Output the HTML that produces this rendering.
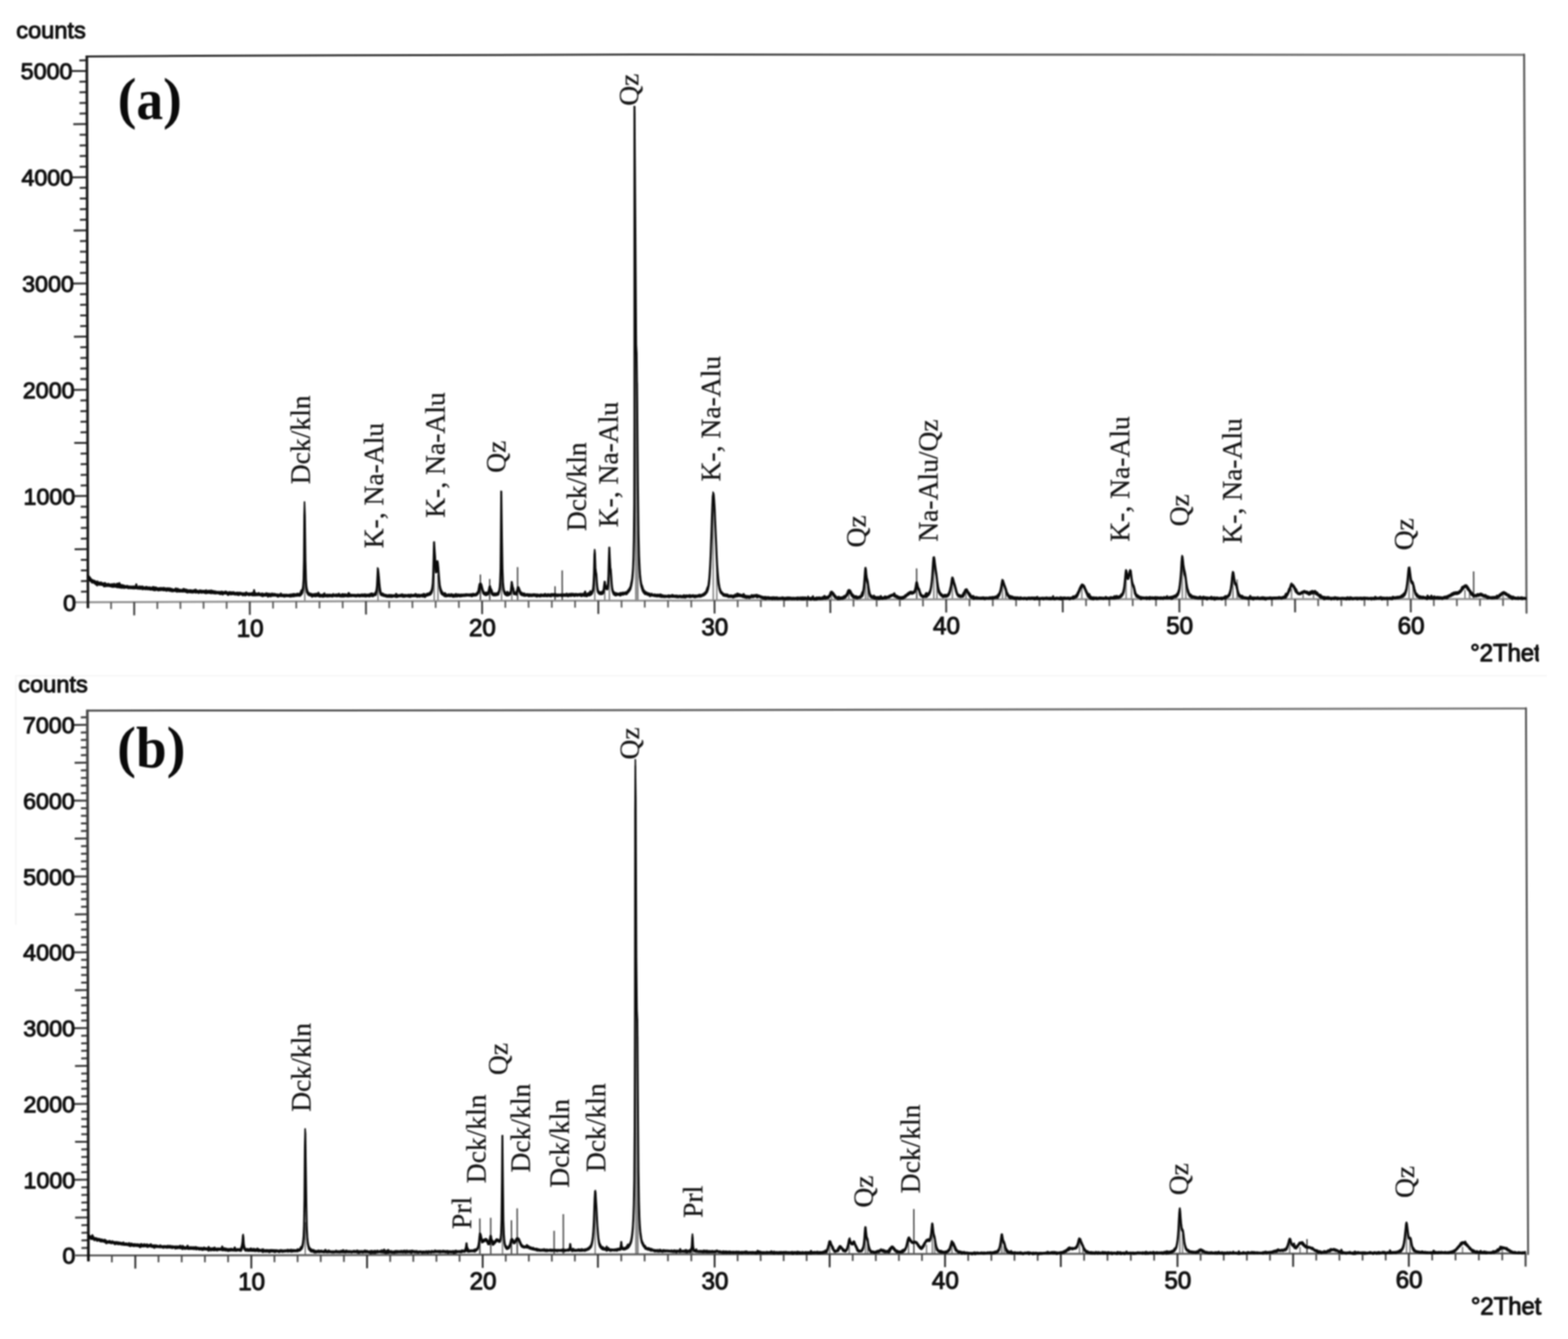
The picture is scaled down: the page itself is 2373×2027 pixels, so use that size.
<!DOCTYPE html>
<html lang="en">
<head>
<meta charset="utf-8">
<title>XRD patterns</title>
<style>
html,body{margin:0;padding:0;background:#fff;}
body{width:2373px;height:2027px;overflow:hidden;}
svg{display:block;filter:blur(0.8px);}
.sans text{font-family:"Liberation Sans",sans-serif;font-size:35.8px;fill:#111;stroke:#111;stroke-width:1.5px;stroke-linejoin:round;}
.sans text.yl{font-size:35.2px;}
.sans text.xl{font-size:36.6px;}
.sans text.th{font-size:36.4px;letter-spacing:-0.2px;}
.serif text{font-family:"Liberation Serif",serif;font-size:41.7px;fill:#151515;stroke:#151515;stroke-width:0.35px;}
.serifb text{font-family:"Liberation Serif",serif;font-size:88px;font-weight:bold;fill:#0a0a0a;}
.serifb .par{font-size:85.7px;}
</style>
</head>
<body>
<svg width="2373" height="2027" viewBox="0 0 2373 2027">
<defs>
<linearGradient id="gtop" gradientUnits="userSpaceOnUse" x1="130" y1="0" x2="2310" y2="0"><stop offset="0" stop-color="#222"/><stop offset="0.45" stop-color="#3a3a3a"/><stop offset="1" stop-color="#707070"/></linearGradient>
<linearGradient id="gleftb" gradientUnits="userSpaceOnUse" x1="0" y1="1075" x2="0" y2="1910"><stop offset="0" stop-color="#4a4a4a"/><stop offset="0.6" stop-color="#2a2a2a"/><stop offset="1" stop-color="#0c0c0c"/></linearGradient>
<linearGradient id="gtopb" gradientUnits="userSpaceOnUse" x1="130" y1="0" x2="2310" y2="0"><stop offset="0" stop-color="#484848"/><stop offset="0.4" stop-color="#5a5a5a"/><stop offset="1" stop-color="#767676"/></linearGradient>
<clipPath id="clipA"><rect x="2200" y="960" width="129" height="60"/></clipPath>
<clipPath id="clipB"><rect x="2200" y="1950" width="134.5" height="60"/></clipPath>
</defs>
<rect x="0" y="0" width="2373" height="2027" fill="#ffffff"/>
<g id="plotA">
<g stroke="#6e6e6e" stroke-width="1.9"><line x1="461.3" y1="910.5" x2="461.2" y2="870.5"/><line x1="572.1" y1="910.2" x2="572" y2="870.2"/><line x1="657.2" y1="909.9" x2="657" y2="839.9"/><line x1="662.8" y1="909.8" x2="662.7" y2="869.8"/><line x1="727.1" y1="909.7" x2="727" y2="869.7" stroke="#3c3c3c" stroke-width="2"/><line x1="741.2" y1="909.6" x2="741.1" y2="876.6" stroke="#3c3c3c" stroke-width="2"/><line x1="759.1" y1="909.6" x2="758.7" y2="769.6"/><line x1="774.6" y1="909.6" x2="774.5" y2="881.6"/><line x1="783.4" y1="909.6" x2="783.3" y2="858.6" stroke="#3c3c3c" stroke-width="2"/><line x1="840" y1="909.5" x2="840" y2="887.5" stroke="#3c3c3c" stroke-width="2"/><line x1="850.9" y1="909.4" x2="850.8" y2="863.4" stroke="#3c3c3c" stroke-width="2"/><line x1="900.2" y1="909.4" x2="900" y2="849.4"/><line x1="915.3" y1="909.3" x2="915.2" y2="881.3"/><line x1="922.3" y1="909.3" x2="922.1" y2="839.3"/><line x1="962.4" y1="909.3" x2="960.2" y2="169.3" stroke-width="2.4" stroke="#7a7a7a"/><line x1="965.2" y1="909.3" x2="964.2" y2="579.3" stroke-width="2.4" stroke="#7a7a7a"/><line x1="1079.5" y1="908.8" x2="1079.1" y2="768.8"/><line x1="1084.8" y1="908.8" x2="1084.6" y2="838.8"/><line x1="1258.4" y1="908" x2="1258.3" y2="898"/><line x1="1284.6" y1="907.9" x2="1284.6" y2="895.9"/><line x1="1309.9" y1="907.8" x2="1309.8" y2="867.8"/><line x1="1313.4" y1="907.7" x2="1313.3" y2="887.7"/><line x1="1387.4" y1="907.4" x2="1387.2" y2="860.4" stroke="#3c3c3c" stroke-width="2"/><line x1="1413.3" y1="907.3" x2="1413.2" y2="852.3"/><line x1="1417.9" y1="907.3" x2="1417.8" y2="879.3"/><line x1="1441.4" y1="907.2" x2="1441.3" y2="879.2"/><line x1="1461.9" y1="907.2" x2="1461.9" y2="895.2"/><line x1="1517.3" y1="907.2" x2="1517.2" y2="883.2"/><line x1="1521.9" y1="907.2" x2="1521.9" y2="895.2"/><line x1="1637.3" y1="907.1" x2="1637.2" y2="889.1"/><line x1="1704.3" y1="907.1" x2="1704.2" y2="871.1"/><line x1="1712.5" y1="907.1" x2="1712.4" y2="873.1"/><line x1="1789.4" y1="907.1" x2="1789.2" y2="849.1"/><line x1="1794.6" y1="907.1" x2="1794.5" y2="879.1"/><line x1="1866" y1="907.1" x2="1865.9" y2="873.1"/><line x1="1872.3" y1="907.1" x2="1872.3" y2="877.1"/><line x1="1954.6" y1="907.1" x2="1954.6" y2="891.1"/><line x1="1972.2" y1="907" x2="1972.1" y2="899"/><line x1="1987.9" y1="907" x2="1987.9" y2="899"/><line x1="2132.5" y1="907" x2="2132.4" y2="865"/><line x1="2138.5" y1="907" x2="2138.4" y2="887"/><line x1="2217.1" y1="906.9" x2="2217" y2="892.9"/><line x1="2224" y1="906.9" x2="2224" y2="892.9"/><line x1="2230.3" y1="906.9" x2="2230.2" y2="864.9" stroke="#3c3c3c" stroke-width="2"/><line x1="2274.7" y1="906.8" x2="2274.7" y2="899.8"/></g>
<polyline points="113.1,911.7 700,909.7 1000,909.2 1430,907.2 2134,907 2309.6,906.8" fill="none" stroke="#909090" stroke-width="3"/>
<line x1="168.1" y1="911.6" x2="168.1" y2="922.1" stroke="#555" stroke-width="2.5"/>
<line x1="203.1" y1="911.5" x2="203.1" y2="931.5" stroke="#3a3a3a" stroke-width="2.8"/>
<line x1="238.1" y1="911.3" x2="238.1" y2="921.8" stroke="#555" stroke-width="2.5"/>
<line x1="273" y1="911.2" x2="273.1" y2="921.7" stroke="#555" stroke-width="2.5"/>
<line x1="308" y1="911.1" x2="308.1" y2="921.6" stroke="#555" stroke-width="2.5"/>
<line x1="343" y1="911" x2="343" y2="921.5" stroke="#555" stroke-width="2.5"/>
<line x1="378" y1="910.8" x2="378.1" y2="930.8" stroke="#3a3a3a" stroke-width="2.8"/>
<line x1="413.2" y1="910.7" x2="413.2" y2="921.2" stroke="#555" stroke-width="2.5"/>
<line x1="448.3" y1="910.6" x2="448.4" y2="921.1" stroke="#555" stroke-width="2.5"/>
<line x1="483.5" y1="910.5" x2="483.5" y2="921" stroke="#555" stroke-width="2.5"/>
<line x1="518.6" y1="910.3" x2="518.7" y2="920.8" stroke="#555" stroke-width="2.5"/>
<line x1="553.8" y1="910.2" x2="553.9" y2="930.2" stroke="#3a3a3a" stroke-width="2.8"/>
<line x1="589" y1="910.1" x2="589" y2="920.6" stroke="#555" stroke-width="2.5"/>
<line x1="624.1" y1="910" x2="624.2" y2="920.5" stroke="#555" stroke-width="2.5"/>
<line x1="659.3" y1="909.8" x2="659.3" y2="920.3" stroke="#555" stroke-width="2.5"/>
<line x1="694.4" y1="909.7" x2="694.5" y2="920.2" stroke="#555" stroke-width="2.5"/>
<line x1="729.6" y1="909.7" x2="729.7" y2="929.7" stroke="#3a3a3a" stroke-width="2.8"/>
<line x1="764.8" y1="909.6" x2="764.8" y2="920.1" stroke="#555" stroke-width="2.5"/>
<line x1="799.9" y1="909.5" x2="800" y2="920" stroke="#555" stroke-width="2.5"/>
<line x1="835.1" y1="909.5" x2="835.1" y2="920" stroke="#555" stroke-width="2.5"/>
<line x1="870.3" y1="909.4" x2="870.3" y2="919.9" stroke="#555" stroke-width="2.5"/>
<line x1="905.5" y1="909.4" x2="905.5" y2="929.4" stroke="#3a3a3a" stroke-width="2.8"/>
<line x1="940.6" y1="909.3" x2="940.7" y2="919.8" stroke="#555" stroke-width="2.5"/>
<line x1="975.8" y1="909.2" x2="975.8" y2="919.7" stroke="#555" stroke-width="2.5"/>
<line x1="1011" y1="909.1" x2="1011" y2="919.6" stroke="#555" stroke-width="2.5"/>
<line x1="1046.1" y1="909" x2="1046.2" y2="919.5" stroke="#555" stroke-width="2.5"/>
<line x1="1081.3" y1="908.8" x2="1081.4" y2="928.8" stroke="#3a3a3a" stroke-width="2.8"/>
<line x1="1116.4" y1="908.7" x2="1116.4" y2="919.2" stroke="#555" stroke-width="2.5"/>
<line x1="1151.4" y1="908.5" x2="1151.5" y2="919" stroke="#555" stroke-width="2.5"/>
<line x1="1186.5" y1="908.3" x2="1186.5" y2="918.8" stroke="#555" stroke-width="2.5"/>
<line x1="1221.5" y1="908.2" x2="1221.6" y2="918.7" stroke="#555" stroke-width="2.5"/>
<line x1="1256.6" y1="908" x2="1256.7" y2="928" stroke="#3a3a3a" stroke-width="2.8"/>
<line x1="1291.7" y1="907.8" x2="1291.7" y2="918.3" stroke="#555" stroke-width="2.5"/>
<line x1="1326.7" y1="907.7" x2="1326.8" y2="918.2" stroke="#555" stroke-width="2.5"/>
<line x1="1361.8" y1="907.5" x2="1361.8" y2="918" stroke="#555" stroke-width="2.5"/>
<line x1="1396.8" y1="907.4" x2="1396.9" y2="917.9" stroke="#555" stroke-width="2.5"/>
<line x1="1431.9" y1="907.2" x2="1432" y2="927.2" stroke="#3a3a3a" stroke-width="2.8"/>
<line x1="1467.2" y1="907.2" x2="1467.2" y2="917.7" stroke="#555" stroke-width="2.5"/>
<line x1="1502.5" y1="907.2" x2="1502.5" y2="917.7" stroke="#555" stroke-width="2.5"/>
<line x1="1537.8" y1="907.2" x2="1537.8" y2="917.7" stroke="#555" stroke-width="2.5"/>
<line x1="1573.1" y1="907.2" x2="1573.1" y2="917.7" stroke="#555" stroke-width="2.5"/>
<line x1="1608.3" y1="907.1" x2="1608.4" y2="927.1" stroke="#3a3a3a" stroke-width="2.8"/>
<line x1="1643.6" y1="907.1" x2="1643.7" y2="917.6" stroke="#555" stroke-width="2.5"/>
<line x1="1678.9" y1="907.1" x2="1679" y2="917.6" stroke="#555" stroke-width="2.5"/>
<line x1="1714.2" y1="907.1" x2="1714.3" y2="917.6" stroke="#555" stroke-width="2.5"/>
<line x1="1749.5" y1="907.1" x2="1749.5" y2="917.6" stroke="#555" stroke-width="2.5"/>
<line x1="1784.8" y1="907.1" x2="1784.9" y2="927.1" stroke="#3a3a3a" stroke-width="2.8"/>
<line x1="1819.8" y1="907.1" x2="1819.9" y2="917.6" stroke="#555" stroke-width="2.5"/>
<line x1="1854.8" y1="907.1" x2="1854.9" y2="917.6" stroke="#555" stroke-width="2.5"/>
<line x1="1889.9" y1="907.1" x2="1889.9" y2="917.6" stroke="#555" stroke-width="2.5"/>
<line x1="1924.9" y1="907.1" x2="1924.9" y2="917.6" stroke="#555" stroke-width="2.5"/>
<line x1="1959.9" y1="907" x2="1960" y2="927" stroke="#3a3a3a" stroke-width="2.8"/>
<line x1="1994.9" y1="907" x2="1995" y2="917.5" stroke="#555" stroke-width="2.5"/>
<line x1="2029.9" y1="907" x2="2030" y2="917.5" stroke="#555" stroke-width="2.5"/>
<line x1="2065" y1="907" x2="2065" y2="917.5" stroke="#555" stroke-width="2.5"/>
<line x1="2100" y1="907" x2="2100" y2="917.5" stroke="#555" stroke-width="2.5"/>
<line x1="2135" y1="907" x2="2135.1" y2="927" stroke="#3a3a3a" stroke-width="2.8"/>
<line x1="2169.9" y1="907" x2="2170" y2="917.5" stroke="#555" stroke-width="2.5"/>
<line x1="2204.8" y1="906.9" x2="2204.9" y2="917.4" stroke="#555" stroke-width="2.5"/>
<line x1="2239.8" y1="906.9" x2="2239.8" y2="917.4" stroke="#555" stroke-width="2.5"/>
<line x1="2274.7" y1="906.8" x2="2274.7" y2="917.3" stroke="#555" stroke-width="2.5"/>
<line x1="122.6" y1="895.8" x2="133.1" y2="895.6" stroke="#333" stroke-width="3"/>
<line x1="122.5" y1="879.7" x2="133" y2="879.5" stroke="#333" stroke-width="3"/>
<line x1="122.5" y1="863.6" x2="133" y2="863.4" stroke="#333" stroke-width="3"/>
<line x1="122.4" y1="847.6" x2="132.9" y2="847.4" stroke="#333" stroke-width="3"/>
<line x1="112.9" y1="831.5" x2="132.9" y2="831.3" stroke="#333" stroke-width="3"/>
<line x1="122.3" y1="815.4" x2="132.8" y2="815.2" stroke="#333" stroke-width="3"/>
<line x1="122.3" y1="799.3" x2="132.8" y2="799.1" stroke="#333" stroke-width="3"/>
<line x1="122.2" y1="783.2" x2="132.7" y2="783" stroke="#333" stroke-width="3"/>
<line x1="122.2" y1="767.1" x2="132.7" y2="766.9" stroke="#333" stroke-width="3"/>
<line x1="110.6" y1="751" x2="132.6" y2="750.8" stroke="#333" stroke-width="3"/>
<line x1="122.1" y1="735" x2="132.6" y2="734.8" stroke="#333" stroke-width="3"/>
<line x1="122" y1="718.9" x2="132.5" y2="718.7" stroke="#333" stroke-width="3"/>
<line x1="122" y1="702.8" x2="132.5" y2="702.6" stroke="#333" stroke-width="3"/>
<line x1="121.9" y1="686.7" x2="132.4" y2="686.5" stroke="#333" stroke-width="3"/>
<line x1="112.4" y1="670.6" x2="132.4" y2="670.4" stroke="#333" stroke-width="3"/>
<line x1="121.8" y1="654.5" x2="132.3" y2="654.3" stroke="#333" stroke-width="3"/>
<line x1="121.8" y1="638.4" x2="132.3" y2="638.2" stroke="#333" stroke-width="3"/>
<line x1="121.7" y1="622.4" x2="132.2" y2="622.2" stroke="#333" stroke-width="3"/>
<line x1="121.7" y1="606.3" x2="132.2" y2="606.1" stroke="#333" stroke-width="3"/>
<line x1="110.1" y1="590.2" x2="132.1" y2="590" stroke="#333" stroke-width="3"/>
<line x1="121.6" y1="574.1" x2="132.1" y2="573.9" stroke="#333" stroke-width="3"/>
<line x1="121.5" y1="558" x2="132" y2="557.8" stroke="#333" stroke-width="3"/>
<line x1="121.5" y1="541.9" x2="132" y2="541.7" stroke="#333" stroke-width="3"/>
<line x1="121.4" y1="525.8" x2="131.9" y2="525.6" stroke="#333" stroke-width="3"/>
<line x1="111.9" y1="509.7" x2="131.9" y2="509.5" stroke="#333" stroke-width="3"/>
<line x1="121.3" y1="493.7" x2="131.8" y2="493.5" stroke="#333" stroke-width="3"/>
<line x1="121.3" y1="477.6" x2="131.8" y2="477.4" stroke="#333" stroke-width="3"/>
<line x1="121.2" y1="461.5" x2="131.7" y2="461.3" stroke="#333" stroke-width="3"/>
<line x1="121.2" y1="445.4" x2="131.7" y2="445.2" stroke="#333" stroke-width="3"/>
<line x1="109.7" y1="429.3" x2="131.7" y2="429.1" stroke="#333" stroke-width="3"/>
<line x1="121.1" y1="413.2" x2="131.6" y2="413" stroke="#333" stroke-width="3"/>
<line x1="121.1" y1="397.1" x2="131.6" y2="396.9" stroke="#333" stroke-width="3"/>
<line x1="121" y1="381.1" x2="131.5" y2="380.9" stroke="#333" stroke-width="3"/>
<line x1="121" y1="365" x2="131.5" y2="364.8" stroke="#333" stroke-width="3"/>
<line x1="111.4" y1="348.9" x2="131.4" y2="348.7" stroke="#333" stroke-width="3"/>
<line x1="120.9" y1="332.8" x2="131.4" y2="332.6" stroke="#333" stroke-width="3"/>
<line x1="120.8" y1="316.7" x2="131.3" y2="316.5" stroke="#333" stroke-width="3"/>
<line x1="120.8" y1="300.6" x2="131.3" y2="300.4" stroke="#333" stroke-width="3"/>
<line x1="120.7" y1="284.5" x2="131.2" y2="284.3" stroke="#333" stroke-width="3"/>
<line x1="109.2" y1="268.5" x2="131.2" y2="268.3" stroke="#333" stroke-width="3"/>
<line x1="120.6" y1="252.4" x2="131.1" y2="252.2" stroke="#333" stroke-width="3"/>
<line x1="120.6" y1="236.3" x2="131.1" y2="236.1" stroke="#333" stroke-width="3"/>
<line x1="120.5" y1="220.2" x2="131" y2="220" stroke="#333" stroke-width="3"/>
<line x1="120.5" y1="204.1" x2="131" y2="203.9" stroke="#333" stroke-width="3"/>
<line x1="110.9" y1="188" x2="130.9" y2="187.8" stroke="#333" stroke-width="3"/>
<line x1="120.4" y1="171.9" x2="130.9" y2="171.7" stroke="#333" stroke-width="3"/>
<line x1="120.3" y1="155.9" x2="130.8" y2="155.7" stroke="#333" stroke-width="3"/>
<line x1="120.3" y1="139.8" x2="130.8" y2="139.6" stroke="#333" stroke-width="3"/>
<line x1="120.2" y1="123.7" x2="130.7" y2="123.5" stroke="#333" stroke-width="3"/>
<line x1="108.7" y1="107.6" x2="130.7" y2="107.4" stroke="#333" stroke-width="3"/>
<line x1="120.1" y1="91.5" x2="130.6" y2="91.3" stroke="#333" stroke-width="3"/>
<polyline points="131.4,85.6 300,84.4 960,82.6 2306.6,83" fill="none" stroke="url(#gtop)" stroke-width="3" stroke-linejoin="round"/>
<polyline points="2306.6,82.5 2310.2,927.8" fill="none" stroke="#555" stroke-width="3" stroke-linecap="round"/>
<polyline points="131.4,84.1 133.1,920.7" fill="none" stroke="#1a1a1a" stroke-width="4"/>
<polygon points="133,870.7 133.7,870.9 134.4,871.5 135.1,872.4 135.8,872.9 136.5,874.2 137.2,874.6 137.9,876.1 138.6,876.6 139.3,877 140,877.5 140.7,878.1 141.4,878 142.1,878.5 142.8,878.5 143.5,878.8 144.2,879.2 144.9,879.4 145.6,880.3 146.3,880.3 147,880.1 147.7,879.3 148.4,881.1 149.1,881.3 149.8,881 150.5,881.8 151.2,881.4 151.9,881.5 152.6,881 153.3,881 154,881.8 154.7,882.8 155.4,882.3 156.1,882.4 156.8,882.9 157.5,882.4 158.2,882.1 158.9,881.8 159.6,882.3 160.3,883 161,883.8 161.7,883.6 162.4,884.2 163.1,884 163.8,882.9 164.5,883.5 165.2,884.3 165.9,883.9 166.6,884.3 167.3,884.1 168,884.9 168.7,884.1 169.4,883.6 170.1,883.5 170.8,884.3 171.5,884.9 172.2,883.5 172.9,882.9 173.6,883.8 174.3,884.1 175,885.4 175.7,884.6 176.4,883.1 177.1,883.6 177.8,882.8 178.5,883.3 179.2,883 179.9,883.1 180.6,881.8 181.3,882.5 182,884 182.7,884.8 183.4,884.9 184.1,886.3 184.8,885.8 185.5,884.8 186.2,885.7 186.9,886.2 187.6,885.8 188.3,886.1 189,886.3 189.7,886.6 190.4,886.8 191.1,886.9 191.8,886.3 192.5,886.1 193.2,886.8 193.9,886.8 194.6,887.2 195.3,887.3 196,887.1 196.7,887.4 197.4,887.2 198.1,887.2 198.8,887.3 199.5,887.4 200.2,887.2 200.9,887.4 201.6,887.5 202.3,886.9 203,887.2 203.7,887.8 204.4,887.7 205.1,886.4 205.8,883.9 206.5,883.8 207.2,885.2 207.9,887.9 208.6,887.9 209.3,888.1 210,887.9 210.7,887.1 211.4,886.9 212.1,888.1 212.8,887.6 213.5,887.6 214.2,887.3 214.9,887.4 215.6,887.3 216.3,887.3 217,888.4 217.7,888.5 218.4,888.5 219.1,888.6 219.8,888.5 220.5,887.9 221.2,887.9 221.9,887.9 222.6,888 223.3,888.4 224,888.7 224.7,888.4 225.4,889.3 226.1,888.8 226.8,888.3 227.5,888.7 228.2,889.4 228.9,889.5 229.6,889 230.3,888.8 231,888.2 231.7,887.8 232.4,888.3 233.1,888.3 233.8,888.6 234.5,888.6 235.2,889.5 235.9,888.5 236.6,888.9 237.3,889.3 238,890.4 238.7,889.8 239.4,890.1 240.1,889.7 240.8,889.9 241.5,889.9 242.2,889.6 242.9,889.7 243.6,889.3 244.3,890.3 245,890 245.7,889.7 246.4,889.3 247.1,889.5 247.8,890.3 248.5,889.2 249.2,889.9 249.9,890.7 250.6,890.1 251.3,890 252,890.3 252.7,890.7 253.4,889.8 254.1,889.7 254.8,890 255.5,890.7 256.2,890.7 256.9,889.7 257.6,890.6 258.3,891 259,890.9 259.7,890.5 260.4,891.2 261.1,891.8 261.8,891.6 262.5,892.1 263.2,892 263.9,891.6 264.6,891.4 265.3,890.7 266,889.9 266.7,891.2 267.4,891 268.1,891.7 268.8,890.3 269.5,891.2 270.2,891.4 270.9,892.3 271.6,891.9 272.3,892.1 273,892.4 273.7,892.3 274.4,892.3 275.1,892.7 275.8,892.2 276.5,891.7 277.2,891.3 277.9,890.7 278.6,891 279.3,891.2 280,892 280.7,892.2 281.4,891.5 282.1,892.1 282.8,893.3 283.5,892.4 284.2,892.7 284.9,893.3 285.6,893.2 286.3,892.9 287,893.3 287.7,892.9 288.4,892.8 289.1,892.7 289.8,893.6 290.5,893.7 291.2,893.2 291.9,893.9 292.6,893.3 293.3,892.7 294,892.7 294.7,892.8 295.4,892.2 296.1,891.8 296.8,892.9 297.5,893.1 298.2,893.3 298.9,893.5 299.6,894.1 300.3,894 301,894.1 301.7,893.3 302.4,893.1 303.1,893.6 303.8,893.1 304.5,893.8 305.2,894 305.9,893.5 306.6,893.8 307.3,894.1 308,893.7 308.7,894 309.4,893.6 310.1,893.6 310.8,894.3 311.5,893.4 312.2,892.7 312.9,893.9 313.6,894.4 314.3,894.1 315,894.5 315.7,893.6 316.4,893.4 317.1,894 317.8,894.4 318.5,894.2 319.2,893 319.9,893.4 320.6,894.2 321.3,893.9 322,894.4 322.7,893.8 323.4,894.7 324.1,895.1 324.8,894.5 325.5,894.4 326.2,895.1 326.9,895 327.6,895.4 328.3,895.2 329,895.3 329.7,895.3 330.4,895.4 331.1,895.6 331.8,895.2 332.5,895.6 333.2,895.3 333.9,895.8 334.6,895.8 335.3,894.8 336,895.1 336.7,895.2 337.4,895.5 338.1,896.2 338.8,895.9 339.5,895.9 340.2,895.1 340.9,895.4 341.6,894.7 342.3,895.7 343,895.3 343.7,896.4 344.4,896.3 345.1,896.2 345.8,896.6 346.5,895.9 347.2,895.6 347.9,895.5 348.6,896.6 349.3,896 350,895.9 350.7,896.6 351.4,895.8 352.1,896.4 352.8,896.8 353.5,895.6 354.2,895.9 354.9,897 355.6,897 356.3,896.8 357,896.7 357.7,897.2 358.4,896.3 359.1,896.9 359.8,896.5 360.5,897.5 361.2,896.4 361.9,897.2 362.6,896.9 363.3,896.3 364,896.9 364.7,897.1 365.4,896.9 366.1,897.3 366.8,897.6 367.5,897.4 368.2,897.6 368.9,897.4 369.6,897.4 370.3,897.5 371,897.6 371.7,896.7 372.4,896.2 373.1,896 373.8,897.1 374.5,897.8 375.2,897.7 375.9,897.5 376.6,897.6 377.3,897.5 378,897.8 378.7,897.8 379.4,897.5 380.1,897.8 380.8,897.5 381.5,896.9 382.2,897.5 382.9,898.2 383.6,894.8 384.3,892.5 385,892.8 385.7,895.8 386.4,897.6 387.1,897.9 387.8,897.6 388.5,898.2 389.2,898.6 389.9,897.6 390.6,898.1 391.3,897 392,897.1 392.7,898 393.4,898.3 394.1,898.3 394.8,898.5 395.5,898.1 396.2,898.5 396.9,897.5 397.7,898.7 398.4,898.9 399.1,898.4 399.8,898.9 400.5,898.4 401.2,898.9 401.9,898.5 402.6,897.3 403.3,897.6 404,897.6 404.7,898.7 405.4,898.1 406.1,898.3 406.8,898.7 407.5,898.2 408.2,898.3 408.9,898.5 409.6,898.9 410.3,898.9 411,898.2 411.7,897.6 412.4,898.5 413.1,898.9 413.8,898.5 414.5,898.2 415.2,898.4 415.9,898.2 416.6,899.1 417.3,899 418,899.3 418.8,899.1 419.5,899.3 420.2,899.5 420.9,899.2 421.6,899.5 422.3,899.5 423,899.5 423.7,899.6 424.4,898.2 425.1,897.7 425.8,898.3 426.5,899.8 427.2,899.7 427.9,899.8 428.6,899.4 429.3,900.1 430,899.6 430.7,899.5 431.4,899.8 432.1,899.7 432.8,899.6 433.5,899.8 434.2,899.5 434.9,899.9 435.6,900.1 436.3,900 437,899.7 437.7,900 438.4,899.4 439.1,899.9 439.8,899.4 440.6,899.3 441.3,899 442,899.6 442.7,899.3 443.4,898.5 444.1,898.9 444.8,898.5 445.5,899.1 446.2,898.6 446.9,899.4 447.6,899.6 448.3,898.8 449,899.2 449.7,897.9 450.4,898.6 451.1,898.5 451.8,898.1 452.5,898.6 453.2,898.4 453.9,897.5 454.6,896.2 455.3,893.7 456,893 456.7,892.7 457.4,891.3 458.1,886.8 458.8,876.6 459.4,848.2 459.9,780.5 460.5,759.6 460.9,759.7 461.2,759.8 462,781.1 462.9,848.2 463.7,876.8 464.4,887.5 465.1,891.8 465.9,894.2 466.6,896.1 467.3,896.9 468,897.2 468.7,897.6 469.4,898.5 470.1,898.5 470.8,898 471.5,899 472.2,898.7 472.9,899.4 473.6,898.9 474.3,899.4 475,898.9 475.7,898.5 476.4,898.5 477.1,898.9 477.8,898.9 478.5,898 479.2,898 479.9,899.2 480.6,899.1 481.3,897.2 482,896.3 482.7,897.7 483.4,899.2 484.1,899.2 484.9,899.9 485.6,899.6 486.3,900 487,900.1 487.7,899.6 488.4,899.2 489.1,899.9 489.8,898.5 490.5,897.8 491.2,897.3 491.9,898.9 492.6,900.1 493.3,900 494,900 494.7,899.5 495.4,899.2 496.1,900.1 496.8,899.9 497.5,900.2 498.2,899.6 498.9,899.3 499.6,900.2 500.3,900 501,899.6 501.7,900.2 502.4,900 503.1,899.4 503.8,899.5 504.5,898.3 505.2,899.5 506,900 506.7,900 507.4,900.1 508.1,898.9 508.8,899.7 509.5,899.7 510.2,899.4 510.9,898.9 511.6,899.9 512.3,899 513,897.9 513.7,898.9 514.4,899.4 515.1,900 515.8,899.9 516.5,899.7 517.2,899.2 517.9,898.8 518.6,898.9 519.3,898.8 520,899.1 520.7,900 521.4,899.4 522.1,898.9 522.8,898.9 523.5,899.5 524.2,900.2 524.9,899.8 525.6,899.2 526.3,898.8 527,897.5 527.7,896.8 528.4,897.3 529.2,898.6 529.9,899.5 530.6,899.5 531.3,899.5 532,899.7 532.7,899.7 533.4,899.9 534.1,899.6 534.8,900.1 535.5,900.1 536.2,899.6 536.9,900.2 537.6,900.1 538.3,899.7 539,900.4 539.7,900.3 540.4,899.6 541.1,900.3 541.8,899.3 542.5,899.6 543.2,900 543.9,899.7 544.6,900 545.3,899.6 546,899.8 546.7,899.9 547.4,899 548.1,899.7 548.8,899.3 549.5,899.5 550.3,899.8 551,899 551.7,899.2 552.4,899.1 553.1,899.1 553.8,899.5 554.5,900.2 555.2,899.4 555.9,899.7 556.6,899.5 557.3,899.2 558,899.2 558.7,899.3 559.4,899.6 560.1,898.4 560.8,898.1 561.5,898 562.2,897.9 562.9,898.2 563.6,897.6 564.3,899 565,899.1 565.7,898.7 566.4,898.2 567.1,897.5 567.8,896.4 568.5,895.5 569.2,892.5 569.9,886.1 570.6,871.8 571.2,859.3 571.9,859.8 572.6,860.7 573.4,866.5 574.1,873.7 574.8,882.2 575.5,888.9 576.3,894 577,896.9 577.7,897.7 578.4,897.9 579.1,897.9 579.8,897.9 580.5,899.1 581.2,899.9 581.9,899.3 582.6,899.6 583.3,900 584,899.8 584.7,900.1 585.4,900.2 586.1,900.3 586.8,900.5 587.5,900.6 588.2,900.3 588.9,900 589.6,899.9 590.3,900.4 591,900.4 591.7,900.5 592.4,899.9 593.2,900.4 593.9,900.6 594.6,900.6 595.3,900.4 596,900.3 596.7,900.6 597.4,900.5 598.1,900.4 598.8,898.6 599.5,898.2 600.2,898.7 600.9,900.1 601.6,900.2 602.3,900 603,900.3 603.7,900.3 604.4,900.2 605.1,900.2 605.8,899.9 606.5,899.3 607.2,900 607.9,899.8 608.6,898.9 609.3,899.7 610,899.6 610.7,900 611.4,900 612.1,900.3 612.8,900 613.5,899.9 614.2,900.2 614.9,900 615.7,900.4 616.4,900.3 617.1,900.3 617.8,899.5 618.5,899.6 619.2,900.3 619.9,899.8 620.6,900.4 621.3,899.8 622,899.2 622.7,899.6 623.4,900.1 624.1,900.1 624.8,899.9 625.5,900 626.2,899.7 626.9,899.8 627.6,899.2 628.3,899.2 629,898.3 629.7,899.6 630.4,899.3 631.1,900.2 631.8,899.5 632.5,900.1 633.2,900.1 633.9,899.4 634.6,900.2 635.3,900.2 636,899.9 636.7,900.4 637.5,899.9 638.2,899.3 638.9,899.8 639.6,900.1 640.3,898.9 641,898.3 641.7,898.5 642.4,898.8 643.1,899.6 643.8,899.3 644.5,899.3 645.2,899.1 645.9,898.2 646.6,898 647.3,897.8 648,898.4 648.7,898.2 649.4,897 650.1,896.8 650.8,896.2 651.5,895.1 652.2,893.9 652.9,892 653.6,888.6 654.3,882.5 654.9,869.9 655.6,844.6 656.2,820.3 656.9,820.6 657.6,820.1 658.3,831.2 659.1,842.4 659.8,854.9 660.5,854 661.2,849.1 661.9,848.7 662.6,848.9 663.3,852.1 664.1,860.2 664.8,869.7 665.5,878.3 666.2,885.4 667,889.2 667.7,891.6 668.4,893.8 669.1,894.5 669.8,895.8 670.5,897.2 671.2,898.1 671.9,897.8 672.6,897 673.3,897.2 674,897.6 674.7,898.2 675.4,899.1 676.1,899.9 676.8,900.1 677.5,899.8 678.2,899.7 678.9,898.7 679.6,899.1 680.3,899.7 681,900 681.8,899.3 682.5,898.6 683.2,898.8 683.9,899.4 684.6,899.6 685.3,899.2 686,900.1 686.7,900.1 687.4,899.6 688.1,900.2 688.8,899.1 689.5,898.6 690.2,898.4 690.9,899.4 691.6,899.7 692.3,899.3 693,899.3 693.7,899.1 694.4,899.7 695.1,899.8 695.8,899.4 696.5,900 697.2,899.5 697.9,899.5 698.6,899.1 699.3,899.6 700,899.8 700.7,900 701.4,899.1 702.1,899.4 702.8,899.5 703.6,899.3 704.3,899.6 705,898.9 705.7,898.8 706.4,899 707.1,899.2 707.8,899 708.5,899.5 709.2,899.3 709.9,899.1 710.6,899.3 711.3,899.3 712,898.8 712.7,898.9 713.4,898.9 714.1,899.4 714.8,898.7 715.5,898.3 716.2,898.4 716.9,898.3 717.6,899.1 718.3,898.7 719,899 719.7,898.2 720.4,898.3 721.1,898 721.8,896.4 722.5,896 723.2,894.5 723.9,891 724.6,886.5 725.3,883.8 726,882.9 726.7,883.1 727.1,883.6 727.4,883.3 728.1,882.8 728.8,884.1 729.5,885.9 730.2,889.1 731,891.8 731.7,893.8 732.4,895.4 733.1,896.4 733.8,896.9 734.5,896.6 735.2,896.4 735.9,896.3 736.6,896.8 737.3,896.4 738,896.8 738.7,894.9 739.4,891.6 740.1,888.1 740.8,886.9 741.1,886.9 741.5,886.7 742.2,887 742.9,889.7 743.6,891.5 744.3,892.5 745,894.4 745.7,896.6 746.4,897.9 747.2,898 747.9,898.5 748.6,897.1 749.3,898.2 750,898.3 750.7,897.9 751.4,897.6 752.1,897.3 752.8,897.1 753.5,896.3 754.2,895.2 754.9,893 755.6,889 756.2,880.8 756.9,861.1 757.4,808.6 757.9,743.3 758.6,744 759.3,743.7 760.2,809.4 761.1,861.3 761.9,881.2 762.6,888.8 763.3,893 764,894.4 764.7,895.8 765.4,896.5 766.1,897.8 766.8,896.5 767.5,895.2 768.2,895.1 768.9,896.1 769.7,897.4 770.4,897.1 771.1,897 771.8,896.1 772.5,893.4 773.1,887.6 773.8,880.3 774.5,880.4 775.2,880.8 776,885.8 776.7,888.8 777.4,890.2 778.1,893.7 778.8,896.3 779.5,897.2 780.2,896.4 780.9,896.1 781.6,894.6 782.3,891.6 783,888.5 783.7,888.2 784,888.2 784.4,888.3 785.1,888.4 785.8,889.9 786.5,891.5 787.2,893.3 787.9,894.9 788.6,897 789.4,896.7 790.1,896.5 790.8,897.7 791.5,898.7 792.2,898.1 792.9,897.8 793.6,897.6 794.3,898.1 795,899.3 795.7,899.2 796.4,899.1 797.1,899 797.8,898.5 798.5,899.1 799.2,899.1 799.9,899 800.6,899.1 801.3,899.1 802,899.4 802.7,899.1 803.4,899.7 804.1,899.2 804.8,899.3 805.5,899.3 806.2,899 806.9,899.4 807.6,898.9 808.3,898.8 809.1,899.7 809.8,899.1 810.5,899.5 811.2,899 811.9,899.6 812.6,899.4 813.3,899.5 814,899.1 814.7,899.7 815.4,899.9 816.1,900 816.8,899.8 817.5,899.4 818.2,899.1 818.9,899 819.6,899.9 820.3,899.6 821,899.5 821.7,899.4 822.4,899.7 823.1,899.7 823.8,898.7 824.5,898.5 825.2,898.4 825.9,898.9 826.6,899.7 827.3,899.9 828,899.6 828.7,898.9 829.5,898.8 830.2,899.5 830.9,899.3 831.6,899.4 832.3,899.4 833,899.3 833.7,898.7 834.4,898.8 835.1,898.7 835.8,898.4 836.5,898.9 837.2,899.5 837.9,898.6 838.6,898.7 839.3,899 840,899.1 840.7,898.2 841.4,899.2 842.1,899.3 842.8,899.3 843.5,899.2 844.2,899.5 844.9,899.1 845.6,899.4 846.3,899.8 847,899.4 847.7,899.4 848.4,899.6 849.1,898.8 849.9,899.5 850.6,899.6 851.3,899.3 852,899.1 852.7,899.2 853.4,899.1 854.1,898.8 854.8,899.2 855.5,899.3 856.2,899 856.9,898.6 857.6,897.6 858.3,899 859,899.6 859.7,899.1 860.4,899 861.1,898.4 861.8,898.7 862.5,898.4 863.2,899.5 863.9,899 864.6,897.8 865.3,898.6 866,899.2 866.7,898.2 867.4,898.4 868.1,898.3 868.8,899.2 869.5,898.7 870.2,898.8 871,898.4 871.7,898.2 872.4,898.8 873.1,898.7 873.8,898.8 874.5,898.7 875.2,898.8 875.9,898.5 876.6,899.1 877.3,898.9 878,898.1 878.7,898.8 879.4,898.3 880.1,898.9 880.8,899 881.5,898.1 882.2,899.1 882.9,898.6 883.6,897.8 884.3,897 885,895.1 885.7,894.7 886.4,896 887.1,898.5 887.8,898.9 888.5,898.6 889.2,897.9 889.9,897.5 890.6,897.1 891.3,897.5 892,896.4 892.7,895.1 893.4,894 894.2,895.6 894.9,896.2 895.6,894.6 896.3,893.4 897,890.2 897.6,882.8 898.3,866.9 898.9,839.9 899.6,832 899.9,831.6 900.3,832 901,837.4 901.8,859.9 902.5,865.4 903.2,869.1 904,881.3 904.7,888.8 905.4,892.9 906.1,894.8 906.8,895.4 907.5,895.4 908.2,895.7 908.9,896.3 909.6,896.2 910.3,895.5 911,895 911.7,895.4 912.4,893.8 913.1,890.4 913.8,884.7 914.5,879.9 915.2,880.3 915.9,880.1 916.6,884.6 917.3,887.4 918,887.4 918.8,887.9 919.4,883.4 920.1,872.1 920.7,848.9 921.4,828.5 922.1,828.2 922.8,828.4 923.5,844 924.3,859.3 925,862.5 925.7,871.8 926.5,883.6 927.2,889.7 927.9,893 928.6,894.9 929.3,895.8 930,896.2 930.7,897.3 931.4,897.3 932.1,897.1 932.8,897.4 933.6,897.6 934.3,898.4 935,898.2 935.7,897.8 936.4,898.3 937.1,898.5 937.8,897.4 938.5,897.3 939.2,896.9 939.9,896.9 940.6,897.5 941.3,897.6 942,896.8 942.7,896.2 943.4,896.8 944.1,897.2 944.8,897.1 945.5,896.1 946.2,895.9 946.9,896.2 947.6,896 948.3,895.4 949,894.8 949.7,894.2 950.4,892.7 951.1,892.2 951.8,891.2 952.5,889.7 953.2,888.7 953.9,886.4 954.6,882.8 955.3,879.7 956,876.1 956.7,868.6 957.4,859.3 958,843.3 958.6,816.1 959.2,762.1 959.5,642.1 959.5,393.2 959.5,160.9 960.2,161.3 960.9,161.1 962.2,349.5 963.4,521.8 964.1,535.4 965,610.5 966.1,737.5 967,808.6 967.8,841 968.6,858.4 969.3,869.4 970.1,877.1 970.8,881.5 971.5,884.8 972.2,886.2 972.9,888.4 973.6,890.6 974.3,892.7 975,893.3 975.7,893.9 976.5,895.4 977.2,895.6 977.9,895.7 978.6,896.1 979.3,896.8 980,897.7 980.7,897.3 981.4,897.2 982.1,898.2 982.8,897.8 983.5,898 984.2,898.6 984.9,898.7 985.6,899.2 986.3,897.9 987,898.9 987.7,899.1 988.4,899.5 989.1,899.7 989.8,899.7 990.5,898.9 991.2,899.6 991.9,899.8 992.6,899.5 993.3,900 994.1,899.8 994.8,899.7 995.5,899.3 996.2,899.8 996.9,900.1 997.6,900.4 998.3,899.3 999,899.8 999.7,899 1000.4,899.9 1001.1,899.9 1001.8,900.5 1002.5,900.2 1003.2,900.7 1003.9,900.9 1004.6,900.9 1005.3,901.4 1006,901.4 1006.7,901.1 1007.4,901 1008.1,901.2 1008.8,901.5 1009.5,901.4 1010.2,901.2 1010.9,900.7 1011.6,900.5 1012.3,900.9 1013,901 1013.7,900.8 1014.5,901 1015.2,900.9 1015.9,901.1 1016.6,900.6 1017.3,899.8 1018,900.1 1018.7,901.1 1019.4,900.7 1020.1,900.7 1020.8,901.1 1021.5,901.2 1022.2,901.4 1022.9,900.7 1023.6,900.9 1024.3,901 1025,901.5 1025.7,901.2 1026.4,901.4 1027.1,901.4 1027.8,901.6 1028.5,901.1 1029.2,901.5 1029.9,901 1030.6,901.6 1031.3,901.6 1032,901.8 1032.7,901.4 1033.4,901.7 1034.1,900.9 1034.8,900.3 1035.6,900.6 1036.3,900.9 1037,901.6 1037.7,900.9 1038.4,900.6 1039.1,901.3 1039.8,900.5 1040.5,901.2 1041.2,900.9 1041.9,900.7 1042.6,900.4 1043.3,900.9 1044,900.1 1044.7,901 1045.4,901.1 1046.1,900.6 1046.8,900.7 1047.5,900.8 1048.2,900.9 1048.9,900.1 1049.6,900.6 1050.3,901.1 1051,901 1051.7,900.9 1052.4,900.6 1053.1,901.1 1053.8,900.9 1054.5,901.1 1055.3,901 1056,900.2 1056.7,900.6 1057.4,900.2 1058.1,899.9 1058.8,899.4 1059.5,899.8 1060.2,900 1060.9,900 1061.6,899.9 1062.3,899.4 1063,899.1 1063.7,898.7 1064.4,898.3 1065.1,898.2 1065.8,897.3 1066.5,896.3 1067.2,896.2 1067.9,895.6 1068.6,893.4 1069.3,891.4 1070,889.4 1070.7,888.2 1071.4,886.3 1072.1,880.8 1072.8,874.8 1073.4,866.4 1074.1,854.8 1074.8,840.3 1075.4,822.7 1076.1,803.1 1076.7,783.3 1077.4,765 1078,751.3 1078.7,747.4 1079,744.5 1079.4,745.2 1080.1,746.3 1080.8,748.7 1081.5,757.6 1082.3,770.9 1083,788.5 1083.8,806.9 1084.6,824.4 1085.3,841.2 1086,854.5 1086.8,866.1 1087.5,873.9 1088.2,880.6 1088.9,885.5 1089.7,889.7 1090.4,891.6 1091.1,893.6 1091.8,895 1092.5,895.6 1093.2,896.5 1093.9,897.5 1094.6,897.7 1095.3,898.4 1096,898.7 1096.7,899.3 1097.4,899.7 1098.1,898.8 1098.8,899.3 1099.5,899.8 1100.2,899.2 1100.9,899.1 1101.6,900.3 1102.3,900.1 1103,900.8 1103.7,901.1 1104.4,901 1105.1,900.8 1105.8,900.4 1106.5,900.7 1107.2,900.8 1107.9,901.3 1108.6,901 1109.3,901.2 1110,900.8 1110.7,901 1111.4,900.3 1112.1,899.8 1112.8,899.2 1113.5,899.8 1114.2,899.8 1114.9,898.7 1115.6,897.8 1116.3,897.7 1117,898.4 1117.7,899.2 1118.1,899.1 1118.4,898.8 1119.1,899.1 1119.8,899.1 1120.5,899.8 1121.2,899.8 1121.9,899.9 1122.6,899.8 1123.3,900.4 1124,900.1 1124.7,898.9 1125.4,898.4 1126.1,899.1 1126.9,900.5 1127.6,900.8 1128.3,901 1129,902 1129.7,902.2 1130.4,901.2 1131.1,902 1131.8,902 1132.5,901.8 1133.2,901.6 1133.9,901.7 1134.6,902.2 1135.3,902.3 1136,901.9 1136.7,900.7 1137.4,900.1 1138.1,900.4 1138.8,901 1139.5,901.1 1140.2,900.3 1140.9,900.3 1141.6,900.4 1142.3,900.5 1143,900.3 1143.7,900.5 1144.4,899.7 1145.1,900.2 1145.8,899.9 1146.5,900.3 1147.2,900.5 1147.9,900.7 1148.6,901 1149.3,901.1 1150,901.3 1150.7,901.9 1151.4,901.9 1152.1,902.3 1152.8,902.4 1153.5,902.6 1154.2,902.9 1154.9,902.9 1155.6,903.2 1156.3,903.1 1157,903.6 1157.7,902.9 1158.4,903.1 1159.1,902.9 1159.8,903.6 1160.5,903.7 1161.2,903.4 1161.9,903 1162.6,903.2 1163.3,903.8 1164,903.5 1164.7,903.8 1165.4,903.9 1166.1,903.7 1166.8,903.8 1167.5,904.2 1168.2,903.7 1168.9,903.4 1169.6,903.9 1170.3,903.4 1171,903.7 1171.7,903.5 1172.4,903.6 1173.1,904.2 1173.8,903.7 1174.5,904 1175.2,903.5 1175.9,903.6 1176.6,903.8 1177.4,904.4 1178.1,904.3 1178.8,904.4 1179.5,904.6 1180.2,904.1 1180.9,904.6 1181.6,904.1 1182.3,904.5 1183,904.5 1183.7,903.3 1184.4,904 1185.1,903.7 1185.8,904.5 1186.5,904.1 1187.2,904.5 1187.9,904.5 1188.6,904.1 1189.3,904.3 1190,904.4 1190.7,904 1191.4,903.6 1192.1,904.1 1192.8,904.2 1193.5,903.5 1194.2,904.3 1194.9,904.2 1195.6,903.7 1196.3,904.3 1197,904.4 1197.7,904.4 1198.4,904.2 1199.1,904.5 1199.8,904.3 1200.5,904.2 1201.2,904.5 1201.9,904.2 1202.6,904.7 1203.3,904.6 1204,904.5 1204.7,904.3 1205.4,904.6 1206.1,903.8 1206.8,904.5 1207.5,904.4 1208.2,903.5 1208.9,904.1 1209.6,904.7 1210.3,904.6 1211,904 1211.7,903.4 1212.4,904 1213.1,904.6 1213.8,904 1214.5,903.6 1215.2,903.2 1215.9,904 1216.6,904.1 1217.3,904.5 1218,903.8 1218.7,903.4 1219.4,903.9 1220.1,904.8 1220.8,904.8 1221.5,904.1 1222.2,903.5 1222.9,902.1 1223.6,903.9 1224.3,903.8 1225,904.5 1225.7,904.5 1226.4,904.4 1227.1,904.6 1227.8,904 1228.5,904 1229.2,903.5 1229.9,902 1230.6,901.9 1231.3,903.5 1232,904.8 1232.8,905.1 1233.5,904.8 1234.2,905 1234.9,904.1 1235.6,903.6 1236.3,904.5 1237,904.8 1237.7,903.7 1238.4,904.3 1239.1,904.3 1239.8,903.5 1240.5,903.5 1241.2,904.6 1241.9,904.3 1242.6,904.4 1243.3,904.3 1244,903.8 1244.7,903 1245.4,904 1246.1,903.8 1246.8,901.9 1247.5,901.5 1248.2,901.3 1248.9,902.6 1249.6,903.4 1250.3,903 1251,903.3 1251.7,902.5 1252.4,902.9 1253.1,902.5 1253.8,901.6 1254.5,901 1255.2,899.8 1255.9,897.7 1256.6,896.1 1257.3,895.3 1258,895.6 1258.3,895 1258.7,894.9 1259.4,895.4 1260.1,895.8 1260.8,896.5 1261.5,897.9 1262.2,897.8 1262.9,899.6 1263.6,900.6 1264.3,900.6 1265,902.3 1265.7,902.8 1266.4,903.1 1267.1,903.5 1267.8,903.7 1268.5,903.2 1269.2,902.5 1269.9,903 1270.6,903.3 1271.3,903.9 1272,903.9 1272.7,903.9 1273.4,903.3 1274.1,904 1274.8,903.3 1275.5,903.4 1276.2,902.5 1276.9,901.9 1277.6,901.5 1278.3,901.4 1279,901.5 1279.7,900.8 1280.4,899.5 1281.1,898.6 1281.8,896.7 1282.5,894.7 1283.2,893.5 1283.9,892.5 1284.6,893 1285.3,892.4 1286,892.9 1286.7,893 1287.4,894.1 1288.1,895.2 1288.8,896.9 1289.5,898 1290.2,899.1 1290.9,899.7 1291.6,899.9 1292.3,901 1293,901.8 1293.7,902.5 1294.4,901.7 1295.1,901.8 1295.8,901.7 1296.6,902.3 1297.3,903 1298,903.3 1298.7,902.7 1299.4,903.1 1300.1,902.5 1300.8,902.1 1301.5,902.2 1302.2,901.5 1302.9,900.3 1303.6,898.6 1304.2,897 1304.9,895.7 1305.6,894.6 1306.3,890.8 1307,884.5 1307.7,875.4 1308.4,865 1309,859.3 1309.7,859.2 1310.4,858.8 1311.2,862.4 1311.9,870.7 1312.6,874.9 1313.3,877.3 1314,880.6 1314.7,885.8 1315.5,890.9 1316.2,894.8 1316.9,897.7 1317.6,899.6 1318.3,900.8 1319,900.9 1319.7,901.7 1320.4,902.3 1321.1,902.3 1321.8,901.8 1322.5,900.7 1323.2,901.4 1323.9,902.4 1324.6,903.1 1325.3,902.9 1326,903.2 1326.7,903.1 1327.4,903.7 1328.1,904.1 1328.8,902.8 1329.5,903.1 1330.2,903.8 1330.9,903.4 1331.6,903 1332.3,902 1333,901.5 1333.7,902 1334.4,903.4 1335.1,904.2 1335.8,903.7 1336.5,904 1337.2,903.8 1337.9,903.2 1338.6,902.3 1339.3,902.5 1340,902.1 1340.7,903 1341.4,902.7 1342.1,903 1342.8,902.6 1343.5,902.3 1344.2,902.4 1344.9,902 1345.6,901.1 1346.3,900.9 1347,900.9 1347.7,900.2 1348.4,899.9 1349.1,899.7 1349.8,899.6 1350.5,899.5 1351.2,899.1 1351.9,898.9 1352.6,897.9 1353.3,897.4 1354,897.6 1354.7,899.2 1355.4,900.4 1356.2,900.9 1356.9,901.2 1357.6,901 1358.3,901.7 1359,902.1 1359.7,902.7 1360.4,902.8 1361.1,903.5 1361.8,903 1362.5,903.1 1363.2,903.5 1363.9,903.8 1364.6,903 1365.3,903.5 1366,903 1366.7,902.8 1367.4,902.3 1368.1,902.4 1368.8,901.4 1369.5,901 1370.2,899.9 1370.9,900.1 1371.6,899.7 1372.3,899 1373,898 1373.7,897.5 1374.4,897.1 1375.1,896.7 1375.8,896.1 1376.5,895.5 1377.2,896.3 1377.5,895.6 1377.9,895 1378.6,895 1379.3,895.7 1380,895.3 1380.7,895.3 1381.4,895.9 1382.1,895.7 1382.8,894.6 1383.5,894 1384.2,892.1 1384.9,889 1385.6,884.6 1386.2,881.3 1386.9,880.7 1387.3,880.7 1387.6,880.6 1388.3,881.1 1389.1,884.3 1389.8,887.8 1390.5,889.7 1391.2,890.6 1391.9,892 1392.6,894.7 1393.3,896.8 1394,898.3 1394.7,899.8 1395.4,900.3 1396.1,901 1396.8,900.8 1397.5,901.4 1398.2,901.4 1398.9,901.4 1399.6,900.6 1400.3,898.6 1401,897.9 1401.7,897.1 1402.4,897 1403.1,899.9 1403.8,899 1404.5,897.4 1405.2,897.2 1405.9,895.9 1406.6,894.7 1407.3,892.4 1408,889.7 1408.7,885.2 1409.4,879.5 1410.1,871.8 1410.7,862.4 1411.4,851.3 1412.1,843.6 1412.8,843.3 1413.1,843.3 1413.5,842.8 1414.2,843.1 1414.9,846.7 1415.6,852.9 1416.3,858.2 1417,863.1 1417.8,868.1 1418.5,874.2 1419.2,880.1 1419.9,884.8 1420.6,889.3 1421.3,892 1422,894.1 1422.8,896.4 1423.5,896.9 1424.2,898.2 1424.9,898.9 1425.6,898.9 1426.3,899.8 1427,900.7 1427.7,900.9 1428.4,900.8 1429.1,899.7 1429.8,899.7 1430.5,899.8 1431.2,899.7 1431.9,900.7 1432.6,900.6 1433.3,899.7 1434,899.2 1434.7,898.4 1435.4,897.8 1436.1,895.6 1436.8,893.6 1437.5,890.1 1438.2,887.5 1438.9,883.3 1439.6,878 1440.3,874.5 1441,873.3 1441.3,873.8 1441.7,874.3 1442.4,874.1 1443.1,876.3 1443.8,878.8 1444.5,881.6 1445.2,883.6 1446,886.1 1446.7,888.8 1447.4,891.3 1448.1,894 1448.8,896.2 1449.5,898.2 1450.2,899.2 1450.9,899.6 1451.6,900 1452.3,900.3 1453.1,900.2 1453.8,901 1454.5,901.1 1455.2,900.9 1455.9,900.6 1456.6,899.3 1457.3,898 1458,896.7 1458.7,896.1 1459.4,894.4 1460.1,892.9 1460.8,891.8 1461.5,891.7 1461.8,891.6 1462.2,891.8 1462.9,891.2 1463.6,891.7 1464.3,892.7 1465,894.5 1465.7,895.6 1466.5,896.2 1467.2,897.2 1467.9,898 1468.6,898.9 1469.3,900.1 1470,901.4 1470.7,902.2 1471.4,902.2 1472.1,901.6 1472.8,901.4 1473.5,901.7 1474.2,902.6 1474.9,903 1475.6,903.8 1476.4,903.7 1477.1,903 1477.8,903.1 1478.5,903.2 1479.2,903.6 1479.9,904.2 1480.6,903.7 1481.3,903.8 1482,904.2 1482.7,904.3 1483.4,904.3 1484.1,903.7 1484.8,904 1485.5,904.1 1486.2,904.3 1486.9,903.5 1487.6,903.5 1488.4,903.5 1489.1,903.7 1489.8,904 1490.5,904 1491.2,904.2 1491.9,904 1492.6,903.9 1493.3,904.2 1494,904.1 1494.7,904.1 1495.4,904.3 1496.1,904 1496.8,903.9 1497.5,903.2 1498.2,903.5 1498.9,903.8 1499.6,903.3 1500.4,903.5 1501.1,903.9 1501.8,902.9 1502.5,903 1503.2,903.4 1503.9,903.2 1504.6,903.1 1505.3,902.5 1506,902.6 1506.7,902.8 1507.4,902 1508.1,901.8 1508.8,901.9 1509.5,900.2 1510.2,899.8 1510.9,898.6 1511.6,898.5 1512.3,896.4 1513,894.4 1513.7,891.6 1514.4,888.1 1515.1,883.8 1515.8,880 1516.5,877.1 1517.2,877.3 1517.9,877.8 1518.6,878.4 1519.3,880.9 1520.1,883.1 1520.8,885.5 1521.5,886.9 1522.2,889.2 1522.9,890.9 1523.6,893.3 1524.3,896.2 1525,897.4 1525.7,898.2 1526.5,900.3 1527.2,901 1527.9,900.9 1528.6,901.8 1529.3,902.2 1530,901.6 1530.7,902.6 1531.4,902.8 1532.1,902.1 1532.8,903.3 1533.5,903 1534.2,903.9 1534.9,903.3 1535.6,903.7 1536.3,903.6 1537.1,903.3 1537.8,904.1 1538.5,903.8 1539.2,904.1 1539.9,903.4 1540.6,903.6 1541.3,903.8 1542,904.4 1542.7,904.3 1543.4,904 1544.1,903.5 1544.8,903.5 1545.5,903.9 1546.2,904.3 1546.9,904.7 1547.6,904.6 1548.3,904.6 1549.1,904.2 1549.8,904 1550.5,904.3 1551.2,904.3 1551.9,904.1 1552.6,904.5 1553.3,904.5 1554,904.3 1554.7,904.5 1555.4,904.6 1556.1,903.9 1556.8,903.8 1557.5,904 1558.2,903.9 1558.9,904.3 1559.6,904.7 1560.3,903.9 1561.1,904.1 1561.8,903.5 1562.5,904.2 1563.2,904.2 1563.9,903.7 1564.6,904.1 1565.3,903.9 1566,904.1 1566.7,903.9 1567.4,903.8 1568.1,904.6 1568.8,903.7 1569.5,902.9 1570.2,902.8 1570.9,904 1571.6,904.6 1572.3,904.5 1573.1,904.5 1573.8,904.4 1574.5,904.5 1575.2,904.5 1575.9,904.5 1576.6,904.3 1577.3,903.9 1578,904.1 1578.7,904.5 1579.4,904.5 1580.1,904.4 1580.8,904.1 1581.5,904.2 1582.2,904.4 1582.9,904.4 1583.6,903.5 1584.3,903.8 1585,904.3 1585.8,904.6 1586.5,904.1 1587.2,904.8 1587.9,904.4 1588.6,904.6 1589.3,903.9 1590,904.1 1590.7,904.8 1591.4,904.5 1592.1,904.3 1592.8,903 1593.5,901.8 1594.2,901.7 1594.9,904.1 1595.6,904.9 1596.3,904.7 1597,904.2 1597.8,904.6 1598.5,904.1 1599.2,903.8 1599.9,904.8 1600.6,904.5 1601.3,904 1602,904.7 1602.7,904.2 1603.4,904.4 1604.1,904.3 1604.8,903.3 1605.5,903.5 1606.2,903.8 1606.9,904.1 1607.6,904.4 1608.3,904.3 1609,903.7 1609.8,904.4 1610.5,904 1611.2,903.9 1611.9,903.6 1612.6,904.3 1613.3,904.4 1614,904.2 1614.7,904.3 1615.4,903.9 1616.1,903.8 1616.8,904.4 1617.5,904 1618.2,904 1618.9,904.4 1619.6,904.2 1620.3,904.1 1621,903.9 1621.8,904.1 1622.5,903.7 1623.2,902.6 1623.9,902.3 1624.6,901.8 1625.3,902.4 1626,902.2 1626.7,902.4 1627.4,901.6 1628.1,900.2 1628.8,900.4 1629.5,899.2 1630.2,897.3 1630.9,896 1631.6,894.8 1632.3,893 1633,891.2 1633.7,889.6 1634.4,888.4 1635.1,886.8 1635.8,886 1636.5,884.7 1637.2,884 1637.9,884.1 1638.6,884.5 1639.3,884.9 1640,885 1640.8,886.2 1641.5,886.9 1642.2,888.5 1642.9,890.2 1643.6,891.8 1644.3,893.1 1645,895.3 1645.7,895.9 1646.4,898 1647.1,898.5 1647.8,898.6 1648.6,898.5 1649.3,899.6 1650,901.5 1650.7,902.2 1651.4,902.8 1652.1,903.4 1652.8,903.4 1653.5,903.7 1654.2,903.7 1654.9,903.5 1655.6,903.4 1656.3,903.7 1657,904.5 1657.7,904.4 1658.5,903.6 1659.2,903.8 1659.9,903.9 1660.6,904.2 1661.3,904.4 1662,904.3 1662.7,904.2 1663.4,903.6 1664.1,904 1664.8,903.7 1665.5,903.9 1666.2,903.9 1666.9,903.9 1667.6,904 1668.3,904.2 1669,904.1 1669.7,903.9 1670.5,904.2 1671.2,904.3 1671.9,904.2 1672.6,903.5 1673.3,902.7 1674,903 1674.7,903.6 1675.4,904.1 1676.1,904.1 1676.8,904.1 1677.5,904.3 1678.2,904.3 1678.9,904.1 1679.6,904.3 1680.3,903.7 1681,902.9 1681.7,904.2 1682.4,903.9 1683.2,903.5 1683.9,904 1684.6,903.1 1685.3,903.6 1686,902.3 1686.7,901.5 1687.4,902.7 1688.1,902.5 1688.8,902.3 1689.5,901.2 1690.2,901.3 1690.9,902 1691.6,902.9 1692.3,902.2 1693,902.1 1693.7,902.1 1694.4,901.9 1695.1,901.3 1695.8,900 1696.6,899.3 1697.3,898.4 1698,898.4 1698.7,896.8 1699.4,894.3 1700.1,891.4 1700.8,887.6 1701.4,881.9 1702.1,874.7 1702.8,866.7 1703.5,862.5 1704.2,862.3 1704.9,863.1 1705.6,864.7 1706.3,869.3 1707.1,872.9 1707.8,869.7 1708.5,866.4 1709.2,864.1 1709.9,862.3 1710.6,862.2 1710.9,862.6 1711.3,862.9 1712,864.2 1712.7,870.1 1713.4,875.7 1714.1,880.3 1714.9,883.2 1715.6,884.8 1716.3,886.5 1717,888.6 1717.7,891.8 1718.4,894.6 1719.1,897.1 1719.8,899 1720.5,899.6 1721.3,900 1722,901.2 1722.7,901 1723.4,901.7 1724.1,902.1 1724.8,902.5 1725.5,903 1726.2,903.3 1726.9,902.9 1727.6,903.3 1728.3,903.5 1729,903.3 1729.7,903.9 1730.4,903.7 1731.1,903.4 1731.9,904.1 1732.6,904.1 1733.3,904 1734,903.4 1734.7,903.2 1735.4,904 1736.1,903.5 1736.8,904 1737.5,903.6 1738.2,903.7 1738.9,903.7 1739.6,903.2 1740.3,902.9 1741,903.1 1741.7,903.8 1742.4,904.1 1743.1,903.9 1743.9,903.2 1744.6,903.8 1745.3,903.9 1746,903.9 1746.7,904.2 1747.4,903.4 1748.1,903.8 1748.8,903 1749.5,903.4 1750.2,903.9 1750.9,903.7 1751.6,903.2 1752.3,904 1753,903.8 1753.7,903.6 1754.4,904 1755.1,903.9 1755.9,903.8 1756.6,903.4 1757.3,903.6 1758,903.6 1758.7,904.2 1759.4,904.1 1760.1,904.2 1760.8,903.4 1761.5,903.1 1762.2,903.3 1762.9,903.3 1763.6,904 1764.3,903.8 1765,902.7 1765.7,902.5 1766.4,901.5 1767.1,903.5 1767.9,903.7 1768.6,903.2 1769.3,903.6 1770,903.5 1770.7,902.8 1771.4,902.9 1772.1,903.1 1772.8,902.8 1773.5,902.4 1774.2,902.2 1774.9,902.4 1775.6,902.1 1776.3,901.6 1777,901.1 1777.7,900.9 1778.4,901 1779.1,900.5 1779.8,900.2 1780.5,898.7 1781.2,898.2 1781.9,897.1 1782.6,895.4 1783.3,893.6 1784,890.2 1784.7,885.4 1785.4,879.3 1786.1,871.8 1786.8,862.2 1787.4,851 1788.1,843.4 1788.8,840.5 1789.2,841.1 1789.5,841.7 1790.2,842.2 1790.9,847.7 1791.6,854.7 1792.4,859.6 1793.1,863 1793.8,866 1794.5,869.5 1795.2,874.2 1795.9,879.8 1796.6,885 1797.4,889.2 1798.1,892.1 1798.8,893.8 1799.5,896.3 1800.2,897.5 1800.9,899.2 1801.6,899.7 1802.3,899.4 1803,900.2 1803.7,901.4 1804.4,901.6 1805.1,901.9 1805.8,901.7 1806.5,902.2 1807.2,902.2 1807.9,902.3 1808.6,902.5 1809.3,902.7 1810,903.2 1810.7,902.9 1811.4,903.5 1812.1,903.4 1812.8,903.6 1813.5,903.6 1814.2,903.1 1814.9,903.6 1815.6,902.6 1816.3,902.2 1817,902.8 1817.7,903.6 1818.4,903.8 1819.1,903.6 1819.8,903.6 1820.5,902.8 1821.2,902.4 1821.9,903 1822.6,903.5 1823.3,904 1824,903.1 1824.7,903.6 1825.4,903.5 1826.1,904 1826.8,903.9 1827.5,903.5 1828.2,903.8 1828.9,904 1829.6,904.2 1830.3,904 1831,903.6 1831.7,904.1 1832.4,903.4 1833.1,902.6 1833.8,902.7 1834.5,903.5 1835.2,904.2 1835.9,904 1836.6,904.1 1837.3,903.2 1838,903.5 1838.7,904.4 1839.4,904.1 1840.1,904.6 1840.8,903.6 1841.5,904.3 1842.2,903.7 1842.9,904.5 1843.6,904.4 1844.3,904 1845,904.6 1845.7,904.5 1846.4,904.4 1847.1,904.4 1847.8,903.9 1848.5,903.9 1849.2,904.3 1849.9,904.3 1850.6,903.9 1851.3,903.9 1852,903.2 1852.7,903 1853.4,902.5 1854.1,901.9 1854.8,901.5 1855.5,901.8 1856.2,902.3 1856.9,901.8 1857.6,901.1 1858.3,900.7 1859,899.7 1859.7,898.6 1860.4,896.6 1861.1,894.3 1861.8,891.7 1862.5,886.9 1863.2,881.7 1863.8,874.9 1864.5,868.8 1865.2,865.3 1865.9,865.1 1866.6,865.5 1867.3,866.7 1868,871.1 1868.8,877 1869.5,880 1870.2,882 1870.9,882.8 1871.6,884.2 1872.3,885.8 1873,889.4 1873.7,893.1 1874.4,895.5 1875.1,897.7 1875.8,899.2 1876.5,899.9 1877.2,900.7 1877.9,901.1 1878.6,901.3 1879.3,901.7 1880,901.1 1880.7,901.7 1881.4,902.3 1882.1,903.2 1882.8,903.2 1883.5,903.4 1884.2,903.2 1884.9,903.7 1885.6,903.8 1886.3,903.6 1887,904 1887.7,904.1 1888.5,904 1889.1,903.8 1889.9,904 1890.6,903.8 1891.2,902.3 1891.9,901.1 1892.6,901.6 1893.3,902.6 1894.1,903.9 1894.8,904.4 1895.5,903.8 1896.2,903.4 1896.9,904.5 1897.6,904.1 1898.3,903.8 1899,904 1899.7,903.6 1900.4,904.2 1901.1,904.2 1901.8,904.1 1902.5,903.4 1903.2,903.2 1903.9,903 1904.6,904.5 1905.3,904.5 1906,904.1 1906.7,904.1 1907.4,904.2 1908.1,904.3 1908.8,903.5 1909.5,904 1910.2,903.9 1910.9,903.2 1911.6,903.7 1912.3,903.6 1913,904.1 1913.7,903.6 1914.4,904.6 1915.1,904 1915.8,904.5 1916.5,904.4 1917.2,904.4 1917.9,904.1 1918.6,904.1 1919.3,904.3 1920,904.1 1920.7,904.1 1921.4,903.5 1922.1,903.9 1922.8,903.5 1923.5,903.8 1924.2,904.3 1924.9,904.2 1925.6,903.8 1926.3,904.1 1927,904 1927.7,903.7 1928.4,903.7 1929.1,904 1929.8,903.9 1930.5,903.9 1931.2,903.7 1931.9,904 1932.6,903.8 1933.3,903.9 1934,903.5 1934.7,903.7 1935.4,903.3 1936.1,903.1 1936.8,903.9 1937.5,903.4 1938.2,903.9 1938.9,903.9 1939.6,903.4 1940.3,903.5 1941,903.5 1941.7,902.6 1942.4,902.9 1943.1,902.7 1943.8,901.6 1944.5,900.8 1945.2,899.1 1945.9,897.9 1946.6,898.5 1947.3,898.5 1948,897.5 1948.7,895.6 1949.4,894 1950,891.6 1950.7,890.6 1951.4,889.3 1952.1,887.6 1952.8,885.3 1953.5,883.4 1954.2,883.1 1954.6,882.3 1954.9,883.3 1955.6,884.4 1956.3,884.3 1957,884.4 1957.7,885.6 1958.4,886.1 1959.1,887.5 1959.8,888.3 1960.5,890.2 1961.3,890.7 1962,891.8 1962.7,892.8 1963.4,895.1 1964.1,896.1 1964.8,896.3 1965.5,897 1966.2,897.3 1966.9,897.3 1967.6,897 1968.3,896.5 1969,895.9 1969.7,895.5 1970.4,895.2 1971.1,895 1971.8,894.8 1972.1,894.3 1972.5,894.4 1973.2,894.4 1973.9,893.7 1974.6,893.7 1975.3,894.9 1976,895.1 1976.7,894.7 1977.4,894.8 1978.1,894.7 1978.8,896 1979.5,895.5 1980.2,896 1980.9,896.4 1981.6,896.2 1982.3,895.4 1983,895.1 1983.7,894.5 1984.4,894.8 1985.1,894.5 1985.8,893.9 1986.5,893.8 1987.2,894.3 1987.9,894.7 1988.6,895 1989.3,894.2 1990,893.7 1990.7,893.9 1991.4,894.9 1992.1,896 1992.8,895.7 1993.5,896.3 1994.2,896.9 1994.9,897.8 1995.6,898.9 1996.3,899.3 1997,899.8 1997.7,899.7 1998.4,899.6 1999.1,900.2 1999.8,901.6 2000.5,901.9 2001.2,902.1 2001.9,902.7 2002.6,903 2003.3,902.8 2004,903 2004.7,902.8 2005.4,903.3 2006.1,903.2 2006.8,904.1 2007.5,903.7 2008.2,903.1 2008.9,903.4 2009.6,903.2 2010.3,903.1 2011,903.3 2011.7,903.5 2012.4,904.2 2013.1,904.2 2013.8,904 2014.5,904.5 2015.2,904.6 2015.9,904.2 2016.6,904.1 2017.3,904.1 2018,904.3 2018.7,904.2 2019.4,903.7 2020.1,903.2 2020.8,903.4 2021.5,903.6 2022.2,904.1 2022.9,903.9 2023.6,903.8 2024.3,904.5 2025,904.5 2025.7,904 2026.4,904.4 2027.1,904.7 2027.8,904.7 2028.5,904.4 2029.2,904.5 2029.9,904.5 2030.6,904.2 2031.3,904.2 2032,904 2032.7,904.7 2033.4,904.3 2034.1,904.7 2034.8,904.5 2035.5,904.2 2036.2,904.8 2036.9,904.8 2037.6,904.1 2038.3,904.3 2039,903.6 2039.7,903.4 2040.4,904 2041.1,904.3 2041.8,904.3 2042.5,904.1 2043.2,903.4 2043.9,903.5 2044.6,904 2045.3,904 2046,904.1 2046.7,904.3 2047.4,904.8 2048.1,904.5 2048.8,904.8 2049.5,904.2 2050.2,904.2 2050.9,904.8 2051.6,903.9 2052.3,904.4 2053,904.2 2053.7,904.3 2054.4,903.9 2055.1,904.2 2055.8,904.3 2056.5,904.2 2057.2,904.4 2057.9,904.1 2058.6,904.2 2059.3,903.9 2060,904.1 2060.8,904.6 2061.4,904.1 2062.2,904.5 2062.9,904.2 2063.6,904.3 2064.2,903.6 2065,904.4 2065.7,904.2 2066.4,904.2 2067.1,903.8 2067.8,904.5 2068.5,904.6 2069.2,904 2069.9,904.4 2070.6,904.2 2071.3,904.5 2072,904.7 2072.7,904.6 2073.4,904.3 2074.1,904.4 2074.8,904.2 2075.5,904.6 2076.2,904.3 2076.9,904.4 2077.6,904.4 2078.3,904.5 2079,904.4 2079.7,904.4 2080.4,903.6 2081.1,902.6 2081.8,903.5 2082.5,903.2 2083.2,904.3 2083.9,904.3 2084.6,904.4 2085.3,904.2 2086,904.3 2086.7,904.1 2087.4,904.2 2088.1,903.5 2088.8,903.2 2089.5,903.2 2090.2,903 2090.9,903.9 2091.6,904.3 2092.3,903.8 2093,904.5 2093.7,903.8 2094.4,904.2 2095.1,904.4 2095.8,904.3 2096.5,904.1 2097.2,904.2 2097.9,904.3 2098.6,904.3 2099.3,903.7 2100,904 2100.7,904.2 2101.4,904.4 2102.1,904.6 2102.8,903.8 2103.5,904.5 2104.2,903.9 2104.9,904.5 2105.6,904.3 2106.3,904 2107,903.2 2107.7,902.5 2108.4,902.9 2109.1,903.4 2109.8,903.2 2110.5,903.8 2111.2,903.3 2111.9,903.8 2112.6,903.2 2113.3,903.1 2114,903.2 2114.7,902.5 2115.4,903.1 2116.1,903.1 2116.8,902.4 2117.5,902.7 2118.2,902.6 2118.9,902.3 2119.6,902 2120.3,901.2 2121,900.6 2121.7,900.1 2122.4,900.5 2123.1,899.4 2123.8,898 2124.5,897.9 2125.2,897.2 2125.9,896.2 2126.6,894.1 2127.3,892.4 2127.9,889.2 2128.6,884.6 2129.3,878.5 2130,871.3 2130.7,863.6 2131.4,858.7 2132.1,858.5 2132.4,858.9 2132.8,858.9 2133.5,858.2 2134.2,862.3 2134.9,867.8 2135.6,873.6 2136.3,877.6 2137,879.5 2137.7,879.8 2138.4,880.9 2139.1,882.3 2139.8,885 2140.5,887.4 2141.2,891.2 2141.9,893.3 2142.6,896.1 2143.4,897.4 2144.1,898.1 2144.8,899 2145.5,899.3 2146.2,900.7 2146.9,901.1 2147.6,901.4 2148.3,901.9 2149,901.8 2149.7,902.1 2150.4,902.2 2151.1,902.8 2151.7,902.9 2152.4,903.3 2153.1,902.2 2153.8,902.5 2154.5,902.8 2155.2,903.5 2155.9,903.2 2156.6,903.1 2157.3,903.5 2158,903.7 2158.7,903.8 2159.4,902.3 2160.1,900.9 2160.8,900.9 2161.5,902 2162.2,902.8 2162.9,902.8 2163.6,903.9 2164.3,903.6 2165,902.3 2165.7,901.1 2166.4,900.9 2167.1,901.5 2167.8,903.6 2168.5,903.9 2169.2,903.1 2169.9,902.5 2170.6,901.9 2171.3,902.5 2172,903 2172.7,904.1 2173.4,903.9 2174.1,902.9 2174.8,902.8 2175.5,902.7 2176.2,903.8 2176.9,903.4 2177.6,902.9 2178.3,903.4 2179,903.5 2179.7,903.4 2180.4,903.2 2181.1,903.2 2181.8,904 2182.5,903.6 2183.2,903.7 2183.9,903.7 2184.6,903.2 2185.3,902.6 2186,903 2186.7,902.5 2187.4,902.8 2188.1,902.3 2188.8,902.1 2189.5,902.1 2190.2,901.8 2190.9,901.4 2191.6,901.3 2192.2,900.5 2192.9,900.7 2193.6,900.1 2194.3,899.7 2195,899.7 2195.7,899.1 2196.4,897.9 2197.1,897.7 2197.8,897.5 2198.5,897.3 2199.2,896.8 2199.9,896.5 2200.6,896 2201.3,896.6 2202,896.5 2202.7,895.9 2203.4,895.8 2204.1,896.2 2204.8,895.7 2205.5,895.9 2206.2,895.8 2206.9,895.6 2207.6,895.2 2208.3,894 2209,894.1 2209.7,893.3 2210.4,892.4 2211.1,891.2 2211.8,889.1 2212.5,888.2 2213.2,887.6 2213.9,887.5 2214.6,886.9 2215.3,886.7 2216,886.3 2216.6,885.6 2217,885.4 2217.3,885.1 2218,885.6 2218.7,885.7 2219.4,885.2 2220.1,886.3 2220.8,886.7 2221.5,888.2 2222.2,888.7 2222.9,889.9 2223.7,891.5 2224.4,892.7 2225.1,893.1 2225.8,894.3 2226.5,895.4 2227.2,896.2 2227.9,896.7 2228.6,897.8 2229.3,898.6 2230,899 2230.7,899.7 2231.4,900 2232.1,900.2 2232.8,899.9 2233.5,900 2234.2,900.2 2234.8,899.4 2235.5,898.9 2236.2,898.5 2236.9,898.9 2237.6,898.8 2238.3,898.8 2239,899 2239.7,898.2 2240.4,897.8 2241.1,897.9 2241.8,898.2 2242.5,898.2 2243.2,898.7 2243.9,899 2244.6,899.6 2245.3,900 2246,900.1 2246.7,900.2 2247.4,900.1 2248.1,900 2248.8,900.3 2249.5,901.6 2250.2,901.5 2250.9,901.8 2251.6,902 2252.3,902.1 2253,902.5 2253.7,903 2254.4,903.1 2255.1,903.1 2255.8,903.6 2256.5,903.5 2257.2,903.3 2257.9,903.1 2258.6,903.4 2259.3,903.1 2260,903.8 2260.7,903 2261.4,902.6 2262.1,903 2262.8,903 2263.5,903.3 2264.2,902.3 2264.9,901.2 2265.6,900.8 2266.3,902 2267,901.7 2267.7,900.8 2268.4,900.5 2269.1,899.5 2269.8,898.7 2270.5,898.8 2271.2,898.2 2271.9,897.7 2272.6,896.6 2273.3,896.6 2274,896.4 2274.6,895.9 2275.3,895.8 2276,895.4 2276.7,895.8 2277.4,896.3 2278.1,896.6 2278.8,896.7 2279.5,897.2 2280.2,897.9 2280.9,898.6 2281.6,898.7 2282.3,899.6 2283,899.4 2283.7,899.5 2284.4,900.2 2285.1,901.3 2285.8,901.6 2286.5,901.4 2287.2,901.8 2287.9,903.1 2288.6,903 2289.3,902.4 2290,902.2 2290.7,902.4 2291.4,903.9 2292.1,903.9 2292.8,903.8 2293.5,903.9 2294.2,903.7 2294.9,904.1 2295.6,904.6 2296.3,904.5 2297,903.6 2297.7,903.3 2298.4,904.1 2299.1,904.3 2299.8,904.3 2300.5,904.4 2301.2,903.4 2301.9,904.3 2302.6,904.5 2303.3,903.3 2304,904.2 2304.7,904.5 2305.4,904.1 2306.1,904.3 2306.8,904.3 2307.5,904.5 2308.2,904.4 2308.9,904.6 2309.6,904.5 2309.6,907.4 2308.9,907.4 2308.2,907 2307.5,907.1 2306.8,907 2306.1,907.4 2305.4,907 2304.7,907.8 2304,907.2 2303.3,907.7 2302.6,907.4 2301.9,907.5 2301.2,907.5 2300.5,907.3 2299.8,907.3 2299.1,907.2 2298.4,907.2 2297.7,907.8 2297,907.5 2296.3,907.4 2295.6,907.3 2294.9,907.3 2294.2,907.5 2293.5,907.5 2292.8,906.8 2292.1,906.9 2291.4,907.1 2290.7,906.8 2290,906.9 2289.3,906.9 2288.7,907.9 2287.9,906.9 2287.3,907 2286.5,905.8 2285.9,905.5 2285.2,905.5 2284.5,905.1 2283.8,904.8 2283.1,904 2282.4,903.7 2281.7,902.9 2281,902.1 2280.3,901.5 2279.6,901.4 2278.9,901.4 2278.2,900.9 2277.5,900.1 2276.8,899.3 2276.1,899.5 2275.4,899.5 2274.7,899.2 2274,900.1 2273.3,900.5 2272.6,900.9 2271.9,901.8 2271.2,902.3 2270.5,902.7 2269.8,903.7 2269.1,903.8 2268.4,904.4 2267.7,904.9 2267,905.8 2266.3,906.1 2265.6,906.3 2264.9,906.4 2264.2,905.9 2263.5,906 2262.8,906 2262.1,906.4 2261.4,906.2 2260.7,906.5 2260,906.3 2259.3,906.4 2258.6,906.8 2257.9,906.6 2257.2,906.6 2256.5,906.4 2255.8,906.3 2255.1,906 2254.4,906 2253.7,906.1 2253,906.3 2252.3,905.5 2251.6,906 2250.9,906.6 2250.2,905.3 2249.5,905.1 2248.8,904.7 2248.1,904.7 2247.4,903.8 2246.7,903.9 2246,903.7 2245.3,903.9 2244.6,903.1 2243.9,903.1 2243.2,902.4 2242.5,902.2 2241.8,902.5 2241.1,902 2240.4,901.5 2239.7,901.6 2239,902 2238.4,903 2237.7,902.4 2237,902.8 2236.3,902.5 2235.6,903.2 2234.9,903.1 2234.2,903.6 2233.5,903.7 2232.8,902.8 2232.1,903.4 2231.4,903.3 2230.7,902.7 2230,903.4 2229.3,903.1 2228.6,902.7 2227.9,901.4 2227.2,901.4 2226.5,901.1 2225.8,899.7 2225.1,898.3 2224.4,897.5 2223.7,896.2 2223,895.2 2222.3,894.5 2221.6,893.8 2220.9,893 2220.2,892 2219.5,890.1 2218.8,889.7 2218.1,889.6 2217.4,889.2 2217,889.4 2216.7,889.5 2216,890 2215.3,891.4 2214.6,891.9 2213.9,892.9 2213.2,894 2212.5,894.2 2211.8,895.7 2211.1,896.3 2210.4,897.2 2209.7,897.3 2209,898.3 2208.3,898.9 2207.6,899.2 2206.9,899 2206.2,899.6 2205.5,900.2 2204.8,899.8 2204.1,899.4 2203.4,900.1 2202.7,900.3 2202,900.3 2201.3,899.8 2200.6,900.5 2199.9,900.8 2199.2,901.4 2198.5,901.4 2197.8,901.6 2197.1,902.4 2196.4,902.6 2195.7,902.7 2195.1,903.7 2194.4,903.2 2193.7,903.5 2193,903.8 2192.3,904.7 2191.6,904.7 2190.9,905.8 2190.2,906.7 2189.5,905.3 2188.8,905.9 2188.1,906.4 2187.4,906.4 2186.7,906 2186,906.1 2185.3,906.6 2184.6,906.5 2183.9,906.9 2183.2,907.3 2182.5,907.8 2181.8,907.4 2181.1,906.8 2180.4,906.6 2179.7,906.7 2179,907.2 2178.3,907.1 2177.6,907 2176.9,906.6 2176.2,907 2175.5,906.7 2174.8,906.6 2174.1,906.6 2173.4,906.9 2172.7,906.8 2172,906.8 2171.3,907 2170.6,906.7 2169.9,906.7 2169.2,906.8 2168.5,906.8 2167.8,907 2167.1,907.2 2166.4,906.9 2165.7,907 2165,906.7 2164.3,907.1 2163.6,906.5 2162.9,906.5 2162.2,906.6 2161.5,906.6 2160.8,907.1 2160.1,907.5 2159.4,907.9 2158.7,907 2158,906.5 2157.3,906.9 2156.6,906.5 2155.9,906.1 2155.3,906.1 2154.6,906 2153.9,906.3 2153.2,906.1 2152.5,906.4 2151.8,906.5 2151.1,906.2 2150.4,905.7 2149.7,905.5 2149,906.2 2148.3,906.4 2147.6,905.5 2146.9,904.9 2146.2,905 2145.5,904.2 2144.8,903.7 2144.1,903.7 2143.4,902.7 2142.7,901.4 2142,900.6 2141.3,898.8 2140.6,896.5 2139.9,894.1 2139.1,890.9 2138.4,887.9 2137.7,884.9 2137,884.1 2136.3,883.7 2135.6,882.1 2134.9,881 2134.2,877.6 2133.5,872 2132.8,865.5 2132.4,862.5 2132.1,867.7 2131.4,875.1 2130.7,882 2130,887.2 2129.4,892.1 2128.7,895.2 2128,897.5 2127.3,899.5 2126.6,900.9 2125.9,902 2125.2,902.4 2124.5,903.2 2123.8,904 2123.1,904.1 2122.4,904.4 2121.7,904.5 2121,905 2120.3,904.9 2119.6,905.2 2118.9,905.7 2118.2,905.8 2117.5,905.7 2116.8,906 2116.1,906.1 2115.4,906 2114.7,906.2 2114,906.1 2113.3,906.5 2112.6,906.3 2111.9,906.5 2111.2,906.8 2110.5,906.7 2109.8,906.4 2109.1,906.6 2108.4,906.8 2107.7,907.5 2107,908 2106.3,908 2105.6,907.4 2104.9,907.4 2104.2,907.7 2103.5,907.6 2102.8,907.5 2102.1,907 2101.4,907 2100.7,907.5 2100,907.4 2099.3,907.3 2098.6,907.5 2097.9,907.6 2097.2,907.6 2096.5,907.3 2095.8,907.8 2095.1,907.8 2094.4,907.9 2093.7,907.1 2093,907 2092.3,907.5 2091.6,908.5 2090.9,908.2 2090.2,907.3 2089.5,906.9 2088.8,907.1 2088.1,906.9 2087.4,907.5 2086.7,907 2086,907 2085.3,907.3 2084.6,907 2083.9,906.9 2083.2,907.6 2082.5,907.2 2081.8,907 2081.1,907.8 2080.4,907.1 2079.7,907.6 2079,908.2 2078.3,907.2 2077.6,907.3 2076.9,907 2076.2,908 2075.5,908.6 2074.8,907.7 2074.1,907.3 2073.4,907.4 2072.7,907.2 2072,907.6 2071.3,907.4 2070.6,908 2069.9,907.2 2069.2,907.1 2068.5,907.4 2067.8,907 2067.1,907.4 2066.4,907.3 2065.7,907.3 2065,907.7 2064.3,907.7 2063.6,907.1 2062.9,907.3 2062.2,907.6 2061.5,908.3 2060.8,907.8 2060.1,907.8 2059.4,907.3 2058.7,907.2 2058,907.7 2057.3,907.7 2056.6,907.1 2055.9,907.4 2055.2,907.6 2054.5,908.3 2053.8,908.2 2053.1,907.3 2052.4,907.5 2051.7,907.4 2051,907.4 2050.3,907.5 2049.6,907.5 2048.9,907.3 2048.2,907.9 2047.5,908 2046.8,907.9 2046.1,907.7 2045.4,907.8 2044.6,907.5 2043.9,907.4 2043.2,907.3 2042.6,908.2 2041.9,908.3 2041.1,907.7 2040.4,907.5 2039.7,907.8 2039,907.5 2038.3,907.9 2037.6,908.5 2036.9,908.3 2036.2,907.6 2035.5,907.2 2034.8,907.7 2034.1,907.9 2033.4,907.6 2032.7,907.6 2032,907.2 2031.3,907.2 2030.6,907.1 2029.9,907.3 2029.2,907.3 2028.5,907.2 2027.8,907.7 2027.1,907.1 2026.4,907.7 2025.7,907.7 2025,907.5 2024.3,907.7 2023.6,908.4 2022.9,907.7 2022.2,907 2021.5,907 2020.8,907.3 2020.1,907 2019.4,907.9 2018.7,907.9 2018,906.9 2017.3,907.2 2016.6,907.5 2015.9,907.7 2015.2,908 2014.5,908.4 2013.8,907.8 2013.1,906.9 2012.4,906.9 2011.7,907.4 2011,907.2 2010.3,907.4 2009.6,907.1 2008.9,907.1 2008.2,907.1 2007.5,906.9 2006.8,907.5 2006.1,907.2 2005.4,907.5 2004.7,907.1 2004,908.2 2003.3,907.5 2002.6,907.4 2001.9,906.1 2001.2,906 2000.5,905.9 1999.8,905.6 1999.1,905.6 1998.4,905.2 1997.7,905.1 1997,904.4 1996.3,903.6 1995.6,903 1994.9,902.1 1994.2,901.5 1993.5,901.6 1992.8,900.4 1992.1,900.5 1991.4,899.7 1990.7,900 1990,899.3 1989.3,898.5 1988.6,897.8 1987.9,897.9 1987.2,899.1 1986.5,899.2 1985.8,899 1985.1,898.6 1984.4,898.9 1983.7,900 1983,900.2 1982.3,900.7 1981.6,900.6 1980.9,901 1980.2,900.5 1979.5,899.6 1978.8,899.6 1978.1,899.3 1977.4,898.9 1976.7,898.5 1976,898.4 1975.3,897.9 1974.6,897.7 1973.9,897.4 1973.2,897.7 1972.5,897.6 1972.1,898.4 1971.8,898.4 1971.1,898.6 1970.4,898.9 1969.7,899.2 1969,899.5 1968.3,900.2 1967.6,900.5 1966.9,900.2 1966.2,900 1965.5,900.1 1964.8,900.3 1964.1,899.5 1963.4,899.2 1962.7,898.7 1962,897.8 1961.3,897.2 1960.6,896.5 1959.9,895.3 1959.2,893.4 1958.5,892 1957.7,890.4 1957,889.3 1956.3,888.2 1955.6,887.5 1954.9,887.7 1954.6,887.9 1954.2,889 1953.5,890.1 1952.9,892.9 1952.2,894.8 1951.5,895.8 1950.8,897.1 1950.1,898.8 1949.4,900.2 1948.7,901.7 1948,902.5 1947.3,903.6 1946.6,905.1 1945.9,905.5 1945.2,905.6 1944.5,905.6 1943.8,905.7 1943.1,905.8 1942.4,906.2 1941.7,906.1 1941,906.3 1940.3,906.7 1939.6,906.9 1938.9,907.2 1938.2,906.5 1937.5,906.5 1936.8,906.4 1936.1,906.5 1935.4,906.7 1934.7,906.6 1934,906.6 1933.3,906.7 1932.6,906.4 1931.9,906.6 1931.2,906.9 1930.5,906.9 1929.8,906.5 1929.1,907 1928.4,906.5 1927.7,906.7 1927,907.1 1926.3,906.9 1925.6,906.9 1924.9,907.7 1924.2,907.6 1923.5,907.2 1922.8,907 1922.1,907 1921.4,907.1 1920.7,907.2 1920,906.9 1919.3,907.2 1918.6,907.2 1917.9,907.4 1917.2,907.4 1916.5,907.6 1915.8,908.6 1915.1,908.1 1914.4,907.2 1913.7,908.2 1913,907.7 1912.3,907.1 1911.6,907.7 1910.9,907.3 1910.2,907.4 1909.5,907.5 1908.8,907.4 1908.1,907.7 1907.4,907.3 1906.7,907.6 1906,907.3 1905.3,907.7 1904.6,907.1 1903.9,907.1 1903.2,907.1 1902.5,907.2 1901.8,907.4 1901.1,907.2 1900.4,907.2 1899.7,907.4 1899,907.3 1898.3,907.3 1897.6,907.7 1896.9,908.5 1896.2,908 1895.5,907.8 1894.8,907.3 1894.1,907.6 1893.4,907.1 1892.7,907 1892,907.1 1891.3,906.9 1890.6,907.1 1889.9,907 1889.2,907.2 1888.5,907.3 1887.8,907.6 1887.1,906.9 1886.4,906.5 1885.7,906.9 1885,906.7 1884.3,906.8 1883.6,906.6 1882.9,906.2 1882.2,906.5 1881.5,906.3 1880.8,905.9 1880.1,906.5 1879.3,905.5 1878.6,905.7 1877.9,905.2 1877.2,904.5 1876.5,904.4 1875.8,903.4 1875.1,903.9 1874.4,903.1 1873.7,900.4 1873,898.9 1872.3,896.2 1871.6,892.7 1870.9,889.8 1870.2,886.9 1869.5,885.8 1868.8,885.1 1868.1,883.4 1867.4,879.9 1866.7,875.1 1865.9,871.7 1865.3,877.5 1864.6,884.6 1863.9,889.9 1863.2,894.2 1862.5,897.5 1861.8,900.3 1861.1,902.1 1860.4,902.8 1859.7,903.3 1859,904.1 1858.3,904.5 1857.6,904.9 1856.9,905.3 1856.2,906 1855.5,906.2 1854.8,907 1854.1,907 1853.4,906.8 1852.7,906.7 1852,907 1851.3,907 1850.6,906.7 1849.9,908.1 1849.2,908 1848.5,908.1 1847.8,907.7 1847.1,907.5 1846.4,907.1 1845.7,907.3 1845,907.5 1844.3,907.7 1843.6,907 1842.9,907.5 1842.2,907.2 1841.5,907 1840.8,907.9 1840.1,908 1839.4,907.7 1838.7,908.1 1838,908.7 1837.3,908.3 1836.6,907.4 1835.9,907.5 1835.2,907.2 1834.5,907.6 1833.8,907.8 1833.1,907.6 1832.4,907.1 1831.7,906.9 1831,907 1830.3,907 1829.6,907 1828.9,906.8 1828.2,906.9 1827.5,907.6 1826.8,908.5 1826.1,908 1825.4,906.9 1824.7,906.9 1824,907.2 1823.3,907.1 1822.6,907 1821.9,906.5 1821.2,907 1820.5,907.1 1819.8,906.4 1819.1,906.5 1818.4,906.8 1817.7,906.5 1817,907 1816.3,907.1 1815.6,906.3 1814.9,906.3 1814.2,906.9 1813.5,907.3 1812.8,906.8 1812.1,906.2 1811.4,906.6 1810.7,906.7 1810,906.6 1809.3,906.2 1808.6,906 1807.9,906.2 1807.2,905.6 1806.5,905.6 1805.8,905.5 1805.1,905.4 1804.4,905.4 1803.7,905.3 1803,905.4 1802.3,904.8 1801.6,903.8 1800.9,903.7 1800.2,903.6 1799.5,902.4 1798.8,901.1 1798.1,899.6 1797.4,897.6 1796.7,895.7 1796,891.9 1795.2,888.1 1794.5,882.9 1793.8,877.4 1793.1,873.3 1792.4,871.5 1791.7,869.2 1791,865.2 1790.3,859 1789.5,850.5 1789.2,846.7 1788.8,854.4 1788.2,865 1787.5,875 1786.8,883.5 1786.1,889.7 1785.5,893.9 1784.8,896.9 1784.1,899 1783.4,900.6 1782.7,901.8 1782,902.6 1781.3,903.3 1780.6,904.1 1779.9,904.5 1779.1,904.8 1778.4,904.5 1777.7,904.5 1777,905 1776.3,905.2 1775.6,906.1 1774.9,906.5 1774.2,907.2 1773.5,907 1772.8,907.5 1772.1,907 1771.4,906.7 1770.7,906.6 1770,906.1 1769.3,906.5 1768.6,906.8 1767.9,906.7 1767.2,906.4 1766.4,906.7 1765.7,906.4 1765,906.8 1764.3,906.7 1763.6,906.4 1762.9,906.6 1762.2,906.7 1761.5,906.6 1760.8,907.2 1760.1,907.7 1759.4,907.2 1758.7,906.9 1758,906.9 1757.3,907.1 1756.6,907.3 1755.9,907.4 1755.2,906.6 1754.4,906.7 1753.7,906.5 1753,907 1752.3,906.7 1751.6,906.9 1750.9,907.2 1750.2,907 1749.5,906.6 1748.8,907.6 1748.1,907.4 1747.4,907.4 1746.7,906.9 1746,907 1745.3,906.7 1744.6,907 1743.9,907.2 1743.2,906.6 1742.5,906.7 1741.7,906.6 1741,907.3 1740.3,907.5 1739.6,907.9 1738.9,907 1738.2,907 1737.5,907 1736.8,906.7 1736.1,907.6 1735.4,907.8 1734.7,907.3 1734,906.6 1733.3,906.6 1732.6,906.8 1731.9,906.7 1731.2,906.6 1730.5,906.6 1729.7,906.8 1729,906.7 1728.3,906.7 1727.6,907.2 1726.9,907.9 1726.2,907.8 1725.5,907 1724.8,906.2 1724.1,905.6 1723.4,905.7 1722.7,905.4 1722,904.8 1721.3,904.8 1720.6,904.5 1719.9,903.4 1719.1,903.4 1718.4,901.6 1717.7,900.4 1717,899.4 1716.3,895.5 1715.6,891.8 1714.9,889.5 1714.2,887.6 1713.5,886.1 1712.7,883.6 1712,879.2 1711.3,873.5 1710.9,867.9 1710.6,867 1709.9,869.8 1709.2,872.6 1708.5,875.8 1707.8,877 1707.1,877.1 1706.4,877.2 1705.7,876.1 1704.9,872.3 1704.2,870.4 1703.5,877.7 1702.9,884.7 1702.2,890.9 1701.5,895.8 1700.8,898.3 1700.1,899.9 1699.4,901 1698.7,902.3 1698,902.9 1697.3,903.5 1696.6,904.5 1695.9,904.9 1695.2,904.9 1694.5,905.4 1693.7,905.2 1693,906.1 1692.3,906.2 1691.6,905.8 1690.9,905.8 1690.2,906.1 1689.5,906 1688.8,906.7 1688.1,906.4 1687.4,906.4 1686.7,906.8 1686,906.8 1685.3,907 1684.6,906.8 1683.9,906.5 1683.2,906.7 1682.5,906.7 1681.8,906.7 1681,906.7 1680.3,906.9 1679.6,906.9 1678.9,907.1 1678.2,907.1 1677.5,907.5 1676.8,906.8 1676.1,907.1 1675.4,907.3 1674.7,906.8 1674,907.3 1673.3,906.8 1672.6,907.1 1671.9,906.9 1671.2,907.2 1670.5,906.9 1669.8,907.7 1669,907 1668.3,907.2 1667.6,907 1666.9,907.1 1666.2,907 1665.5,907.4 1664.8,907 1664.1,906.9 1663.4,907.1 1662.7,907.7 1662,907.3 1661.3,907.6 1660.6,907.6 1659.9,907.7 1659.2,907.9 1658.5,907.2 1657.8,907.3 1657.1,907.1 1656.3,907.2 1655.6,908 1654.9,908.1 1654.2,908.2 1653.5,906.8 1652.8,907.4 1652.1,907.9 1651.4,907.2 1650.7,907.1 1650,906.7 1649.3,906.6 1648.6,905.9 1647.9,904.8 1647.2,904.4 1646.5,904 1645.7,903.1 1645,901.2 1644.3,899.6 1643.6,897.9 1642.9,896.5 1642.2,894.8 1641.5,892.8 1640.8,891.3 1640.1,890.3 1639.4,888.9 1638.6,887.9 1637.9,888.1 1637.2,889.5 1636.5,890.7 1635.8,891.5 1635.1,892.5 1634.4,895 1633.7,896.5 1633,898.3 1632.3,899.5 1631.6,901.4 1630.9,902.8 1630.2,903.9 1629.5,904.6 1628.8,904.4 1628.1,905 1627.4,905.5 1626.7,905.9 1626,906.1 1625.3,906.3 1624.6,907.3 1623.9,907 1623.2,906.7 1622.5,906.6 1621.8,906.8 1621.1,907.1 1620.3,907.5 1619.6,906.7 1618.9,908.2 1618.2,907.9 1617.5,907.4 1616.8,906.9 1616.1,907 1615.4,907.3 1614.7,907.3 1614,907.1 1613.3,907.1 1612.6,907.2 1611.9,907 1611.2,907.5 1610.5,907.1 1609.8,907 1609.1,907.3 1608.4,907.3 1607.6,907.3 1606.9,907.9 1606.2,908.3 1605.5,908.2 1604.8,907.9 1604.1,907.8 1603.4,908.1 1602.7,907.6 1602,907.4 1601.3,907.3 1600.6,907.6 1599.9,907.3 1599.2,907.3 1598.5,907.4 1597.8,907.7 1597.1,907.7 1596.4,908.3 1595.6,908.1 1594.9,907.5 1594.2,907.7 1593.5,907.6 1592.8,907.4 1592.1,907.4 1591.4,907.9 1590.7,908.1 1590,907.8 1589.3,907.2 1588.6,907.9 1587.9,907.7 1587.2,907.5 1586.5,907.7 1585.8,907.5 1585.1,907.4 1584.4,907.3 1583.6,907.4 1582.9,907.4 1582.2,907.1 1581.5,907.5 1580.8,907.1 1580.1,907.6 1579.4,907.9 1578.7,908.2 1578,907.2 1577.3,907.2 1576.6,907.1 1575.9,907.2 1575.2,907.6 1574.5,907.7 1573.8,907.2 1573.1,907.9 1572.4,907.9 1571.6,907.4 1570.9,907.7 1570.2,907.9 1569.5,907.7 1568.8,907.6 1568.1,907.5 1567.4,907.3 1566.7,908.2 1566,907.9 1565.3,908.2 1564.6,908 1563.9,907.3 1563.2,907.2 1562.5,907.2 1561.8,907.4 1561.1,907.3 1560.4,907.3 1559.7,907.5 1558.9,907.8 1558.2,907.5 1557.5,907.3 1556.8,907.1 1556.1,907.3 1555.4,907.4 1554.7,908.1 1554,907.9 1553.3,908.2 1552.6,907.4 1551.9,907 1551.2,907.1 1550.5,907.2 1549.8,907.2 1549.1,908 1548.4,907.2 1547.7,907.1 1546.9,907.1 1546.2,907.3 1545.5,907.2 1544.8,907.8 1544.1,907.1 1543.4,907.3 1542.7,908 1542,907.6 1541.3,907.6 1540.6,907 1539.9,907.3 1539.2,907.2 1538.5,906.8 1537.8,907.3 1537.1,907.4 1536.4,907 1535.7,907.7 1534.9,907.3 1534.2,906.7 1533.5,907 1532.8,906.5 1532.1,906.2 1531.4,906 1530.7,906.5 1530,906.1 1529.3,906.2 1528.6,906.4 1527.9,906.2 1527.2,904.7 1526.5,904.9 1525.8,903.9 1525.1,903.1 1524.3,902.1 1523.6,900.9 1522.9,898.8 1522.2,896.5 1521.5,894.3 1520.8,891.7 1520.1,889.9 1519.4,888 1518.6,886 1517.9,884.1 1517.2,883.5 1516.5,887.2 1515.8,891.5 1515.1,894.8 1514.4,897.1 1513.7,899.4 1513,901.1 1512.3,903 1511.6,903.4 1510.9,904.5 1510.2,906.1 1509.5,905.8 1508.8,905.9 1508.1,905.5 1507.4,905.6 1506.7,905.8 1506,906.1 1505.3,906.2 1504.6,906.5 1503.9,906.2 1503.2,906.2 1502.5,907.3 1501.8,907.1 1501.1,906.4 1500.4,907 1499.7,907.1 1498.9,906.8 1498.2,906.8 1497.5,907 1496.8,907.3 1496.1,906.8 1495.4,907.1 1494.7,906.9 1494,906.9 1493.3,906.8 1492.6,907 1491.9,907.4 1491.2,907.2 1490.5,907.9 1489.8,907.6 1489.1,907.7 1488.4,907.2 1487.7,906.8 1487,907 1486.2,907.2 1485.5,907.2 1484.8,907.1 1484.1,907.3 1483.4,907 1482.7,907.1 1482,906.9 1481.3,906.9 1480.6,906.8 1479.9,906.9 1479.2,906.9 1478.5,906.9 1477.8,906.6 1477.1,907 1476.4,906.6 1475.7,906.6 1475,906.7 1474.2,907.2 1473.5,907.4 1472.8,907.3 1472.1,906.3 1471.4,905.6 1470.7,905.8 1470,905.7 1469.3,905.5 1468.6,904.7 1467.9,904.2 1467.2,903.1 1466.5,902 1465.8,900.9 1465.1,899.8 1464.3,898.3 1463.6,897.3 1462.9,896.4 1462.2,895.1 1461.9,894.8 1461.5,896 1460.8,897.6 1460.1,899.8 1459.4,901 1458.7,902.8 1458,903.7 1457.3,904.1 1456.6,903.7 1455.9,904.1 1455.2,904.2 1454.5,904.2 1453.8,904.8 1453.1,904.3 1452.4,904 1451.7,903.7 1450.9,903.7 1450.2,903.8 1449.5,902.4 1448.8,901.8 1448.1,900.9 1447.4,899.3 1446.7,897 1446,894.9 1445.3,891.7 1444.6,889.3 1443.8,886.5 1443.1,884.9 1442.4,882.1 1441.7,879.2 1441.3,877.9 1441,881.4 1440.3,886.3 1439.6,890.6 1438.9,894.2 1438.2,897 1437.5,899.1 1436.8,900.7 1436.1,901.5 1435.4,902.4 1434.7,903.2 1434,903.3 1433.3,903.3 1432.6,904.2 1431.9,903.8 1431.2,904 1430.5,903.8 1429.8,904.3 1429.1,904.2 1428.4,903.7 1427.7,904.3 1427,904.7 1426.3,904.3 1425.6,903.1 1424.9,902.9 1424.2,902.5 1423.5,902 1422.8,900.9 1422.1,900.3 1421.4,899.5 1420.7,898 1419.9,896.5 1419.2,892.5 1418.5,887.8 1417.8,884.3 1417.1,877 1416.4,871.3 1415.7,867.7 1414.9,862.5 1414.2,856.8 1413.5,849.5 1413.1,848.1 1412.8,855.9 1412.1,866.1 1411.5,874.8 1410.8,882.2 1410.1,888.3 1409.4,892.1 1408.7,895.3 1408,897.6 1407.3,899.1 1406.6,900.3 1405.9,901.3 1405.2,901.8 1404.5,902.3 1403.8,903 1403.1,904.2 1402.4,904.2 1401.7,904 1401,904.3 1400.3,904.7 1399.6,904.2 1398.9,904.3 1398.2,904.3 1397.5,904.7 1396.8,905.3 1396.1,904.4 1395.4,904 1394.7,903.6 1394,903.3 1393.3,902.4 1392.6,901.7 1391.9,900.4 1391.2,897.7 1390.5,895 1389.8,893.6 1389.1,892.7 1388.4,891.3 1387.7,887.9 1387.3,885 1387,887.9 1386.3,891.8 1385.6,894.9 1384.9,897 1384.2,897.6 1383.5,898.5 1382.8,898.8 1382.1,898.6 1381.4,899.1 1380.7,899.7 1380,899.6 1379.3,899.4 1378.6,899.1 1377.9,899 1377.5,898.9 1377.2,899.4 1376.5,899.9 1375.8,900.6 1375.1,900.7 1374.4,901.5 1373.7,901.7 1373,902.4 1372.3,902.9 1371.6,903.5 1370.9,904.6 1370.2,904.4 1369.5,905 1368.8,905.7 1368.1,905.9 1367.4,906.3 1366.7,906.7 1366,906.7 1365.3,907 1364.6,907.3 1363.9,906.7 1363.2,906.6 1362.5,906.9 1361.8,906.7 1361.1,906.5 1360.4,906.3 1359.7,906.8 1359,906 1358.3,905.8 1357.6,905.7 1356.9,904.9 1356.2,905.1 1355.5,903.8 1354.8,904 1354.1,903.6 1353.4,903.9 1352.7,902.9 1351.9,902.2 1351.2,902.2 1350.5,902.4 1349.8,902.9 1349.1,903.2 1348.4,903.5 1347.7,903.8 1347,904.5 1346.3,904.9 1345.6,905.2 1344.9,905.2 1344.2,905.4 1343.5,905.5 1342.8,905.7 1342.1,906 1341.4,906.5 1340.7,906.7 1340,906.8 1339.3,906.5 1338.6,906.5 1337.9,906.8 1337.2,907 1336.5,907.1 1335.8,906.9 1335.1,907.2 1334.4,907.4 1333.7,907 1333,907 1332.3,906.8 1331.6,907.1 1330.9,907.7 1330.2,908 1329.5,907.4 1328.8,907.6 1328.1,906.7 1327.4,906.9 1326.7,906.9 1326,907 1325.3,906.8 1324.6,907.1 1323.9,907.1 1323.2,906.6 1322.5,906.6 1321.8,906.2 1321.1,906.1 1320.4,905.6 1319.7,905.6 1319,905.1 1318.3,905 1317.6,904.5 1316.9,904.1 1316.2,902.8 1315.5,900.5 1314.8,898.4 1314.1,894.7 1313.3,889.5 1312.6,884 1311.9,881.2 1311.2,879.8 1310.5,874.8 1309.8,869.2 1309.1,879.4 1308.4,888.2 1307.7,894.4 1307.1,898.6 1306.4,901.1 1305.7,902.6 1305,903.3 1304.3,903.8 1303.6,904.5 1302.9,905.1 1302.2,905.4 1301.5,905.7 1300.8,905.8 1300.1,905.7 1299.4,906.1 1298.7,906.1 1298,906.3 1297.3,906.7 1296.6,906.5 1295.9,906.1 1295.2,906 1294.5,905.9 1293.8,905.8 1293.1,905.7 1292.4,905.7 1291.7,905.7 1291,905.2 1290.2,904.1 1289.5,903.7 1288.8,902.5 1288.1,901.9 1287.4,899.9 1286.7,898.7 1286,898.8 1285.3,897.5 1284.6,897.8 1283.9,898.6 1283.2,900.5 1282.5,901.6 1281.8,902.6 1281.1,903.6 1280.4,904.6 1279.7,905.2 1279,905.5 1278.3,905.9 1277.6,906.1 1276.9,906.4 1276.2,906.7 1275.5,907.2 1274.8,907.4 1274.1,907 1273.4,907 1272.7,907.1 1272,907.7 1271.3,907.6 1270.6,907.8 1269.9,906.7 1269.2,906.9 1268.5,908.2 1267.8,907.8 1267.1,907.6 1266.4,906.5 1265.7,905.9 1265,905.7 1264.3,905.9 1263.6,905 1262.9,904.6 1262.2,904 1261.5,902.5 1260.8,901.7 1260.1,900.6 1259.4,899.7 1258.7,899.4 1258.3,898.9 1258,900 1257.3,901.1 1256.6,902.8 1255.9,903.6 1255.2,905 1254.5,905 1253.8,906.1 1253.1,906.1 1252.4,906.2 1251.7,906.3 1251,906.5 1250.3,906.9 1249.6,906.7 1248.9,906.9 1248.2,906.7 1247.5,906.7 1246.8,907 1246.1,906.9 1245.4,907.5 1244.7,907.1 1244,907.4 1243.3,907.2 1242.6,907.6 1241.9,907.9 1241.2,907.4 1240.5,907.3 1239.8,907.7 1239.1,907.6 1238.4,907.4 1237.7,907.7 1237,907.5 1236.3,908.5 1235.6,908.5 1234.9,908.5 1234.2,908.1 1233.5,908.6 1232.8,908.4 1232.1,908.8 1231.4,908.3 1230.7,907.5 1230,907.6 1229.3,907.7 1228.6,908 1227.9,907.9 1227.2,908.7 1226.4,908.4 1225.7,908.1 1225,907.4 1224.3,907.5 1223.6,908 1222.9,907.7 1222.2,907.8 1221.5,907.8 1220.8,907.7 1220.1,907.7 1219.4,907.3 1218.7,907.2 1218,908.1 1217.3,907.7 1216.6,908 1215.9,908.2 1215.2,908.3 1214.5,907.9 1213.8,907.1 1213.1,908.2 1212.4,907.9 1211.7,907.6 1211,907.5 1210.3,907.6 1209.6,907.7 1208.9,907.6 1208.2,907.2 1207.5,907.9 1206.8,908.2 1206.1,908.1 1205.4,907.1 1204.7,907.6 1204,907.1 1203.3,907.2 1202.6,908.1 1201.9,907.6 1201.2,907.7 1200.5,907.2 1199.8,907.6 1199.1,908.1 1198.4,907.7 1197.7,907.7 1197,907.6 1196.3,907.5 1195.6,907.3 1194.9,907.6 1194.2,907 1193.5,907.6 1192.8,907.7 1192.1,908 1191.4,906.9 1190.7,907.3 1190,907.8 1189.3,908.1 1188.6,908.4 1187.9,907.6 1187.2,907.4 1186.5,907.4 1185.8,907.9 1185.1,907.6 1184.4,907.5 1183.7,907.2 1183,907.3 1182.3,907.1 1181.6,907.3 1180.9,907.5 1180.2,907.4 1179.5,907.6 1178.8,907.3 1178.1,907.4 1177.4,907.3 1176.7,907.8 1176,907.8 1175.3,907.1 1174.6,907.1 1173.9,907.5 1173.2,907.2 1172.5,907.6 1171.8,907.6 1171,907.1 1170.3,907 1169.6,907.4 1168.9,908 1168.2,907.6 1167.5,906.8 1166.8,907.2 1166.1,907.3 1165.4,907.1 1164.7,907 1164,907.2 1163.3,907.3 1162.6,906.7 1161.9,906.6 1161.2,906.7 1160.5,907 1159.8,907.4 1159.1,907.6 1158.4,907.6 1157.7,907.4 1157,906.5 1156.3,907.2 1155.6,907 1154.9,906.7 1154.2,906.7 1153.5,906 1152.8,906.1 1152.1,905.6 1151.4,905.4 1150.7,905.3 1150,904.9 1149.3,904.4 1148.6,904 1147.9,904.1 1147.2,904.7 1146.5,904.8 1145.8,905.2 1145.1,904.3 1144.4,904.3 1143.7,903.7 1143,903.5 1142.3,903.5 1141.6,904.3 1140.9,903.8 1140.2,904.8 1139.5,904.4 1138.8,904.8 1138.1,904.4 1137.4,905 1136.7,904.9 1136,905.1 1135.3,904.9 1134.6,906 1133.9,906.1 1133.2,905.3 1132.5,905.2 1131.8,905.4 1131.1,905.7 1130.4,905.6 1129.7,905.7 1129,905.6 1128.3,905 1127.6,905.5 1126.9,904.9 1126.2,904.6 1125.5,904.7 1124.8,904.7 1124.1,904.3 1123.4,904.3 1122.7,903.6 1122,903.2 1121.3,903.5 1120.6,903.4 1119.8,903.1 1119.1,902.6 1118.4,903.3 1118.1,902.6 1117.7,902.2 1117,903.2 1116.3,903.1 1115.6,903.7 1114.9,903.8 1114.2,903.2 1113.5,903.4 1112.8,904.1 1112.1,904.6 1111.4,904.1 1110.7,904.4 1110,905.3 1109.3,905.5 1108.6,905 1107.9,904.1 1107.2,904.3 1106.5,904.1 1105.8,904.6 1105.1,903.9 1104.4,903.9 1103.7,904.5 1103,904.3 1102.3,904.6 1101.6,903.6 1100.9,903.6 1100.2,903.5 1099.5,903.1 1098.8,903 1098.1,902.9 1097.4,903.1 1096.7,902.6 1096,902.3 1095.3,902.5 1094.6,902.4 1093.9,901.6 1093.2,900.6 1092.5,900 1091.8,899.4 1091.1,898.7 1090.4,898.1 1089.7,896.8 1089,894.8 1088.3,892.5 1087.6,888.9 1086.8,884.4 1086.1,878.1 1085.4,869.3 1084.7,857.9 1083.9,844.4 1083.2,827.5 1082.4,809.4 1081.6,791.5 1080.9,774.7 1080.2,760.6 1079.4,751.4 1079.1,755.1 1078.8,768.3 1078.1,786.6 1077.5,807 1076.8,827.1 1076.2,844.3 1075.5,858.9 1074.9,870.7 1074.2,879 1073.5,885.8 1072.8,889 1072.1,892.7 1071.4,894.3 1070.7,896.5 1070,897.4 1069.3,898.2 1068.6,899.2 1067.9,900.1 1067.2,900.4 1066.5,901.1 1065.8,901.1 1065.1,902.3 1064.4,901.8 1063.7,902 1063,903.1 1062.3,902.9 1061.6,903.4 1060.9,903.4 1060.2,904.1 1059.5,903.9 1058.8,903.5 1058.1,903.6 1057.4,904 1056.7,903.5 1056,903.8 1055.3,904.1 1054.6,904.4 1053.9,903.8 1053.1,904.2 1052.4,904.9 1051.7,905 1051,904.6 1050.3,904.6 1049.6,904.2 1048.9,904.1 1048.2,903.8 1047.5,904 1046.8,903.9 1046.1,904.5 1045.4,904.5 1044.7,904.8 1044,904.7 1043.3,904.5 1042.6,904.4 1041.9,903.9 1041.2,903.9 1040.5,903.9 1039.8,904.4 1039.1,904.1 1038.4,904.8 1037.7,904.5 1037,905.6 1036.3,905 1035.6,904.9 1034.9,904.5 1034.2,905.1 1033.5,905.2 1032.8,904.5 1032,904.6 1031.3,904.9 1030.6,904.9 1029.9,905 1029.2,904.2 1028.5,904.1 1027.8,904.4 1027.1,905 1026.4,905.2 1025.7,904.3 1025,904.8 1024.3,904.9 1023.6,904.8 1022.9,904.5 1022.2,904.3 1021.5,904.4 1020.8,904.2 1020.1,904 1019.4,904.2 1018.7,904.1 1018,904.1 1017.3,904.2 1016.6,904.2 1015.9,904 1015.2,904 1014.5,904.2 1013.8,904.5 1013.1,904.6 1012.4,904.9 1011.6,904.1 1010.9,904 1010.2,904.4 1009.5,904.1 1008.8,904.2 1008.1,904.2 1007.4,904.4 1006.7,904.5 1006,904.8 1005.3,904.6 1004.6,904.2 1003.9,904.6 1003.2,904.2 1002.5,903.9 1001.8,904.4 1001.1,904.4 1000.4,904.1 999.7,904.1 999,903.8 998.3,903.4 997.6,903.7 996.9,903.2 996.2,903.1 995.5,903.6 994.8,903.3 994.1,903.5 993.4,903.7 992.7,903.2 991.9,902.8 991.2,902.9 990.5,903.2 989.8,903 989.1,902.4 988.4,902.4 987.7,902.4 987,902.2 986.3,902.2 985.6,902.7 984.9,901.9 984.2,902.5 983.5,903.3 982.8,902.7 982.1,901.3 981.4,901.2 980.7,901.1 980,901.5 979.3,900.7 978.6,900.5 977.9,899.9 977.2,899.6 976.5,900.2 975.8,899.9 975.1,899 974.3,898 973.6,897.7 972.9,896 972.2,895.2 971.5,893 970.8,890.8 970.1,888.5 969.4,885 968.7,879.9 967.9,873.4 967.2,862.2 966.5,844.9 965.6,811.4 964.7,741.8 963.7,614.7 962.7,538.4 962,525.3 960.9,396.8 960.9,646.7 960.6,766.3 960,819.9 959.4,846.6 958.8,862.1 958.1,872.7 957.4,878.9 956.7,883.4 956,887.1 955.3,889.6 954.6,892.2 953.9,893.3 953.2,894.6 952.5,895.4 951.8,896.5 951.1,896.9 950.4,898 949.7,898.5 949,899.9 948.3,899.6 947.6,900.4 946.9,899.8 946.2,899.8 945.5,899.9 944.8,900.3 944.1,900.3 943.4,900.9 942.7,901 942,900.8 941.3,900.8 940.6,900.9 939.9,901.9 939.2,901.7 938.5,902.4 937.8,901.4 937.1,901.6 936.4,901.1 935.7,901.3 935,901.2 934.3,901.1 933.6,901.6 932.9,901.6 932.2,901.7 931.5,902.3 930.7,901.7 930,900.3 929.3,900.9 928.6,900.7 927.9,899 927.2,897.7 926.5,895.8 925.8,892.9 925.1,886.4 924.3,874.8 923.6,865.5 922.9,862.6 922.2,851.8 921.5,875.2 920.9,886.5 920.2,891.4 919.5,892.9 918.8,892.6 918.1,892.8 917.4,892.2 916.7,891.5 915.9,891.2 915.2,888.8 914.6,894.7 913.9,897.6 913.2,898.9 912.5,899 911.8,899.9 911.1,900.3 910.3,899.6 909.6,900.1 908.9,899.7 908.2,900.3 907.5,899.6 906.8,899.7 906.1,899.1 905.4,898.3 904.7,897.3 904,895.9 903.3,892.2 902.6,884.8 901.8,872 901.1,868.3 900.4,862.7 900,842.7 899.7,871 899.1,886.4 898.4,893.3 897.7,896.2 897,897.8 896.3,899.3 895.6,899.9 894.9,900.6 894.2,901.2 893.5,901.2 892.8,902.1 892.1,901.7 891.4,902.2 890.7,901.4 890,901.9 889.2,902.1 888.6,903.3 887.8,903.4 887.1,903.2 886.4,902.4 885.7,902.4 885,902.5 884.3,903.2 883.6,902 882.9,902.1 882.2,901.9 881.5,902.4 880.8,903.1 880.1,902.7 879.4,903.1 878.7,902.5 878,902.5 877.3,901.7 876.6,902.1 875.9,901.8 875.2,902.1 874.5,902 873.8,902.9 873.1,902.1 872.4,902 871.7,902 871,902.5 870.3,902.5 869.6,903.1 868.9,902.7 868.1,902.6 867.4,902.3 866.7,902 866,902 865.3,902.4 864.6,903 863.9,902 863.2,902.4 862.5,903 861.8,902.1 861.1,902.1 860.4,902.9 859.7,903.6 859,902.9 858.3,902.5 857.6,902.6 856.9,902.7 856.2,902.6 855.5,902.6 854.8,902.7 854.1,902.6 853.4,902.3 852.7,902.8 852,902.9 851.3,902.6 850.6,903 849.9,903.1 849.2,902.6 848.5,902.7 847.8,902.5 847,902.4 846.3,902.6 845.6,902.6 844.9,903 844.2,902.5 843.5,902.7 842.8,903.4 842.1,902.6 841.4,902.5 840.7,902.5 840,902.7 839.3,903.2 838.6,902.2 837.9,902.5 837.2,902.2 836.5,902.6 835.8,902.5 835.1,902.4 834.4,903.1 833.7,903.7 833,903.3 832.3,902.4 831.6,903.1 830.9,902.9 830.2,902.6 829.5,902.5 828.8,903.2 828.1,903.5 827.4,903.1 826.6,902.9 825.9,902.6 825.2,903.2 824.5,902.7 823.8,902.9 823.1,903.2 822.4,903.2 821.7,902.7 821,902.9 820.3,902.6 819.6,903 818.9,903.2 818.2,903.4 817.5,903.8 816.8,903.4 816.1,903.5 815.4,903.2 814.7,902.6 814,903 813.3,903.6 812.6,903.6 811.9,903.7 811.2,903.6 810.5,902.7 809.8,902.5 809.1,902.3 808.4,903 807.7,902.3 807,902.2 806.2,902.6 805.5,903.2 804.8,902.9 804.1,902.7 803.4,902.4 802.7,903.2 802,902.8 801.3,902.4 800.6,903 799.9,903.5 799.2,902.6 798.5,902.2 797.8,902.2 797.1,902.3 796.4,902.2 795.7,902.7 795,902.5 794.3,902.4 793.6,902.7 792.9,902.5 792.2,902.4 791.5,901.9 790.8,901.8 790.1,901.7 789.4,901.6 788.7,901.3 788,900.6 787.2,899.8 786.5,898.5 785.8,896.6 785.1,895 784.4,893.2 784.1,891.7 783.7,894.7 783,897.2 782.3,899.1 781.6,901.3 780.9,900.6 780.2,900.2 779.5,900.3 778.8,900.2 778.1,900.1 777.4,900.1 776.7,897.7 776,893.3 775.3,892 774.6,890.7 773.9,896.5 773.2,899.2 772.5,900 771.8,900.7 771.1,901.2 770.4,901.1 769.7,901.7 769,902.2 768.3,901.7 767.6,901.2 766.9,902.3 766.2,901.4 765.4,901.4 764.7,900.6 764,900.4 763.3,899.3 762.6,897.8 761.9,895.6 761.2,892.8 760.5,884.7 759.7,865.4 758.9,813.3 758.3,865.8 757.7,884.5 757,892.1 756.3,895.9 755.6,898.1 754.9,900.2 754.2,901 753.5,901 752.8,901.4 752.1,901.5 751.4,901.6 750.7,901.6 750,901.9 749.3,902 748.6,902 747.9,901.8 747.2,902 746.5,901.5 745.8,901.6 745,900.9 744.3,900.3 743.6,899.5 742.9,897.4 742.2,894.5 741.5,892.4 741.1,890.7 740.8,894.7 740.1,897.8 739.4,899.6 738.7,900.5 738,900.8 737.3,901.2 736.6,901.1 735.9,901.1 735.2,901.9 734.5,901.4 733.8,900.6 733.1,901 732.4,900.2 731.7,899.6 731,898.9 730.3,897.5 729.6,894.8 728.8,892 728.1,889.9 727.4,887.6 727.1,887.6 726.7,889.9 726,892.9 725.3,896.1 724.6,898.2 723.9,899.4 723.2,900 722.5,900.6 721.8,901.6 721.1,901.4 720.4,902.1 719.7,901.7 719,902.1 718.3,902.1 717.6,902.5 716.9,902.2 716.2,902.3 715.5,902.2 714.8,903.3 714.1,903.1 713.4,903.4 712.7,902.4 712,902.6 711.3,902.5 710.6,902.5 709.9,902.8 709.2,902.1 708.5,902.2 707.8,902.3 707.1,902.1 706.4,902.6 705.7,902.3 705,902.4 704.3,902.8 703.6,902.9 702.9,902.4 702.2,902.7 701.5,903 700.7,902.7 700,902.8 699.3,903.2 698.6,903.3 697.9,903.5 697.2,903.1 696.5,903.3 695.8,903.8 695.1,902.9 694.4,902.8 693.7,903.3 693,903.1 692.3,903 691.6,904 690.9,903.1 690.2,903.4 689.5,903.4 688.8,903.7 688.1,904 687.4,904 686.7,903.7 686,904 685.3,904.3 684.6,903.7 683.9,903.1 683.2,902.7 682.5,902.9 681.8,903.4 681.1,903.5 680.4,903 679.7,902.7 678.9,902.9 678.2,903.3 677.5,902.8 676.8,903.1 676.1,903.2 675.4,903.6 674.7,903.6 674,902.6 673.3,903.1 672.6,903.4 671.9,902 671.2,902 670.5,901.1 669.8,901 669.1,900.5 668.4,900 667.7,899.3 667,898 666.3,895.7 665.6,893.4 664.8,889.2 664.1,882.5 663.4,872.8 662.7,863.6 661.9,858 661.3,865.7 660.6,867.1 659.9,867.1 659.2,867.1 658.4,858.8 657.7,846.9 657,848.4 656.4,872.6 655.7,886 655,893 654.3,896.1 653.6,897.9 652.9,899 652.2,900.1 651.5,900.4 650.8,901.1 650.1,901 649.4,901.2 648.7,901.5 648,901.8 647.3,902.2 646.6,902 645.9,902.4 645.2,902.5 644.5,903.5 643.8,903.9 643.1,904.6 642.4,904.4 641.7,903.7 641,902.8 640.3,903.2 639.6,904.1 638.9,903.8 638.2,903 637.5,903 636.8,903.1 636.1,903.2 635.4,904.3 634.6,903.9 633.9,903.5 633.2,903.2 632.5,903.6 631.8,904.3 631.1,903.8 630.4,903.8 629.7,903.4 629,902.9 628.3,903.3 627.6,903 626.9,903.4 626.2,903 625.5,903 624.8,903.3 624.1,903.4 623.4,903.4 622.7,903.4 622,903.6 621.3,904.3 620.6,904.4 619.9,903.5 619.2,904 618.5,903.9 617.8,903.5 617.1,903.6 616.4,903.6 615.7,903.3 615,903.1 614.3,903.4 613.6,904 612.9,903.9 612.1,903.5 611.4,904 610.7,904.4 610,903.9 609.3,903.5 608.6,903.9 607.9,903.3 607.2,903.2 606.5,903.3 605.8,903.5 605.1,903.6 604.4,903.2 603.7,903 603,903.7 602.3,904.2 601.6,904.3 600.9,903.7 600.2,904.5 599.5,904.4 598.8,904.4 598.1,903.4 597.4,903.8 596.7,903.8 596,903.4 595.3,903.6 594.6,903.8 593.9,904.3 593.2,904.2 592.5,904.5 591.8,903.3 591.1,903.8 590.3,904.5 589.6,903.7 588.9,903.9 588.2,903.9 587.5,904.4 586.8,904 586.1,904 585.4,903.8 584.7,904.1 584,903.6 583.3,903.2 582.6,902.9 581.9,903.2 581.2,902.8 580.5,902.7 579.8,902.7 579.1,902.3 578.4,901.9 577.7,901.9 577,901.4 576.3,901.5 575.6,900.4 574.9,898.8 574.1,895.4 573.4,888.4 572.7,878.5 572,875.9 571.3,888.9 570.6,895.2 569.9,898.7 569.2,901.3 568.5,901.6 567.8,901.3 567.1,902 566.4,902 565.7,902.2 565,903.2 564.3,903.4 563.6,903 562.9,902.9 562.2,902.9 561.5,902.8 560.8,903 560.1,902.8 559.4,903.8 558.7,903.8 558,903.4 557.3,902.8 556.6,902.9 555.9,903.3 555.2,903.6 554.5,902.9 553.8,903.4 553.1,903.9 552.4,903 551.7,903.4 551,903 550.3,903.2 549.6,903 548.9,903.5 548.2,902.8 547.4,903 546.7,903.3 546,903.4 545.3,903 544.6,903.7 543.9,903.6 543.2,903.4 542.5,903 541.8,903.1 541.1,902.9 540.4,903.5 539.7,903.2 539,903.7 538.3,903.8 537.6,903.4 536.9,903.2 536.2,903 535.5,903.2 534.8,903 534.1,902.9 533.4,903 532.7,903 532,903.2 531.3,903.4 530.6,903.3 529.9,903.2 529.2,903.3 528.5,903.3 527.8,903.8 527.1,903.3 526.4,903.5 525.7,903.4 524.9,903.7 524.2,903 523.5,902.8 522.8,903.1 522.1,903 521.4,903.7 520.7,903.6 520,902.9 519.3,903.7 518.6,903.9 517.9,903.5 517.2,903.7 516.5,903.8 515.8,903.8 515.1,903.8 514.4,903.5 513.7,903.3 513,902.8 512.3,903 511.6,903.2 510.9,903 510.2,903.3 509.5,903.6 508.8,903.1 508.1,902.8 507.4,903.1 506.7,903.1 506,902.9 505.3,903 504.6,903 503.9,903.1 503.2,903.9 502.4,903.6 501.7,903.2 501,903.5 500.3,903.2 499.6,903.2 498.9,903.5 498.2,903.7 497.5,903.2 496.8,903.3 496.1,903.9 495.4,903.1 494.7,903.7 494,903 493.3,903.5 492.6,903.3 491.9,903.1 491.2,903.6 490.5,903.6 489.8,903.6 489.1,904 488.4,904.4 487.7,903.4 487,902.9 486.3,903.7 485.6,903.5 484.9,903.9 484.2,903.6 483.5,903.6 482.8,903.5 482.1,903.2 481.3,902.6 480.6,902.6 479.9,902.8 479.2,903 478.5,902.4 477.8,903.6 477.1,903.2 476.4,902.4 475.7,903.3 475,903 474.3,902.8 473.6,902.9 472.9,903.6 472.2,904.3 471.5,903 470.8,902.2 470.1,902.4 469.4,902.4 468.7,901.9 468,901.4 467.3,901.7 466.6,901.2 465.9,900.3 465.2,899.5 464.5,897.9 463.7,896.5 463,890.9 462.3,880.3 461.5,851.8 460.9,784 460.8,851.7 460.2,880.3 459.5,890.9 458.8,895.1 458.1,898.1 457.4,899.1 456.7,900.2 456,900.8 455.3,901.4 454.6,902.5 453.9,902.7 453.2,902.4 452.5,902.2 451.8,902.4 451.1,902.3 450.4,902.5 449.7,902.5 449,902.3 448.3,902.9 447.6,902.3 446.9,902.5 446.2,902.7 445.5,903.4 444.8,902.7 444.1,902.7 443.4,903.6 442.7,902.8 442,903.2 441.3,903.3 440.6,903.8 439.9,903.9 439.2,903.8 438.5,903.6 437.8,903.5 437,903.2 436.3,903.3 435.6,903.3 434.9,903.1 434.2,903.2 433.5,903.2 432.8,902.9 432.1,903.4 431.4,903.2 430.7,903.9 430,903.9 429.3,903.5 428.6,903 427.9,903.1 427.2,903.3 426.5,903 425.8,902.7 425.1,903.2 424.4,903 423.7,902.9 423,902.6 422.3,902.9 421.6,903.9 420.9,903.6 420.2,903.9 419.5,903 418.8,903.1 418.1,902.2 417.4,902.1 416.7,902.5 415.9,902.2 415.2,902.4 414.5,902.2 413.8,902 413.1,902.5 412.4,902.8 411.7,902 411,902.5 410.3,902.8 409.6,903.7 408.9,903.2 408.2,902.9 407.5,901.9 406.8,902.7 406.1,903.8 405.4,904.1 404.7,902.8 404,902.1 403.3,901.7 402.6,902.4 401.9,902.3 401.2,902.3 400.5,902.4 399.8,902.3 399.1,902.2 398.4,902.9 397.7,903.5 397,902.5 396.3,902.6 395.6,902.6 394.9,901.9 394.1,901.9 393.4,901.9 392.7,901.5 392,901.4 391.3,901.6 390.6,901.8 389.9,901.3 389.2,901.3 388.5,902 387.8,901.3 387.1,901.7 386.4,901.5 385.7,902.1 385,901.7 384.3,901.6 383.6,901.7 382.9,902.2 382.2,901.1 381.5,901.6 380.8,901.8 380.1,901.4 379.4,900.9 378.7,901.2 378,901 377.3,901.9 376.6,901.1 375.9,901.6 375.2,900.8 374.5,900.7 373.8,900.7 373.1,901.2 372.4,901.1 371.7,901.8 371,902.2 370.3,901.7 369.6,900.8 368.9,901 368.2,901.8 367.5,902.1 366.8,900.6 366.1,900.7 365.4,900.9 364.7,900.3 364,900.3 363.3,900.4 362.6,900.5 361.9,901.3 361.2,901.7 360.5,901.2 359.8,901 359.1,900.6 358.4,900.9 357.7,900.3 357,900.3 356.3,900.6 355.6,900.9 354.9,900.6 354.2,899.9 353.5,899.8 352.8,900.2 352.1,900 351.4,900.3 350.7,900.2 350,899.8 349.3,900.6 348.6,900.1 347.9,899.9 347.2,900.1 346.5,900.2 345.8,901.4 345.1,901.4 344.4,901 343.7,899.8 343,899.4 342.3,899.3 341.6,899.3 340.9,899.4 340.2,899.1 339.5,899.1 338.8,899.2 338.1,899.6 337.4,900.8 336.7,900.3 336,899 335.3,899.7 334.6,899.9 333.9,899.9 333.2,900.1 332.5,899.9 331.8,899.2 331.1,898.9 330.4,899 329.7,898.7 329,898.9 328.3,898.5 327.6,898.8 326.9,898.7 326.2,899.3 325.5,898.6 324.8,898.9 324.1,898.2 323.4,898.9 322.7,898.5 322,898.1 321.3,898.6 320.6,898.2 319.9,898.3 319.2,899 318.5,898.4 317.8,898.3 317.1,897.9 316.4,898.2 315.7,897.6 315,897.9 314.3,898.3 313.6,898.4 312.9,897.7 312.2,898.2 311.5,899 310.8,897.9 310.1,898.1 309.4,898.3 308.7,897.8 308,897.3 307.3,897.5 306.6,897.4 305.9,897.9 305.2,898.2 304.5,897.4 303.8,897.4 303.1,897.5 302.4,897.7 301.7,897.6 301,898 300.3,898.6 299.6,897.7 298.9,897.2 298.2,897.2 297.5,897.3 296.8,897.9 296.1,897.8 295.4,897.5 294.7,896.7 294,896.8 293.3,897.3 292.6,897.7 291.9,897.1 291.2,897.4 290.5,898 289.8,897.3 289.1,896.9 288.4,897.5 287.7,897.4 287,897 286.3,897.1 285.6,896.8 284.9,896.6 284.2,897.7 283.5,897.5 282.8,897.4 282.1,897.1 281.4,896.4 280.7,896.6 280,896.4 279.3,896.1 278.6,895.9 277.9,896 277.2,896.4 276.5,896.2 275.8,896 275.1,896.3 274.4,895.8 273.7,895.9 273,896.2 272.3,896.2 271.6,896.3 270.9,896.1 270.2,896.1 269.5,895.7 268.8,895.4 268.1,896.6 267.4,895.8 266.7,896 266,895.1 265.3,895.6 264.6,895.3 263.9,894.9 263.2,895.4 262.5,895.6 261.8,895.9 261.1,895.1 260.4,895.2 259.7,895.9 259,894.9 258.3,894.6 257.6,895.4 256.9,894.5 256.2,894.4 255.5,894.9 254.8,894.6 254.1,894.1 253.4,894.2 252.7,894.6 252,895.2 251.3,894.8 250.6,893.9 249.9,894.1 249.2,894.3 248.5,894.4 247.8,894.3 247.1,894.1 246.4,894.2 245.7,893.7 245,893.6 244.3,893.7 243.6,894.1 242.9,893.7 242.2,894.1 241.5,893.9 240.8,894.3 240.1,894.5 239.4,894.5 238.7,894.3 238,893.5 237.3,893.4 236.6,893.8 235.9,893.7 235.2,893.9 234.5,894.4 233.8,893.7 233.1,893.5 232.4,894.2 231.7,893.4 231,893.4 230.3,893 229.6,892.6 228.9,893.4 228.2,892.5 227.5,893.3 226.8,893.3 226.1,892.9 225.4,892.3 224.7,892.4 224,893 223.3,892.5 222.6,892.1 221.9,892.6 221.2,892 220.5,892.2 219.8,892.9 219.1,892.4 218.4,891.8 217.7,891.9 217,892.5 216.3,892.2 215.6,892.9 214.9,891.7 214.2,891.7 213.5,891.5 212.8,892.2 212.1,891.4 211.4,891.7 210.7,891.9 210,891.3 209.3,891.8 208.6,891.8 207.9,891.8 207.2,891.3 206.5,891.3 205.8,891.2 205.1,891 204.4,891.2 203.7,891.6 203,891.2 202.3,891.1 201.6,891.6 200.9,891.2 200.2,891.3 199.5,891 198.8,891.1 198.1,890.6 197.4,891.3 196.7,890.6 196,890.6 195.3,891.1 194.6,891 193.9,891.2 193.2,890.3 192.5,890.2 191.8,890.4 191.1,890.1 190.4,890.1 189.7,890.1 189,890.2 188.3,890.9 187.6,890.3 186.9,890.2 186.2,890.6 185.5,889.6 184.8,889.6 184.1,890.7 183.4,890.5 182.7,889.8 182,889.7 181.3,890.1 180.6,890.3 179.9,889.1 179.2,889.4 178.5,889.3 177.8,889.9 177.1,889.6 176.4,889.1 175.7,888.9 175,889 174.3,889 173.6,888.6 172.9,888.6 172.2,888.9 171.5,889.1 170.8,889.3 170.1,888.4 169.4,888.7 168.7,888.9 168,888.2 167.3,888.2 166.6,888.1 165.9,888 165.2,888 164.5,887.7 163.8,887.7 163.1,887.6 162.4,887.6 161.7,887.8 161,888 160.3,888 159.6,887.9 158.9,887 158.2,888.4 157.5,888.3 156.8,888.2 156.1,886.3 155.4,886.3 154.7,885.9 154,886.2 153.3,886.2 152.6,885.7 151.9,885.8 151.2,885.7 150.5,886.2 149.8,885.6 149.1,884.8 148.4,885.6 147.7,885.3 147,887.1 146.3,886.1 145.6,885.8 144.9,884.5 144.2,885 143.5,883.3 142.8,882.9 142.1,883.5 141.4,882.5 140.7,882 140,881.9 139.3,882.7 138.6,882.3 137.9,880.9 137.2,880.6 136.5,879.9 135.8,879.6 135.1,878.6 134.4,877 133.7,876.2 133,875.1" fill="#0a0a0a" stroke="#0a0a0a" stroke-width="1.6" stroke-linejoin="round"/>
</g>
<polyline points="24,1400 24,1023 2341,1023" fill="none" stroke="#f5f5f5" stroke-width="2"/>
<g id="plotB">
<g stroke="#6e6e6e" stroke-width="1.9"><line x1="461.9" y1="1900.1" x2="461.9" y2="1850.1"/><line x1="726.3" y1="1899.4" x2="726.2" y2="1844.4" stroke="#3c3c3c" stroke-width="2"/><line x1="742.7" y1="1899.4" x2="742.6" y2="1843.4" stroke="#3c3c3c" stroke-width="2"/><line x1="760.5" y1="1899.3" x2="760.3" y2="1749.3"/><line x1="774.1" y1="1899.3" x2="774" y2="1847.3" stroke="#3c3c3c" stroke-width="2"/><line x1="782.8" y1="1899.3" x2="782.7" y2="1829.3" stroke="#3c3c3c" stroke-width="2"/><line x1="838.6" y1="1899.2" x2="838.6" y2="1863.2" stroke="#3c3c3c" stroke-width="2"/><line x1="852.6" y1="1899.1" x2="852.5" y2="1838.1" stroke="#3c3c3c" stroke-width="2"/><line x1="900.7" y1="1899" x2="900.6" y2="1819"/><line x1="962.5" y1="1898.9" x2="961.6" y2="1158.9" stroke-width="2.4" stroke="#7a7a7a"/><line x1="965.3" y1="1898.9" x2="964.9" y2="1568.9" stroke-width="2.4" stroke="#7a7a7a"/><line x1="1047.9" y1="1898.8" x2="1047.9" y2="1878.8"/><line x1="1255.6" y1="1898.5" x2="1255.6" y2="1883.5"/><line x1="1285.3" y1="1898.4" x2="1285.3" y2="1880.4"/><line x1="1309.7" y1="1898.4" x2="1309.7" y2="1868.4"/><line x1="1313.2" y1="1898.4" x2="1313.2" y2="1882.4"/><line x1="1375" y1="1898.3" x2="1375" y2="1878.3"/><line x1="1383.1" y1="1898.3" x2="1383" y2="1830.3" stroke="#3c3c3c" stroke-width="2"/><line x1="1402.3" y1="1898.2" x2="1402.2" y2="1884.2"/><line x1="1411" y1="1898.2" x2="1411" y2="1862.2"/><line x1="1414.5" y1="1898.2" x2="1414.5" y2="1878.2"/><line x1="1440.7" y1="1898.2" x2="1440.7" y2="1885.2"/><line x1="1516" y1="1898.1" x2="1516" y2="1874.1"/><line x1="1519.6" y1="1898.1" x2="1519.5" y2="1886.1"/><line x1="1633.7" y1="1898" x2="1633.6" y2="1880"/><line x1="1639" y1="1898" x2="1638.9" y2="1888"/><line x1="1785.5" y1="1897.9" x2="1785.4" y2="1839.9"/><line x1="1789.7" y1="1897.9" x2="1789.7" y2="1867.9"/><line x1="1951.8" y1="1897.8" x2="1951.7" y2="1882.8"/><line x1="1967.5" y1="1897.7" x2="1967.5" y2="1887.7"/><line x1="1978" y1="1897.7" x2="1978" y2="1875.7" stroke="#3c3c3c" stroke-width="2"/><line x1="2128.6" y1="1897.6" x2="2128.6" y2="1857.6"/><line x1="2133.9" y1="1897.6" x2="2133.8" y2="1875.6"/><line x1="2213.4" y1="1897.5" x2="2213.4" y2="1887.5"/><line x1="2273.5" y1="1897.4" x2="2273.5" y2="1891.4"/></g>
<polyline points="113.8,1900.5 380,1900.3 900,1899 1430,1898.2 2130,1897.6 2308.8,1897.4" fill="none" stroke="#5a5a5a" stroke-width="3"/>
<line x1="169.3" y1="1900.5" x2="169.3" y2="1911" stroke="#444" stroke-width="2.5"/>
<line x1="204.8" y1="1900.4" x2="204.8" y2="1920.4" stroke="#2c2c2c" stroke-width="2.8"/>
<line x1="239.9" y1="1900.4" x2="239.9" y2="1910.9" stroke="#444" stroke-width="2.5"/>
<line x1="275" y1="1900.4" x2="275" y2="1910.9" stroke="#444" stroke-width="2.5"/>
<line x1="310.1" y1="1900.4" x2="310.1" y2="1910.9" stroke="#444" stroke-width="2.5"/>
<line x1="345.2" y1="1900.3" x2="345.2" y2="1910.8" stroke="#444" stroke-width="2.5"/>
<line x1="380.3" y1="1900.3" x2="380.3" y2="1920.3" stroke="#2c2c2c" stroke-width="2.8"/>
<line x1="415.3" y1="1900.2" x2="415.4" y2="1910.7" stroke="#444" stroke-width="2.5"/>
<line x1="450.4" y1="1900.1" x2="450.4" y2="1910.6" stroke="#444" stroke-width="2.5"/>
<line x1="485.4" y1="1900" x2="485.4" y2="1910.5" stroke="#444" stroke-width="2.5"/>
<line x1="520.5" y1="1899.9" x2="520.5" y2="1910.4" stroke="#444" stroke-width="2.5"/>
<line x1="555.5" y1="1899.9" x2="555.5" y2="1919.9" stroke="#2c2c2c" stroke-width="2.8"/>
<line x1="590.5" y1="1899.8" x2="590.5" y2="1910.3" stroke="#444" stroke-width="2.5"/>
<line x1="625.5" y1="1899.7" x2="625.5" y2="1910.2" stroke="#444" stroke-width="2.5"/>
<line x1="660.5" y1="1899.6" x2="660.5" y2="1910.1" stroke="#444" stroke-width="2.5"/>
<line x1="695.5" y1="1899.5" x2="695.5" y2="1910" stroke="#444" stroke-width="2.5"/>
<line x1="730.5" y1="1899.4" x2="730.5" y2="1919.4" stroke="#2c2c2c" stroke-width="2.8"/>
<line x1="765.4" y1="1899.3" x2="765.4" y2="1909.8" stroke="#444" stroke-width="2.5"/>
<line x1="800.3" y1="1899.2" x2="800.3" y2="1909.7" stroke="#444" stroke-width="2.5"/>
<line x1="835.1" y1="1899.2" x2="835.2" y2="1909.7" stroke="#444" stroke-width="2.5"/>
<line x1="870" y1="1899.1" x2="870" y2="1909.6" stroke="#444" stroke-width="2.5"/>
<line x1="904.9" y1="1899" x2="904.9" y2="1919" stroke="#2c2c2c" stroke-width="2.8"/>
<line x1="940.2" y1="1898.9" x2="940.2" y2="1909.4" stroke="#444" stroke-width="2.5"/>
<line x1="975.5" y1="1898.9" x2="975.6" y2="1909.4" stroke="#444" stroke-width="2.5"/>
<line x1="1010.9" y1="1898.8" x2="1010.9" y2="1909.3" stroke="#444" stroke-width="2.5"/>
<line x1="1046.2" y1="1898.8" x2="1046.2" y2="1909.3" stroke="#444" stroke-width="2.5"/>
<line x1="1081.5" y1="1898.7" x2="1081.5" y2="1918.7" stroke="#2c2c2c" stroke-width="2.8"/>
<line x1="1116.3" y1="1898.7" x2="1116.3" y2="1909.2" stroke="#444" stroke-width="2.5"/>
<line x1="1151.1" y1="1898.6" x2="1151.2" y2="1909.1" stroke="#444" stroke-width="2.5"/>
<line x1="1186" y1="1898.6" x2="1186" y2="1909.1" stroke="#444" stroke-width="2.5"/>
<line x1="1220.8" y1="1898.5" x2="1220.8" y2="1909" stroke="#444" stroke-width="2.5"/>
<line x1="1255.6" y1="1898.5" x2="1255.6" y2="1918.5" stroke="#2c2c2c" stroke-width="2.8"/>
<line x1="1290.5" y1="1898.4" x2="1290.5" y2="1908.9" stroke="#444" stroke-width="2.5"/>
<line x1="1325.4" y1="1898.4" x2="1325.5" y2="1908.9" stroke="#444" stroke-width="2.5"/>
<line x1="1360.4" y1="1898.3" x2="1360.4" y2="1908.8" stroke="#444" stroke-width="2.5"/>
<line x1="1395.3" y1="1898.3" x2="1395.3" y2="1908.8" stroke="#444" stroke-width="2.5"/>
<line x1="1430.2" y1="1898.2" x2="1430.2" y2="1918.2" stroke="#2c2c2c" stroke-width="2.8"/>
<line x1="1465.2" y1="1898.2" x2="1465.3" y2="1908.7" stroke="#444" stroke-width="2.5"/>
<line x1="1500.3" y1="1898.1" x2="1500.3" y2="1908.6" stroke="#444" stroke-width="2.5"/>
<line x1="1535.3" y1="1898.1" x2="1535.3" y2="1908.6" stroke="#444" stroke-width="2.5"/>
<line x1="1570.4" y1="1898.1" x2="1570.4" y2="1908.6" stroke="#444" stroke-width="2.5"/>
<line x1="1605.4" y1="1898" x2="1605.4" y2="1918" stroke="#2c2c2c" stroke-width="2.8"/>
<line x1="1640.7" y1="1898" x2="1640.7" y2="1908.5" stroke="#444" stroke-width="2.5"/>
<line x1="1676" y1="1898" x2="1676.1" y2="1908.5" stroke="#444" stroke-width="2.5"/>
<line x1="1711.4" y1="1898" x2="1711.4" y2="1908.5" stroke="#444" stroke-width="2.5"/>
<line x1="1746.7" y1="1897.9" x2="1746.7" y2="1908.4" stroke="#444" stroke-width="2.5"/>
<line x1="1782" y1="1897.9" x2="1782" y2="1917.9" stroke="#2c2c2c" stroke-width="2.8"/>
<line x1="1817" y1="1897.9" x2="1817" y2="1908.4" stroke="#444" stroke-width="2.5"/>
<line x1="1852" y1="1897.8" x2="1852" y2="1908.3" stroke="#444" stroke-width="2.5"/>
<line x1="1887" y1="1897.8" x2="1887" y2="1908.3" stroke="#444" stroke-width="2.5"/>
<line x1="1922" y1="1897.8" x2="1922" y2="1908.3" stroke="#444" stroke-width="2.5"/>
<line x1="1957" y1="1897.7" x2="1957" y2="1917.7" stroke="#2c2c2c" stroke-width="2.8"/>
<line x1="1992" y1="1897.7" x2="1992" y2="1908.2" stroke="#444" stroke-width="2.5"/>
<line x1="2027" y1="1897.7" x2="2027.1" y2="1908.2" stroke="#444" stroke-width="2.5"/>
<line x1="2062.1" y1="1897.7" x2="2062.1" y2="1908.2" stroke="#444" stroke-width="2.5"/>
<line x1="2097.1" y1="1897.6" x2="2097.1" y2="1908.1" stroke="#444" stroke-width="2.5"/>
<line x1="2132.1" y1="1897.6" x2="2132.1" y2="1917.6" stroke="#2c2c2c" stroke-width="2.8"/>
<line x1="2167.4" y1="1897.6" x2="2167.5" y2="1908.1" stroke="#444" stroke-width="2.5"/>
<line x1="2202.8" y1="1897.5" x2="2202.8" y2="1908" stroke="#444" stroke-width="2.5"/>
<line x1="2238.1" y1="1897.5" x2="2238.1" y2="1908" stroke="#444" stroke-width="2.5"/>
<line x1="2273.5" y1="1897.4" x2="2273.5" y2="1907.9" stroke="#444" stroke-width="2.5"/>
<line x1="123.3" y1="1889.2" x2="133.8" y2="1889" stroke="#3c3c3c" stroke-width="3"/>
<line x1="123.3" y1="1877.7" x2="133.8" y2="1877.5" stroke="#3c3c3c" stroke-width="3"/>
<line x1="123.3" y1="1866.3" x2="133.8" y2="1866.1" stroke="#3c3c3c" stroke-width="3"/>
<line x1="123.2" y1="1854.8" x2="133.7" y2="1854.6" stroke="#3c3c3c" stroke-width="3"/>
<line x1="113.7" y1="1843.3" x2="133.7" y2="1843.1" stroke="#3c3c3c" stroke-width="3"/>
<line x1="123.2" y1="1831.8" x2="133.7" y2="1831.6" stroke="#3c3c3c" stroke-width="3"/>
<line x1="123.2" y1="1820.4" x2="133.7" y2="1820.2" stroke="#3c3c3c" stroke-width="3"/>
<line x1="123.2" y1="1808.9" x2="133.7" y2="1808.7" stroke="#3c3c3c" stroke-width="3"/>
<line x1="123.2" y1="1797.4" x2="133.7" y2="1797.2" stroke="#3c3c3c" stroke-width="3"/>
<line x1="111.7" y1="1785.9" x2="133.7" y2="1785.7" stroke="#3c3c3c" stroke-width="3"/>
<line x1="123.1" y1="1774.5" x2="133.6" y2="1774.3" stroke="#3c3c3c" stroke-width="3"/>
<line x1="123.1" y1="1763" x2="133.6" y2="1762.8" stroke="#3c3c3c" stroke-width="3"/>
<line x1="123.1" y1="1751.5" x2="133.6" y2="1751.3" stroke="#3c3c3c" stroke-width="3"/>
<line x1="123.1" y1="1740" x2="133.6" y2="1739.8" stroke="#3c3c3c" stroke-width="3"/>
<line x1="113.6" y1="1728.6" x2="133.6" y2="1728.4" stroke="#3c3c3c" stroke-width="3"/>
<line x1="123.1" y1="1717.1" x2="133.6" y2="1716.9" stroke="#3c3c3c" stroke-width="3"/>
<line x1="123.1" y1="1705.6" x2="133.6" y2="1705.4" stroke="#3c3c3c" stroke-width="3"/>
<line x1="123.1" y1="1694.1" x2="133.6" y2="1693.9" stroke="#3c3c3c" stroke-width="3"/>
<line x1="123" y1="1682.7" x2="133.5" y2="1682.5" stroke="#3c3c3c" stroke-width="3"/>
<line x1="111.5" y1="1671.2" x2="133.5" y2="1671" stroke="#3c3c3c" stroke-width="3"/>
<line x1="123" y1="1659.7" x2="133.5" y2="1659.5" stroke="#3c3c3c" stroke-width="3"/>
<line x1="123" y1="1648.2" x2="133.5" y2="1648" stroke="#3c3c3c" stroke-width="3"/>
<line x1="123" y1="1636.8" x2="133.5" y2="1636.6" stroke="#3c3c3c" stroke-width="3"/>
<line x1="123" y1="1625.3" x2="133.5" y2="1625.1" stroke="#3c3c3c" stroke-width="3"/>
<line x1="113.5" y1="1613.8" x2="133.5" y2="1613.6" stroke="#3c3c3c" stroke-width="3"/>
<line x1="122.9" y1="1602.3" x2="133.4" y2="1602.1" stroke="#3c3c3c" stroke-width="3"/>
<line x1="122.9" y1="1590.8" x2="133.4" y2="1590.6" stroke="#3c3c3c" stroke-width="3"/>
<line x1="122.9" y1="1579.4" x2="133.4" y2="1579.2" stroke="#3c3c3c" stroke-width="3"/>
<line x1="122.9" y1="1567.9" x2="133.4" y2="1567.7" stroke="#3c3c3c" stroke-width="3"/>
<line x1="111.4" y1="1556.4" x2="133.4" y2="1556.2" stroke="#3c3c3c" stroke-width="3"/>
<line x1="122.9" y1="1544.9" x2="133.4" y2="1544.7" stroke="#3c3c3c" stroke-width="3"/>
<line x1="122.9" y1="1533.5" x2="133.4" y2="1533.3" stroke="#3c3c3c" stroke-width="3"/>
<line x1="122.8" y1="1522" x2="133.3" y2="1521.8" stroke="#3c3c3c" stroke-width="3"/>
<line x1="122.8" y1="1510.5" x2="133.3" y2="1510.3" stroke="#3c3c3c" stroke-width="3"/>
<line x1="113.3" y1="1499" x2="133.3" y2="1498.8" stroke="#3c3c3c" stroke-width="3"/>
<line x1="122.8" y1="1487.6" x2="133.3" y2="1487.4" stroke="#3c3c3c" stroke-width="3"/>
<line x1="122.8" y1="1476.1" x2="133.3" y2="1475.9" stroke="#3c3c3c" stroke-width="3"/>
<line x1="122.8" y1="1464.6" x2="133.3" y2="1464.4" stroke="#3c3c3c" stroke-width="3"/>
<line x1="122.8" y1="1453.1" x2="133.3" y2="1452.9" stroke="#3c3c3c" stroke-width="3"/>
<line x1="111.2" y1="1441.7" x2="133.2" y2="1441.5" stroke="#3c3c3c" stroke-width="3"/>
<line x1="122.7" y1="1430.2" x2="133.2" y2="1430" stroke="#3c3c3c" stroke-width="3"/>
<line x1="122.7" y1="1418.7" x2="133.2" y2="1418.5" stroke="#3c3c3c" stroke-width="3"/>
<line x1="122.7" y1="1407.2" x2="133.2" y2="1407" stroke="#3c3c3c" stroke-width="3"/>
<line x1="122.7" y1="1395.8" x2="133.2" y2="1395.6" stroke="#3c3c3c" stroke-width="3"/>
<line x1="113.2" y1="1384.3" x2="133.2" y2="1384.1" stroke="#3c3c3c" stroke-width="3"/>
<line x1="122.7" y1="1372.8" x2="133.2" y2="1372.6" stroke="#3c3c3c" stroke-width="3"/>
<line x1="122.7" y1="1361.3" x2="133.2" y2="1361.1" stroke="#3c3c3c" stroke-width="3"/>
<line x1="122.6" y1="1349.9" x2="133.1" y2="1349.7" stroke="#3c3c3c" stroke-width="3"/>
<line x1="122.6" y1="1338.4" x2="133.1" y2="1338.2" stroke="#3c3c3c" stroke-width="3"/>
<line x1="111.1" y1="1326.9" x2="133.1" y2="1326.7" stroke="#3c3c3c" stroke-width="3"/>
<line x1="122.6" y1="1315.4" x2="133.1" y2="1315.2" stroke="#3c3c3c" stroke-width="3"/>
<line x1="122.6" y1="1303.9" x2="133.1" y2="1303.7" stroke="#3c3c3c" stroke-width="3"/>
<line x1="122.6" y1="1292.5" x2="133.1" y2="1292.3" stroke="#3c3c3c" stroke-width="3"/>
<line x1="122.6" y1="1281" x2="133.1" y2="1280.8" stroke="#3c3c3c" stroke-width="3"/>
<line x1="113" y1="1269.5" x2="133" y2="1269.3" stroke="#3c3c3c" stroke-width="3"/>
<line x1="122.5" y1="1258" x2="133" y2="1257.8" stroke="#3c3c3c" stroke-width="3"/>
<line x1="122.5" y1="1246.6" x2="133" y2="1246.4" stroke="#3c3c3c" stroke-width="3"/>
<line x1="122.5" y1="1235.1" x2="133" y2="1234.9" stroke="#3c3c3c" stroke-width="3"/>
<line x1="122.5" y1="1223.6" x2="133" y2="1223.4" stroke="#3c3c3c" stroke-width="3"/>
<line x1="111" y1="1212.1" x2="133" y2="1211.9" stroke="#3c3c3c" stroke-width="3"/>
<line x1="122.5" y1="1200.7" x2="133" y2="1200.5" stroke="#3c3c3c" stroke-width="3"/>
<line x1="122.4" y1="1189.2" x2="132.9" y2="1189" stroke="#3c3c3c" stroke-width="3"/>
<line x1="122.4" y1="1177.7" x2="132.9" y2="1177.5" stroke="#3c3c3c" stroke-width="3"/>
<line x1="122.4" y1="1166.2" x2="132.9" y2="1166" stroke="#3c3c3c" stroke-width="3"/>
<line x1="112.9" y1="1154.8" x2="132.9" y2="1154.6" stroke="#3c3c3c" stroke-width="3"/>
<line x1="122.4" y1="1143.3" x2="132.9" y2="1143.1" stroke="#3c3c3c" stroke-width="3"/>
<line x1="122.4" y1="1131.8" x2="132.9" y2="1131.6" stroke="#3c3c3c" stroke-width="3"/>
<line x1="122.4" y1="1120.3" x2="132.9" y2="1120.1" stroke="#3c3c3c" stroke-width="3"/>
<line x1="122.3" y1="1108.9" x2="132.8" y2="1108.7" stroke="#3c3c3c" stroke-width="3"/>
<line x1="110.8" y1="1097.4" x2="132.8" y2="1097.2" stroke="#3c3c3c" stroke-width="3"/>
<line x1="122.3" y1="1085.9" x2="132.8" y2="1085.7" stroke="#3c3c3c" stroke-width="3"/>
<polyline points="132.2,1075.7 960,1075 2309.4,1072.5" fill="none" stroke="url(#gtopb)" stroke-width="3" stroke-linejoin="round"/>
<polyline points="2309.4,1072 2312.6,1898.4" fill="none" stroke="#555" stroke-width="3" stroke-linecap="round"/>
<line x1="2308.8" y1="1897.4" x2="2308.8" y2="1917.4" stroke="#444" stroke-width="3"/>
<polyline points="132.2,1074.2 133.8,1909.5" fill="none" stroke="url(#gleftb)" stroke-width="4"/>
<polygon points="133.8,1868.7 134.5,1868.5 135.2,1869.8 135.9,1870.7 136.6,1870.6 137.3,1871.4 138,1871.5 138.7,1870.7 139.4,1869.1 140.2,1869.3 140.9,1870.4 141.6,1872 142.3,1872.9 143,1873.4 143.7,1873.6 144.4,1873.4 145.1,1873.9 145.8,1873.6 146.5,1874.1 147.3,1874.7 148,1874.4 148.7,1875 149.4,1875.2 150.1,1874.7 150.8,1874.8 151.5,1875.2 152.2,1875.8 152.9,1875.8 153.7,1875.8 154.4,1875.5 155.1,1876.4 155.8,1876.5 156.5,1876.5 157.2,1876.6 157.9,1876.3 158.6,1875.9 159.3,1876.9 160,1876.6 160.8,1878 161.5,1878.1 162.2,1878 162.9,1878.5 163.6,1878.5 164.3,1878.8 165,1878.1 165.7,1877.7 166.4,1877.8 167.1,1879 167.9,1878.8 168.6,1879.3 169.3,1878.8 170,1878.1 170.7,1879 171.4,1879.1 172.1,1879.4 172.8,1879.7 173.5,1879.3 174.2,1879.8 175,1879.9 175.7,1879.6 176.4,1879.5 177.1,1879.6 177.8,1880.2 178.5,1880.1 179.2,1880 179.9,1879.9 180.6,1880.6 181.3,1880.5 182.1,1880.4 182.8,1881 183.5,1880.8 184.2,1881 184.9,1881.1 185.6,1880.8 186.3,1880.7 187,1879.9 187.7,1881.2 188.4,1881.7 189.2,1881.8 189.9,1881.7 190.6,1881.6 191.3,1881.4 192,1881.8 192.7,1882.1 193.4,1882.4 194.1,1882.2 194.8,1881.2 195.5,1880.9 196.3,1882.1 197,1882.7 197.7,1882.1 198.4,1882.2 199.1,1881.7 199.8,1882.1 200.5,1882.7 201.2,1882.7 201.9,1882.8 202.6,1883 203.4,1882.9 204.1,1882.4 204.8,1883 205.5,1883.4 206.2,1883.5 206.9,1882.8 207.6,1882.9 208.3,1883 209,1883.3 209.7,1883.1 210.4,1883.6 211.1,1883.6 211.8,1883.6 212.5,1883.3 213.2,1882.5 213.9,1882.4 214.6,1883 215.3,1883.3 216,1884.1 216.7,1884 217.4,1883.2 218.1,1882.6 218.8,1882.8 219.5,1883.7 220.2,1884.2 220.9,1883.6 221.6,1883.2 222.3,1882.9 223,1883.2 223.7,1883.6 224.4,1884.4 225.1,1884.2 225.8,1883.8 226.5,1884.5 227.2,1883.6 227.9,1882.7 228.6,1882.7 229.3,1883.6 230.1,1884.6 230.8,1884.8 231.5,1884.6 232.2,1884.3 232.9,1884.7 233.6,1884.7 234.3,1884.5 235,1884.7 235.7,1884.3 236.4,1885.5 237.1,1885 237.8,1884.7 238.5,1885.5 239.2,1885.4 239.9,1885.6 240.6,1885.4 241.3,1885.2 242,1884.8 242.7,1884.3 243.4,1885.2 244.1,1885.5 244.8,1885.7 245.5,1885.9 246.2,1885.7 246.9,1885.9 247.6,1885.6 248.3,1885.9 249,1885.5 249.7,1885.8 250.4,1885.7 251.1,1886 251.8,1885.6 252.5,1885.8 253.2,1885.8 253.9,1885.1 254.6,1885.1 255.3,1886.2 256,1886.3 256.7,1885.2 257.4,1885.3 258.1,1885.2 258.8,1886.4 259.5,1886.2 260.2,1886.1 260.9,1885.5 261.6,1886.1 262.3,1886.4 263,1886.1 263.8,1886.4 264.5,1886.2 265.2,1886.1 265.9,1886.5 266.6,1886.3 267.3,1886.1 268,1886.2 268.7,1886.2 269.4,1886.9 270.1,1886.1 270.8,1886.2 271.5,1885.9 272.2,1885.6 272.9,1884.8 273.6,1885.8 274.3,1886.5 275,1886.9 275.7,1886 276.4,1885 277.1,1886 277.8,1886.3 278.5,1887 279.2,1887.1 279.9,1887.5 280.6,1887.4 281.3,1887.6 282,1887 282.7,1886.2 283.4,1885.1 284.1,1885 284.8,1885.8 285.5,1887.5 286.2,1887.7 286.9,1887.5 287.6,1887.5 288.3,1887.3 289,1887 289.7,1887.8 290.4,1888 291.1,1887.6 291.8,1887 292.5,1887.6 293.2,1888.1 293.9,1887.2 294.6,1887.8 295.3,1888.3 296,1886.9 296.7,1887.6 297.4,1887.8 298.2,1887.5 298.9,1888.3 299.6,1888.5 300.3,1888.1 301,1888.3 301.7,1888.3 302.4,1888.7 303.1,1888.8 303.8,1888.5 304.5,1888.2 305.2,1888.5 305.9,1888.7 306.6,1889.2 307.3,1888.6 308,1888.1 308.7,1887.5 309.4,1888.4 310.1,1888.5 310.8,1889.3 311.5,1888.5 312.2,1889.1 312.9,1889.1 313.6,1889.4 314.3,1888.9 315,1887.6 315.7,1886.8 316.4,1887.4 317.1,1888.5 317.8,1889.3 318.5,1889.5 319.2,1888.7 319.9,1889.6 320.6,1889.4 321.3,1889.7 322,1888.6 322.7,1888.7 323.4,1889.5 324.1,1888.5 324.8,1887.6 325.5,1888.2 326.2,1889.3 326.9,1889.9 327.6,1889.8 328.3,1889.4 329,1889.1 329.7,1889.3 330.4,1889.9 331.1,1889.3 331.8,1889.6 332.6,1889.4 333.3,1889.3 334,1889.8 334.7,1889.6 335.4,1887.1 336.1,1886.1 336.8,1886.5 337.5,1888.3 338.2,1889.8 338.9,1889.5 339.6,1888.5 340.3,1889.8 341,1890.4 341.7,1889.2 342.4,1889.4 343.1,1889.9 343.8,1890.1 344.5,1890.5 345.2,1889.9 345.9,1890.3 346.6,1890.5 347.3,1890.1 348,1890.1 348.7,1890 349.4,1890.3 350.1,1889.5 350.8,1889.7 351.5,1890.8 352.2,1890.7 352.9,1890.9 353.6,1889.7 354.3,1888.8 355,1887.6 355.7,1887.7 356.4,1889.1 357.1,1890.8 357.8,1890.6 358.5,1891 359.2,1889.9 359.9,1890 360.6,1890.8 361.3,1890.7 362,1890.2 362.7,1890.6 363.4,1890.4 364.1,1889.2 364.8,1887.2 365.5,1884.7 366.2,1880.3 366.9,1870.7 367.6,1868.6 368,1868.4 368.3,1868.3 369,1872.7 369.7,1883.3 370.5,1887.1 371.2,1889.3 371.9,1890.1 372.6,1890.2 373.3,1890.3 374,1889.8 374.7,1889.9 375.4,1890.5 376.1,1890.4 376.8,1890.9 377.5,1890.1 378.2,1890.6 378.9,1889.4 379.6,1889.3 380.3,1889.2 381,1889.8 381.7,1890.3 382.4,1891.2 383.1,1890.7 383.8,1889.5 384.5,1890.1 385.2,1890.6 385.9,1890.5 386.6,1890.2 387.3,1890.8 388,1891.1 388.7,1890.4 389.4,1889.1 390.1,1889.6 390.8,1890.2 391.5,1890.7 392.2,1890.7 392.9,1891.1 393.6,1891.6 394.3,1891.7 395,1891.6 395.7,1891.6 396.4,1890.4 397.1,1891.7 397.8,1891.3 398.5,1890.4 399.2,1891.1 399.9,1892 400.6,1892.2 401.3,1891.8 402,1891.7 402.7,1891.5 403.4,1892.1 404.1,1892 404.8,1891.5 405.5,1891.8 406.2,1891.9 406.9,1892.5 407.6,1891.7 408.3,1891.8 409,1891.8 409.7,1891.8 410.4,1891.4 411.1,1891.4 411.8,1892.5 412.5,1891.8 413.2,1891.7 413.9,1892.1 414.6,1891.8 415.3,1892.5 416,1891.7 416.7,1891.9 417.4,1892.5 418.1,1891.7 418.8,1892 419.5,1892.4 420.2,1892.3 420.9,1892.1 421.6,1892.7 422.3,1892.7 423,1892 423.7,1892.2 424.4,1892 425.1,1891.4 425.8,1892.3 426.5,1892.4 427.2,1892 427.9,1892.1 428.6,1892.2 429.3,1892.4 430,1892.3 430.7,1892 431.4,1892 432.1,1892.1 432.9,1892.1 433.6,1892.3 434.3,1891.6 435,1891.1 435.7,1891.7 436.4,1891.9 437.1,1891.3 437.8,1891.8 438.5,1892.1 439.2,1891.5 439.9,1891.5 440.6,1890.9 441.3,1891.9 442,1892.3 442.7,1891.5 443.4,1891.5 444.1,1891.6 444.8,1892 445.5,1891.6 446.2,1891.8 446.9,1891.9 447.6,1891.8 448.3,1891.8 449,1891.7 449.7,1891.1 450.4,1890.2 451.1,1891.3 451.8,1890.8 452.5,1890.8 453.2,1890.2 453.9,1889.5 454.6,1887.8 455.3,1887.1 456,1886.8 456.7,1885.5 457.4,1883 458.1,1878.2 458.8,1870.6 459.4,1855.3 460.1,1814.7 460.7,1736.2 461.4,1708.8 461.7,1708.4 462.1,1708.6 462.8,1716.1 463.5,1766.3 464.3,1823.1 465,1857.4 465.8,1872.9 466.5,1879.8 467.2,1883.4 467.9,1886.6 468.6,1887.5 469.3,1889.3 470,1889.7 470.7,1890 471.4,1890.7 472.1,1891.3 472.8,1891.3 473.5,1892.1 474.2,1891.8 474.9,1891.4 475.6,1892.3 476.3,1892.8 477,1892.8 477.7,1892.9 478.4,1892.9 479.1,1893.1 479.8,1893.1 480.5,1893.2 481.2,1892.7 481.9,1892 482.6,1892.5 483.3,1892.9 484,1893.1 484.7,1892.7 485.4,1892.7 486.1,1892.8 486.8,1892.4 487.5,1893.4 488.2,1893.5 488.9,1893.4 489.6,1893 490.3,1893.2 491,1893.4 491.7,1891.7 492.4,1891.2 493.1,1891.4 493.8,1893.4 494.5,1893.2 495.2,1893.1 495.9,1893.5 496.6,1892.8 497.3,1892.1 498,1892.7 498.7,1892.8 499.4,1893.5 500.1,1893.6 500.8,1893.5 501.5,1893.8 502.2,1893.7 502.9,1893.4 503.6,1894 504.3,1893.7 505,1893.3 505.7,1893.8 506.4,1893.6 507.1,1893.4 507.8,1893.1 508.5,1892.3 509.2,1892.9 509.9,1893.3 510.6,1894 511.3,1893.2 512,1893.3 512.7,1893.7 513.4,1893.5 514.1,1893.7 514.8,1893.7 515.5,1892.8 516.2,1892.7 516.9,1892.8 517.6,1893.1 518.3,1892.6 519,1891.7 519.7,1891.6 520.5,1893.2 521.2,1893.2 521.9,1893.3 522.6,1892.8 523.3,1892.5 524,1892.7 524.7,1892.3 525.4,1893.2 526.1,1893.3 526.8,1893.1 527.5,1893.2 528.2,1893.5 528.9,1893.5 529.6,1893 530.3,1893.3 531,1893.5 531.7,1893.4 532.4,1893.4 533.1,1893.5 533.8,1893.4 534.5,1893 535.2,1893 535.9,1893 536.6,1892.7 537.3,1893.1 538,1893.5 538.7,1893.5 539.4,1892.9 540.1,1892.3 540.8,1892.3 541.5,1893.2 542.2,1893.2 542.9,1893.1 543.6,1893.4 544.3,1893.2 545,1893.5 545.7,1893.6 546.4,1893.1 547.1,1893.5 547.8,1893.2 548.5,1893.3 549.2,1893.7 549.9,1893.3 550.6,1893.3 551.3,1892.6 552,1892.3 552.7,1892.3 553.4,1892.6 554.1,1893.3 554.8,1893 555.5,1892.7 556.2,1893 556.9,1893.5 557.6,1893.7 558.3,1893.7 559,1893.7 559.7,1893.4 560.4,1893.2 561.1,1892.9 561.8,1893 562.5,1892.9 563.2,1892.9 563.9,1893.4 564.6,1893.4 565.3,1893.8 566,1893.1 566.7,1893.5 567.4,1892.7 568.1,1892.9 568.8,1893.1 569.5,1893.8 570.2,1893.7 570.9,1892.5 571.6,1892.6 572.3,1893.1 573,1893.4 573.7,1893.6 574.4,1893.5 575.1,1892.8 575.8,1893.1 576.5,1893.3 577.2,1892.4 577.9,1891.8 578.6,1892.5 579.3,1893.5 580,1892.7 580.7,1891.4 581.4,1890.7 582.1,1891.5 582.8,1892.7 583.5,1893.5 584.2,1893.3 584.9,1892.6 585.6,1892.9 586.3,1892.6 587,1891.5 587.7,1891.4 588.4,1892.1 589.1,1892.7 589.8,1893.3 590.5,1893.7 591.2,1893.5 591.9,1893 592.6,1893.2 593.3,1894 594,1894 594.7,1894.1 595.4,1894.1 596.1,1893.5 596.8,1893.9 597.5,1893.4 598.2,1894 598.9,1892.7 599.6,1893.3 600.3,1893.5 601,1893.1 601.7,1892.9 602.4,1893.2 603.1,1893.9 603.8,1893.8 604.5,1893 605.2,1893.5 605.9,1893.6 606.6,1893 607.3,1892.8 608,1893 608.7,1893.7 609.4,1893 610.1,1893.5 610.8,1892.7 611.5,1893 612.2,1892.3 612.9,1893 613.6,1892.9 614.3,1893.1 615,1893.1 615.7,1892.1 616.4,1893.5 617.1,1893.2 617.8,1893.2 618.5,1893.1 619.2,1893.3 619.9,1893.7 620.6,1892.7 621.3,1893.1 622,1893.5 622.7,1892.7 623.4,1892.4 624.1,1892.4 624.8,1893 625.5,1893 626.2,1893.6 626.9,1893.2 627.6,1893.1 628.3,1893.4 629,1893.7 629.7,1893.3 630.4,1892.8 631.1,1893.5 631.8,1893.7 632.5,1893.9 633.2,1893.9 633.9,1893.6 634.6,1893.9 635.3,1893.8 636,1893.4 636.7,1894 637.4,1893.5 638.1,1894.2 638.8,1894.3 639.5,1894 640.2,1893.7 640.9,1893.7 641.6,1894 642.3,1893.9 643,1894.2 643.7,1894.3 644.4,1893.2 645.1,1894 645.8,1894.1 646.5,1893.4 647.2,1893.9 647.9,1894 648.6,1893.2 649.3,1893.2 650,1893.5 650.7,1893.8 651.4,1893.9 652.1,1893.7 652.8,1893.2 653.5,1892.8 654.2,1893.4 654.9,1893.3 655.6,1893.7 656.3,1893.5 657,1893.5 657.7,1892.5 658.4,1892.1 659.1,1892.9 659.8,1893.3 660.5,1892.7 661.2,1893 661.9,1893.5 662.6,1893.1 663.3,1893 664,1892.7 664.7,1893.3 665.4,1893.1 666.1,1892.8 666.8,1892.7 667.5,1893.3 668.2,1893.4 668.9,1893.3 669.6,1893.5 670.3,1892.4 671,1893.2 671.7,1892.9 672.4,1893.5 673.1,1892.9 673.8,1893.5 674.5,1893.2 675.2,1893.7 675.9,1893.2 676.6,1892.8 677.3,1892.9 678,1893.1 678.7,1893.2 679.4,1893.8 680.1,1893.7 680.8,1893.2 681.5,1893.7 682.2,1893.7 682.9,1893.3 683.6,1893.8 684.3,1893.6 685,1893.1 685.7,1893.2 686.4,1893.7 687.1,1893.2 687.8,1893.2 688.5,1893 689.2,1892.7 689.9,1892.3 690.6,1892.7 691.3,1893.5 692,1893.3 692.7,1893.5 693.4,1893.3 694.1,1893.3 694.8,1893.2 695.5,1893.3 696.2,1893.2 696.9,1893.1 697.6,1893.1 698.3,1892.8 699,1892 699.7,1892.3 700.4,1892.7 701.1,1892.3 701.8,1892.6 702.5,1892.5 703.2,1891.7 703.9,1890.1 704.6,1886.9 705.3,1881.5 706,1881.8 706.7,1881.5 707.4,1886.7 708.1,1889.3 708.8,1890.2 709.5,1891.4 710.2,1892.5 710.9,1892.6 711.6,1892.3 712.3,1892 713,1892 713.7,1891.9 714.4,1892.4 715.1,1892.4 715.8,1892.1 716.5,1891.4 717.2,1891.5 717.9,1891.1 718.6,1891.1 719.3,1890.4 720,1890.7 720.7,1890.3 721.4,1889.9 722.1,1888.6 722.8,1887.2 723.5,1884.1 724.2,1879.4 724.9,1872.3 725.6,1866.7 726.3,1866.3 727,1866.7 727.7,1867.6 728.4,1869.7 729.1,1872.9 729.8,1876.1 730.5,1877.8 731.2,1876.6 731.9,1875.8 732.6,1875.9 733.3,1875.6 734,1875.2 734.7,1874.6 735.4,1874.8 736.1,1875.7 736.7,1875.3 737.4,1876.1 738.1,1877.5 738.8,1879.7 739.5,1878.9 740.2,1876.7 740.9,1874.2 741.6,1870.5 742.3,1869.7 742.7,1869.8 743,1870.3 743.7,1870.9 744.4,1875 745.1,1876.5 745.8,1877.9 746.5,1879.5 747.2,1879.5 747.9,1878.9 748.6,1878.3 749.3,1877.6 750,1876.8 750.7,1875.6 751.4,1875.5 752.1,1875.1 752.8,1875.5 753.5,1875.7 754.2,1876.2 754.9,1876.5 755.6,1877 756.3,1876.4 757,1873.7 757.7,1866.3 758.3,1846.7 759,1789.7 759.6,1718.9 760.3,1718.7 761,1718.8 761.8,1790.5 762.5,1847.6 763.3,1868.5 764,1877.7 764.7,1882.4 765.4,1884.7 766.1,1886.3 766.8,1886.1 767.5,1887.1 768.2,1887.7 768.9,1887.4 769.6,1886.4 770.2,1885.1 770.9,1884.2 771.6,1881.8 772.3,1878.3 773,1875.9 773.7,1875.2 774.1,1874.8 774.4,1874.8 775.1,1874.9 775.8,1875.4 776.5,1876.1 777.2,1877.3 777.9,1878.6 778.6,1879 779.3,1877.5 780,1876.6 780.7,1875.1 781.4,1874.2 782.1,1874.1 782.8,1873.7 783.5,1873.4 784.2,1873.8 784.9,1874.2 785.6,1875.2 786.3,1875.7 787,1877.9 787.7,1879.3 788.4,1880.8 789.1,1882.6 789.8,1883.8 790.5,1884.1 791.2,1885.2 791.9,1885.9 792.6,1885.7 793.3,1886 794,1886.1 794.7,1886.5 795.4,1886.2 796.1,1885.2 796.8,1884.4 797.5,1883.9 798.2,1885.1 798.8,1885.1 799.5,1885.7 800.2,1885.8 800.9,1886.6 801.6,1887.3 802.3,1887.2 803,1887.9 803.7,1887.4 804.4,1888.2 805.1,1888.7 805.8,1888.7 806.5,1888.2 807.2,1888.2 807.9,1888.7 808.6,1889.6 809.3,1889.7 810,1889.9 810.7,1889.4 811.4,1890 812.1,1889.7 812.8,1889.6 813.5,1889.9 814.2,1890.7 814.9,1890.6 815.6,1890.5 816.3,1890.8 817,1891.3 817.7,1890.9 818.4,1891.2 819.1,1891.4 819.8,1891 820.5,1890.8 821.2,1891 821.9,1891.4 822.6,1890.8 823.3,1890 824,1891 824.7,1891.6 825.4,1890.8 826.1,1891.5 826.8,1891.5 827.5,1890.7 828.2,1891 828.9,1891.6 829.5,1891.2 830.2,1891.6 830.9,1891.6 831.6,1891.6 832.3,1890.7 833,1891.2 833.7,1891.1 834.4,1891.6 835.1,1891 835.8,1890.9 836.5,1891.2 837.2,1891.5 837.9,1891.4 838.6,1891.5 839.3,1891.4 840,1891 840.7,1891.4 841.4,1891.6 842.1,1891.5 842.8,1891.2 843.5,1891.5 844.2,1891.4 844.9,1891.5 845.6,1891.2 846.3,1891.4 847,1891.5 847.7,1891.5 848.4,1891.6 849.1,1891.6 849.8,1890.9 850.5,1891.3 851.2,1891.1 851.9,1890.2 852.6,1891.7 853.3,1891.4 854,1890.8 854.7,1891.2 855.4,1891.3 856.1,1891.3 856.8,1891.4 857.5,1891.4 858.2,1891.2 858.8,1890.5 859.5,1891.4 860.2,1890.9 860.9,1890 861.6,1888.3 862.3,1882.4 863,1882.9 863.7,1882.8 864.4,1887.8 865.1,1890.4 865.8,1891 866.5,1890.5 867.2,1889.7 867.9,1889.8 868.6,1890.8 869.3,1891.5 870,1891.2 870.7,1891.3 871.4,1891.3 872.1,1891.6 872.8,1891.5 873.5,1891.1 874.2,1891.1 874.9,1890.8 875.6,1890.5 876.3,1890.9 877,1890.6 877.7,1890.9 878.4,1891 879.1,1891.4 879.8,1890.3 880.5,1890.1 881.2,1890.5 881.9,1890.9 882.6,1890.9 883.3,1891 884,1890.9 884.7,1890.8 885.4,1890.2 886.1,1890.4 886.8,1890.3 887.4,1890.2 888.1,1889.8 888.8,1889.4 889.5,1889 890.2,1888.5 890.9,1888.1 891.6,1887.3 892.3,1886.6 893,1885.8 893.7,1885 894.4,1883.1 895.1,1880.8 895.8,1876.9 896.5,1871.9 897.2,1863.7 897.9,1851.8 898.5,1835 899.2,1814.8 899.9,1803 900.6,1802.2 901.3,1801.9 902,1805.2 902.7,1817.2 903.4,1828.6 904.1,1842 904.8,1855.6 905.6,1865.5 906.3,1873.6 907,1878 907.7,1881.1 908.4,1883 909.1,1883.8 909.8,1885.5 910.5,1886.5 911.2,1887.4 911.9,1887 912.7,1887.6 913.4,1887.6 914.1,1889.2 914.8,1889.6 915.5,1889.4 916.2,1888.4 916.9,1888.7 917.2,1888.2 917.6,1887 918.3,1886 919,1888.2 919.7,1889.2 920.4,1888.3 921.1,1888.5 921.8,1889.8 922.5,1890.6 923.3,1890.6 924,1890.5 924.7,1890.7 925.4,1890.6 926.1,1890.9 926.8,1890.7 927.5,1890.7 928.2,1891.1 928.9,1890.9 929.6,1890.8 930.3,1890.5 931,1890.4 931.7,1890.6 932.4,1890.7 933.1,1890.2 933.9,1889.9 934.6,1889.6 935.3,1890.1 936,1889.7 936.7,1889.5 937.4,1889.3 938.1,1889 938.8,1886 939.5,1879.4 940.2,1879.4 940.9,1879.4 941.6,1885.6 942.3,1888 943,1888.2 943.7,1888.4 944.4,1888.8 945.2,1888.9 945.9,1887.9 946.6,1888.5 947.3,1888.1 948,1886.1 948.7,1885.9 949.4,1884.2 950.1,1883.1 950.8,1884.4 951.5,1884.4 952.2,1883 952.9,1881.9 953.6,1880 954.3,1877.9 955,1874.8 955.7,1870.6 956.4,1864.7 957.1,1856.3 957.8,1843.3 958.5,1823 959.2,1785.4 959.8,1706 960.3,1528 960.6,1229.5 961.2,1149.5 961.6,1149.7 961.9,1150.8 962.7,1209.2 963.7,1450.6 964.5,1529.4 965.2,1544 966.1,1671.4 966.9,1770.6 967.7,1819.3 968.4,1843.4 969.1,1855.7 969.8,1864.6 970.6,1870 971.3,1875.4 972,1878.1 972.7,1879.8 973.4,1881 974.1,1882.5 974.8,1884.6 975.5,1884.7 976.2,1885.1 976.9,1885.9 977.6,1887 978.4,1888.1 979.1,1888.5 979.8,1888.7 980.5,1888.7 981.2,1888.6 981.9,1888.5 982.6,1889.6 983.3,1889.4 984,1889.9 984.7,1889.5 985.4,1890.1 986.1,1889.9 986.8,1890.2 987.5,1890.9 988.2,1891.2 989,1891.1 989.7,1891.4 990.4,1891.7 991.1,1891.6 991.8,1891.7 992.5,1891.8 993.2,1892 993.9,1892 994.6,1892.2 995.3,1891.2 996,1892.3 996.7,1892.2 997.4,1892.2 998.1,1891.2 998.8,1891 999.5,1891.4 1000.3,1891.8 1001,1892.4 1001.7,1892.3 1002.4,1892.2 1003.1,1892.3 1003.8,1891.6 1004.5,1891.7 1005.2,1892.2 1005.9,1891.9 1006.6,1892.1 1007.3,1892.2 1008,1892.2 1008.7,1892.1 1009.4,1892.2 1010.1,1892.4 1010.9,1892.3 1011.6,1892.3 1012.3,1892.5 1013,1892.5 1013.7,1892.8 1014.4,1892.6 1015.1,1892.4 1015.8,1892.2 1016.5,1892.1 1017.2,1892.4 1017.9,1893 1018.6,1892.8 1019.3,1893 1020,1891.9 1020.7,1892 1021.4,1892.3 1022.2,1892.6 1022.9,1893 1023.6,1892.3 1024.3,1892.6 1025,1892.8 1025.7,1892.2 1026.4,1892.6 1027.1,1892.9 1027.8,1892.8 1028.5,1891 1029.2,1890 1029.9,1890.3 1030.6,1891.9 1031.3,1893 1032,1892.8 1032.8,1893 1033.5,1892.5 1034.2,1892.9 1034.9,1892.9 1035.6,1892.3 1036.3,1892.9 1037,1892.1 1037.7,1891.4 1038.4,1891.5 1039.1,1892.7 1039.8,1892.5 1040.5,1892.3 1041.2,1892.7 1041.9,1892.8 1042.6,1892.6 1043.3,1891.7 1044.1,1891.8 1044.8,1890.8 1045.5,1890.3 1046.2,1886.3 1046.9,1873.7 1047.6,1867.9 1047.9,1868.1 1048.3,1867.9 1049,1873.3 1049.7,1886 1050.4,1890.6 1051.1,1891.5 1051.8,1891.7 1052.5,1891.8 1053.2,1891.1 1053.9,1890.3 1054.6,1891.6 1055.4,1893.2 1056.1,1893.3 1056.8,1892.9 1057.5,1893.1 1058.2,1893.3 1058.9,1893 1059.6,1892.8 1060.3,1893.3 1061,1893.2 1061.7,1892.8 1062.4,1893.6 1063.1,1893.1 1063.8,1893.5 1064.5,1892.7 1065.2,1892 1066,1892.6 1066.7,1893.5 1067.4,1893.1 1068.1,1892.4 1068.8,1893.2 1069.5,1893.3 1070.2,1892.4 1070.9,1893 1071.6,1893.1 1072.3,1893.3 1073,1893.5 1073.7,1893.2 1074.4,1893.1 1075.1,1893.2 1075.8,1893.7 1076.5,1893.5 1077.3,1893.3 1078,1892.8 1078.7,1893 1079.4,1893.4 1080.1,1893.7 1080.8,1893.7 1081.5,1893 1082.2,1893.2 1082.9,1893.3 1083.6,1893 1084.3,1892.5 1085,1892.1 1085.7,1892.9 1086.4,1892.9 1087.1,1893.2 1087.8,1893.4 1088.5,1893.5 1089.2,1893.4 1089.9,1893.3 1090.5,1893.7 1091.2,1893.9 1091.9,1894.2 1092.6,1894.2 1093.3,1894 1094,1893.5 1094.7,1893.5 1095.4,1893.5 1096.1,1894.3 1096.8,1894 1097.5,1894 1098.2,1893.6 1098.9,1893.8 1099.6,1893.7 1100.3,1894.3 1101,1894.4 1101.7,1893.8 1102.4,1894.3 1103.1,1894.5 1103.8,1893.7 1104.5,1893.7 1105.2,1893.8 1105.9,1894.2 1106.6,1894.6 1107.3,1894.4 1108,1894.1 1108.7,1894.3 1109.4,1894.1 1110,1894.5 1110.7,1894.3 1111.4,1894.2 1112.1,1894.2 1112.8,1894.4 1113.5,1894.8 1114.2,1894.1 1114.9,1893.7 1115.6,1894.5 1116.3,1894.5 1117,1894.2 1117.7,1894.3 1118.4,1893.8 1119.1,1894.4 1119.8,1894.7 1120.5,1894.7 1121.2,1894.8 1121.9,1894.3 1122.6,1894.3 1123.3,1894.3 1124,1894.8 1124.7,1894.4 1125.4,1894.8 1126.1,1894.4 1126.8,1893.9 1127.5,1893.9 1128.2,1894.2 1128.8,1894.1 1129.5,1893.6 1130.2,1893.8 1130.9,1894.6 1131.6,1895 1132.3,1894.6 1133,1894.8 1133.7,1894.9 1134.4,1894.7 1135.1,1894.6 1135.8,1894.8 1136.5,1894.6 1137.2,1895 1137.9,1895.1 1138.6,1894.3 1139.3,1894.7 1140,1894.8 1140.7,1894.8 1141.4,1894.9 1142.1,1894.9 1142.8,1894.6 1143.5,1895 1144.2,1894.6 1144.9,1894.9 1145.6,1893.8 1146.3,1892.5 1147,1892.7 1147.7,1893.6 1148.3,1894.6 1149,1893.7 1149.7,1893.6 1150.4,1894.5 1151.1,1894.3 1151.8,1894.4 1152.5,1894.7 1153.2,1894.7 1153.9,1895 1154.6,1895 1155.3,1895 1156,1894.6 1156.7,1895 1157.4,1895.1 1158.1,1894.9 1158.8,1895 1159.5,1894.8 1160.2,1894.3 1160.9,1894.5 1161.6,1894.8 1162.3,1895.1 1163,1894.8 1163.7,1895.1 1164.4,1894.5 1165.1,1894.8 1165.8,1895.1 1166.5,1894.1 1167.2,1893.3 1167.8,1893.7 1168.5,1894.1 1169.2,1895 1169.9,1894.9 1170.6,1894.2 1171.3,1894.1 1172,1894 1172.7,1894.8 1173.4,1895.1 1174.1,1895 1174.8,1894.7 1175.5,1894.4 1176.2,1894.9 1176.9,1894.9 1177.6,1895.2 1178.3,1895.1 1179,1894.4 1179.7,1894.7 1180.4,1895.2 1181.1,1894.5 1181.8,1894.8 1182.5,1894.3 1183.2,1894.7 1183.9,1894.9 1184.6,1894.7 1185.3,1894.8 1186,1894.3 1186.7,1894.7 1187.3,1894.6 1188,1894.7 1188.7,1894.6 1189.4,1894.6 1190.1,1894.3 1190.8,1894.7 1191.5,1895.2 1192.2,1895 1192.9,1894.7 1193.6,1894.8 1194.3,1895.2 1195,1894.8 1195.7,1895.2 1196.4,1895.2 1197.1,1894.6 1197.8,1894.4 1198.5,1895.1 1199.2,1894.3 1199.9,1895.2 1200.6,1895.2 1201.3,1894.6 1202,1895.1 1202.7,1894.9 1203.4,1894.5 1204.1,1894.8 1204.8,1895.3 1205.5,1894.9 1206.2,1894.4 1206.8,1893.9 1207.5,1894.5 1208.2,1895.4 1208.9,1894.4 1209.6,1894.9 1210.3,1894.7 1211,1895.2 1211.7,1895 1212.4,1895.5 1213.1,1895 1213.8,1895.1 1214.5,1894.4 1215.2,1894.9 1215.9,1895.2 1216.6,1895.1 1217.3,1895.2 1218,1895 1218.7,1894.7 1219.4,1894.6 1220.1,1894.8 1220.8,1895.1 1221.5,1895 1222.2,1895 1222.9,1894.8 1223.6,1894.7 1224.3,1895 1225,1895 1225.7,1895 1226.3,1893.6 1227,1893.1 1227.7,1892.7 1228.4,1894.4 1229.1,1894.6 1229.8,1895.2 1230.5,1894.7 1231.2,1895.2 1231.9,1894.6 1232.6,1894.7 1233.3,1894.4 1234,1894.6 1234.7,1895 1235.4,1894.8 1236.1,1894.4 1236.8,1894.1 1237.5,1894.1 1238.2,1895.1 1238.9,1895 1239.6,1894.6 1240.3,1894.9 1241,1894.4 1241.7,1894.8 1242.4,1894.8 1243.1,1894.8 1243.8,1894.7 1244.5,1894.4 1245.1,1894.4 1245.8,1893.8 1246.5,1894.3 1247.2,1894 1247.9,1893.2 1248.6,1892.3 1249.3,1892.9 1250,1892.6 1250.7,1891.6 1251.4,1890.5 1252.1,1888.5 1252.8,1885.6 1253.5,1883.2 1254.2,1879.5 1254.9,1878.3 1255.6,1878.2 1256.3,1878.3 1257,1878.4 1257.7,1880.1 1258.4,1882.2 1259.1,1883.7 1259.8,1885.4 1260.5,1886.5 1261.2,1887.4 1261.9,1889.5 1262.6,1891.4 1263.3,1892.1 1264,1892.5 1264.7,1892.9 1265.4,1892.4 1266.1,1892.6 1266.8,1892 1267.5,1889.8 1268.2,1889.1 1268.9,1887.8 1269.6,1886.9 1270.3,1885.7 1270.9,1885.7 1271.3,1885.4 1271.6,1885.8 1272.3,1885.7 1273,1886.3 1273.7,1887.2 1274.4,1888.2 1275.1,1888.8 1275.8,1889.8 1276.5,1890.7 1277.2,1890.6 1277.9,1891.6 1278.6,1891.7 1279.3,1891.8 1280,1891.4 1280.7,1890.5 1281.4,1888.9 1282.1,1886.3 1282.8,1883.6 1283.5,1879.7 1284.2,1876.1 1284.9,1874.9 1285.3,1874.4 1285.6,1873.8 1286.3,1873.9 1287,1876.8 1287.7,1879.3 1288.4,1879.9 1289.1,1880.4 1289.8,1881.7 1290.5,1880.3 1291.2,1879.1 1291.9,1878.3 1292.2,1878.9 1292.6,1878.9 1293.3,1878.7 1294,1880.5 1294.7,1882.5 1295.4,1884.3 1296.1,1885.2 1296.8,1887 1297.5,1888 1298.2,1890 1298.9,1890.9 1299.6,1891.7 1300.3,1892.1 1301,1892.4 1301.7,1892.7 1302.4,1892.6 1303.1,1892.3 1303.8,1891.6 1304.5,1890.1 1305.2,1888.7 1305.9,1886.5 1306.6,1882.6 1307.3,1876.2 1307.9,1866.9 1308.6,1858.2 1309.3,1856.7 1309.7,1857 1310,1857.1 1310.7,1857.5 1311.4,1864.9 1312.1,1870.7 1312.8,1874 1313.5,1874.7 1314.2,1878.6 1314.9,1883.5 1315.6,1886.2 1316.3,1888.9 1317.1,1890.8 1317.7,1892 1318.4,1892.9 1319.1,1893.4 1319.8,1893.5 1320.5,1893.9 1321.2,1893.6 1321.9,1893.8 1322.6,1894.1 1323.3,1894.4 1324,1894.5 1324.7,1893.9 1325.4,1893.8 1326.1,1893.6 1326.8,1893.3 1327.5,1892.9 1328.2,1892.7 1328.9,1892.6 1329.6,1892.4 1330.3,1892.2 1331,1891.9 1331.7,1891.7 1332.4,1891.1 1333.1,1890.3 1333.8,1891.1 1334.5,1891.5 1335.2,1891.1 1335.9,1891.3 1336.6,1891.2 1337.3,1891.6 1338,1892.4 1338.7,1892.2 1339.4,1892.2 1340.1,1893.3 1340.8,1893.1 1341.5,1893.5 1342.2,1892.9 1342.9,1892.9 1343.6,1892.4 1344.3,1892.9 1345,1891.2 1345.7,1889.7 1346.4,1889.1 1347.1,1888.7 1347.8,1887.9 1348.5,1886.7 1349.2,1886.4 1349.9,1886.2 1350.6,1886.2 1351.3,1886.4 1352,1886.9 1352.7,1887.9 1353.4,1889.2 1354.1,1889 1354.8,1890.5 1355.5,1891.4 1356.2,1891.7 1356.9,1892.3 1357.6,1892.5 1358.3,1892.6 1359,1893.2 1359.7,1893.8 1360.4,1893.9 1361.1,1893.5 1361.8,1893.8 1362.4,1893.8 1363.1,1893.9 1363.8,1893.4 1364.5,1892.5 1365.2,1891.9 1365.9,1891.9 1366.6,1891.3 1367.3,1891.3 1368,1890.8 1368.7,1890.4 1369.4,1889.8 1370.1,1888.2 1370.8,1886.5 1371.5,1883.5 1372.2,1880.6 1372.9,1877 1373.6,1875.1 1374.3,1873.3 1375,1872.4 1375.7,1872.4 1376.4,1872.6 1377.1,1874.1 1377.8,1875 1378.5,1876.3 1379.2,1877.3 1379.9,1878.1 1380.6,1878.8 1381.3,1879.4 1382,1879.9 1382.7,1879.4 1383.4,1878.9 1384.1,1878.8 1384.8,1878.7 1385.5,1878.9 1386.2,1879.2 1386.9,1879.4 1387.6,1880 1388.3,1880.6 1389,1881.7 1389.7,1883 1390.4,1883.4 1391.1,1884.6 1391.8,1885.8 1392.5,1886.6 1393.2,1886.7 1393.9,1887.1 1394.6,1887.4 1395.3,1886.9 1396,1885.5 1396.7,1884.3 1397.4,1883.2 1398.1,1881.9 1398.8,1880.6 1399.4,1879.9 1400.1,1878.9 1400.8,1877.6 1401.5,1876.6 1402.2,1876.2 1402.9,1876 1403.6,1875.7 1404.3,1875.3 1405,1875.1 1405.7,1876.6 1406.4,1875.8 1407.1,1873.7 1407.8,1870.8 1408.5,1866 1409.2,1858.6 1409.9,1852.3 1410.6,1851.6 1410.9,1851.1 1411.3,1851.8 1412,1852.8 1412.7,1858.9 1413.4,1865.5 1414.1,1869.1 1414.8,1870.9 1415.5,1874.2 1416.2,1878.5 1416.9,1882.8 1417.6,1886 1418.3,1888.5 1419,1889.7 1419.7,1891.1 1420.4,1891.6 1421.1,1892.6 1421.8,1892.7 1422.5,1892.7 1423.2,1892.8 1423.9,1892.6 1424.6,1892.9 1425.3,1893.5 1426,1893.6 1426.7,1894.1 1427.4,1894 1428.1,1894.1 1428.8,1894.4 1429.5,1894.2 1430.2,1894.3 1430.9,1893.6 1431.6,1893.7 1432.3,1893.8 1433,1893.2 1433.7,1892.6 1434.4,1892.1 1435.1,1891.2 1435.8,1890.6 1436.5,1889.5 1437.2,1887 1437.9,1884.8 1438.6,1882.1 1439.3,1879.8 1440,1877.9 1440.7,1878.1 1441.4,1878.9 1442.1,1879.7 1442.8,1880.4 1443.5,1881.3 1444.2,1882.7 1444.9,1884.3 1445.6,1886.1 1446.3,1887.4 1447,1889 1447.7,1890.7 1448.4,1891.4 1449.1,1892.3 1449.8,1892.8 1450.5,1893.2 1451.2,1893.6 1451.9,1894 1452.6,1893.4 1453.3,1893.9 1454,1894 1454.7,1894.7 1455.4,1894.5 1456.1,1894.4 1456.8,1894.5 1457.5,1895.2 1458.2,1895 1458.9,1894.3 1459.6,1894.6 1460.3,1895 1461,1895.4 1461.7,1895.5 1462.4,1895.5 1463.1,1895.1 1463.8,1895.3 1464.5,1895.6 1465.2,1895.8 1465.9,1895.6 1466.6,1895.9 1467.3,1895.7 1468,1895.9 1468.7,1895.9 1469.4,1896.1 1470.1,1896.1 1470.8,1895.8 1471.5,1896 1472.2,1896 1472.9,1896.1 1473.6,1895.3 1474.3,1895.1 1475,1894.9 1475.7,1895.4 1476.4,1895.7 1477.2,1895.5 1477.9,1895.3 1478.6,1895.9 1479.3,1895.3 1480,1895.3 1480.7,1895.8 1481.4,1895.7 1482.1,1895.9 1482.8,1895.9 1483.5,1895.6 1484.2,1895.4 1484.9,1895.2 1485.6,1895.2 1486.3,1895.4 1487,1895.8 1487.7,1895.5 1488.4,1895.6 1489.1,1895.6 1489.8,1895.3 1490.5,1895.6 1491.2,1895.7 1491.9,1895.7 1492.6,1895.7 1493.3,1895.3 1494,1895.6 1494.7,1895.6 1495.4,1894.8 1496.1,1895.2 1496.8,1895.5 1497.5,1895.2 1498.2,1894.8 1498.9,1894.6 1499.6,1895 1500.3,1895.3 1501,1895.2 1501.7,1895.1 1502.4,1895.1 1503.1,1894.8 1503.8,1894.6 1504.5,1895 1505.2,1894.4 1505.9,1893.6 1506.6,1894.2 1507.3,1894.1 1508,1893.5 1508.7,1893.3 1509.4,1892.5 1510.1,1891.6 1510.8,1891 1511.5,1889.3 1512.2,1887 1512.9,1883.6 1513.6,1879.3 1514.3,1873.6 1515,1868.9 1515.7,1867.7 1516,1867.8 1516.4,1868.1 1517.1,1867.9 1517.8,1871.7 1518.5,1875.8 1519.2,1878.3 1519.9,1879.1 1520.6,1880.9 1521.3,1883.3 1522,1885.9 1522.7,1888.7 1523.4,1890 1524.1,1891 1524.8,1892.6 1525.5,1892.7 1526.2,1893.1 1526.9,1894.4 1527.6,1894.3 1528.3,1894.2 1529,1893.8 1529.7,1893.6 1530.4,1892.8 1531.1,1894.7 1531.8,1895.3 1532.5,1894.6 1533.2,1895.4 1533.9,1895.4 1534.6,1895.3 1535.3,1894.7 1536,1894.7 1536.7,1895.8 1537.4,1895.3 1538.1,1895.4 1538.8,1896 1539.5,1895.2 1540.2,1895.5 1540.9,1895.2 1541.6,1895.9 1542.3,1896.1 1543,1895.1 1543.7,1894.8 1544.4,1895.3 1545.1,1895.5 1545.8,1895 1546.5,1895.5 1547.2,1896 1547.9,1896.1 1548.6,1896 1549.3,1895.9 1550,1896 1550.7,1895.3 1551.4,1895.5 1552.1,1895.7 1552.8,1895.6 1553.5,1895.5 1554.2,1895.2 1554.9,1895.1 1555.6,1894.9 1556.3,1894.8 1557,1895.3 1557.7,1895.5 1558.4,1895.1 1559.1,1895.9 1559.8,1895.5 1560.5,1895.7 1561.2,1895.9 1561.9,1895.9 1562.6,1896 1563.3,1895.4 1564,1895.3 1564.8,1895.8 1565.5,1895.9 1566.2,1896 1566.9,1895.6 1567.6,1895.5 1568.3,1895.6 1569,1896 1569.7,1895.9 1570.4,1895.8 1571.1,1896.2 1571.8,1896.2 1572.5,1895.8 1573.2,1896 1573.9,1895.9 1574.6,1895.6 1575.3,1896.1 1576,1896.2 1576.7,1895.8 1577.4,1895.8 1578.1,1896.3 1578.8,1895.9 1579.5,1895.8 1580.2,1895.7 1580.9,1895.7 1581.6,1896 1582.3,1895.8 1583,1895 1583.7,1895.9 1584.4,1895.9 1585.1,1894.1 1585.8,1894.5 1586.5,1894.4 1587.2,1895.8 1587.9,1895.5 1588.6,1895.2 1589.3,1895.7 1590,1895.7 1590.7,1894.6 1591.4,1894.8 1592.1,1894.6 1592.8,1894.9 1593.5,1894.2 1594.2,1895.8 1594.9,1895.3 1595.6,1894.2 1596.3,1895 1597,1894.7 1597.7,1894.9 1598.4,1894.9 1599.1,1895.3 1599.8,1895.3 1600.5,1895.2 1601.2,1895.4 1601.9,1895.5 1602.6,1895.4 1603.3,1895 1604,1895.1 1604.7,1894.9 1605.4,1894.8 1606.1,1894.6 1606.8,1894.6 1607.5,1894.6 1608.2,1894.5 1608.9,1893.9 1609.6,1893.6 1610.3,1893.1 1611,1893 1611.8,1892.5 1612.5,1892.3 1613.2,1892.1 1613.9,1890.8 1614.6,1891.2 1615.3,1890.2 1616,1888.8 1616.7,1888.4 1617.4,1888.1 1618.1,1887.7 1618.8,1887.4 1619.5,1888.1 1620.2,1888.4 1620.9,1888.5 1621.6,1888.5 1622.3,1888.3 1623,1888.5 1623.8,1888.5 1624.5,1888.7 1625.2,1888.7 1625.9,1888.4 1626.6,1888.2 1627.3,1887.5 1628,1887 1628.7,1885.9 1629.4,1885.1 1630.1,1883.1 1630.8,1880.4 1631.5,1877.4 1632.2,1875.3 1632.9,1873.8 1633.6,1874.3 1634.3,1874.4 1635,1874.7 1635.7,1875.6 1636.5,1878 1637.2,1879.7 1637.9,1881.2 1638.6,1883 1639.3,1884.5 1640,1886 1640.7,1888.1 1641.4,1889.3 1642.1,1890.3 1642.8,1891.2 1643.5,1892.6 1644.2,1893 1645,1893 1645.7,1893.3 1646.4,1893.4 1647.1,1894.2 1647.8,1894.5 1648.5,1894.8 1649.2,1894.9 1649.9,1894.8 1650.6,1895 1651.3,1894.5 1652,1894.7 1652.7,1894.9 1653.4,1895.3 1654.1,1895.4 1654.8,1894.9 1655.6,1895.4 1656.3,1895.3 1657,1895.5 1657.7,1895 1658.4,1894.3 1659.1,1894.4 1659.8,1895.2 1660.5,1895.6 1661.2,1895.3 1661.9,1895 1662.6,1894.4 1663.3,1895.5 1664,1895.4 1664.7,1895.2 1665.4,1895.3 1666.1,1895.4 1666.9,1895.5 1667.6,1895 1668.3,1894.2 1669,1894.4 1669.7,1894.7 1670.4,1895.6 1671.1,1894.9 1671.8,1894.5 1672.5,1895.3 1673.2,1895.8 1673.9,1894.9 1674.6,1895.4 1675.3,1895.2 1676,1895.2 1676.7,1895 1677.4,1894.6 1678.2,1895.1 1678.9,1895.2 1679.6,1895.6 1680.3,1895.5 1681,1895.6 1681.7,1895 1682.4,1895.2 1683.1,1895.3 1683.8,1895.6 1684.5,1895.9 1685.2,1895.7 1685.9,1895.6 1686.6,1895.1 1687.3,1896 1688,1896 1688.8,1895.8 1689.5,1895.4 1690.2,1895.2 1690.9,1894.4 1691.6,1894.5 1692.3,1894.8 1693,1895.1 1693.7,1895.3 1694.4,1895.2 1695.1,1894.8 1695.8,1894.7 1696.5,1895.4 1697.2,1895.6 1697.9,1895.7 1698.6,1895.7 1699.3,1895.6 1700.1,1895.4 1700.8,1895.6 1701.5,1895.5 1702.2,1895.9 1702.9,1895.5 1703.6,1895 1704.3,1894 1705,1893.9 1705.7,1894.2 1706.4,1895.5 1707.1,1895.8 1707.8,1895.9 1708.5,1895.4 1709.2,1895.6 1709.9,1896 1710.7,1895.2 1711.4,1895.4 1712.1,1895.9 1712.8,1895.8 1713.5,1895.4 1714.2,1895.5 1714.9,1895.3 1715.6,1895.8 1716.3,1895.7 1717,1895.6 1717.7,1895.9 1718.4,1895.6 1719.1,1895.6 1719.8,1895.8 1720.5,1895.5 1721.2,1895 1722,1895.1 1722.7,1895 1723.4,1895.7 1724.1,1895.6 1724.8,1895 1725.5,1895.3 1726.2,1895.6 1726.9,1895.7 1727.6,1895.5 1728.3,1895.6 1729,1894.8 1729.7,1895.4 1730.4,1895.7 1731.1,1895.2 1731.8,1895.2 1732.5,1895.1 1733.3,1895 1734,1894.3 1734.7,1894.2 1735.4,1894.7 1736.1,1895.4 1736.8,1895.3 1737.5,1895.4 1738.2,1895.1 1738.9,1895.5 1739.6,1895.5 1740.3,1895.1 1741,1894.6 1741.7,1894.9 1742.4,1895.4 1743.1,1895.5 1743.9,1895.2 1744.6,1894.5 1745.3,1894.2 1746,1894.7 1746.7,1895 1747.4,1895 1748.1,1895.2 1748.8,1895.5 1749.5,1895.2 1750.2,1894.8 1750.9,1894.6 1751.6,1895.3 1752.3,1895.5 1753,1895.3 1753.7,1895.2 1754.4,1895.1 1755.2,1895.3 1755.9,1895.5 1756.6,1895.4 1757.3,1894.9 1758,1895.1 1758.7,1894.8 1759.4,1895.5 1760.1,1895.6 1760.8,1894.9 1761.5,1894.8 1762.2,1894 1762.9,1894.6 1763.6,1894.5 1764.3,1894.5 1765,1893.5 1765.7,1893.5 1766.5,1893.7 1767.2,1893.5 1767.9,1894.9 1768.6,1894.3 1769.3,1893.8 1770,1894 1770.7,1894.5 1771.4,1893.9 1772.1,1893.4 1772.8,1893.1 1773.5,1892.8 1774.2,1892.7 1774.9,1892.6 1775.6,1892.3 1776.3,1890.8 1777,1889.5 1777.8,1889.5 1778.5,1888.8 1779.2,1887.4 1779.9,1885.2 1780.6,1881.8 1781.3,1877.3 1782,1870.5 1782.7,1860.7 1783.3,1848.2 1784,1836 1784.7,1829.4 1785.4,1828.3 1786.1,1828.9 1786.8,1833.6 1787.5,1843.8 1788.2,1851.9 1789,1857.9 1789.7,1860.6 1790.4,1861.1 1791.1,1863.2 1791.8,1868.2 1792.5,1874.3 1793.2,1879.9 1793.9,1883.6 1794.6,1886.1 1795.3,1887.9 1796,1889.7 1796.7,1890.7 1797.4,1891.1 1798.1,1891.5 1798.8,1891.6 1799.5,1892.3 1800.2,1893.1 1800.9,1893.2 1801.6,1893.5 1802.3,1893.7 1803,1893.5 1803.7,1893.9 1804.4,1893.9 1805.1,1893.8 1805.8,1894.3 1806.5,1894.1 1807.2,1894.2 1807.9,1894.2 1808.6,1894.1 1809.3,1894.6 1810,1894.3 1810.7,1893.8 1811.4,1893.3 1812.1,1893.4 1812.8,1893.1 1813.5,1892.5 1814.2,1891.7 1814.9,1891.2 1815.6,1891.3 1816.3,1890.5 1817,1890.5 1817.7,1890.6 1818.4,1890.8 1819.1,1891.5 1819.8,1891.7 1820.5,1891.6 1821.2,1892.6 1821.9,1893 1822.6,1893 1823.3,1893.6 1824,1894.1 1824.7,1894.5 1825.4,1894.3 1826.1,1894.7 1826.8,1894.3 1827.5,1895 1828.2,1895.1 1828.9,1895.4 1829.6,1894.9 1830.3,1895.1 1831,1895.4 1831.7,1894.8 1832.4,1895.2 1833.1,1895.7 1833.8,1894.5 1834.5,1895.3 1835.2,1895.7 1835.9,1895.3 1836.6,1895.4 1837.3,1895.3 1838,1895.3 1838.7,1895.7 1839.4,1894.7 1840.1,1895.1 1840.8,1895 1841.5,1895.2 1842.2,1894.8 1842.9,1895.7 1843.6,1894.7 1844.3,1893.9 1845,1894.2 1845.7,1895.1 1846.4,1895.8 1847.1,1895.5 1847.8,1895.6 1848.5,1895.3 1849.2,1894.6 1849.9,1895.4 1850.6,1895.9 1851.3,1895.2 1852,1895.4 1852.7,1895.5 1853.4,1895.2 1854.1,1895.8 1854.8,1895.3 1855.5,1895.6 1856.2,1895.4 1856.9,1895.5 1857.6,1894.6 1858.3,1895.2 1859,1895.4 1859.7,1895.5 1860.4,1895.6 1861.1,1894.8 1861.8,1894.8 1862.5,1895.3 1863.2,1895.2 1863.9,1895.3 1864.6,1895.8 1865.3,1895 1866,1894.1 1866.7,1893.9 1867.4,1894.7 1868.1,1895.8 1868.8,1895.7 1869.5,1895.5 1870.2,1895.7 1870.9,1895.3 1871.6,1895.7 1872.3,1895.9 1873,1895.6 1873.7,1895.1 1874.4,1893.6 1875.1,1893.6 1875.8,1894.4 1876.5,1895.9 1877.2,1896 1877.9,1896 1878.6,1895.7 1879.3,1895.7 1880,1895.6 1880.7,1895.4 1881.4,1894.6 1882.1,1894.7 1882.8,1895.1 1883.5,1895.8 1884.2,1895.7 1884.9,1895.4 1885.6,1895.4 1886.3,1895.3 1887,1895.4 1887.7,1895.1 1888.4,1894.5 1889.1,1894.5 1889.8,1895.1 1890.5,1895.1 1891.2,1895.3 1891.9,1895.3 1892.6,1895.4 1893.3,1895.4 1894,1894.2 1894.7,1894.9 1895.4,1895.4 1896.1,1894.4 1896.8,1894.5 1897.5,1895.6 1898.2,1895.1 1898.9,1894.6 1899.6,1895.1 1900.3,1895.7 1901,1895.4 1901.7,1894.9 1902.4,1895.3 1903.1,1895 1903.8,1895.4 1904.5,1895.5 1905.2,1895.5 1905.9,1895.2 1906.6,1895.5 1907.3,1895.7 1908,1895.5 1908.7,1895.7 1909.4,1895.7 1910.1,1894.9 1910.8,1895.2 1911.5,1895.3 1912.2,1894.4 1912.9,1894.7 1913.6,1895.1 1914.3,1894.2 1915,1894.1 1915.7,1893.9 1916.4,1894.4 1917.1,1894.6 1917.8,1894.7 1918.5,1894.7 1919.2,1894.7 1919.9,1894.6 1920.6,1894.6 1921.3,1894.6 1922,1894.6 1922.7,1894.3 1923.4,1894.3 1924.1,1894.1 1924.8,1894 1925.5,1893.9 1926.2,1893.5 1926.9,1893.2 1927.6,1892.8 1928.3,1892.7 1929,1892.6 1929.7,1892.4 1930.4,1892.3 1931.1,1892.4 1931.8,1891.8 1932.5,1892 1933.2,1890.8 1933.9,1891 1934.6,1890.4 1935.3,1891.4 1936,1891.2 1936.7,1891.6 1937.4,1891.5 1938.1,1891.6 1938.8,1891.5 1939.5,1891.1 1940.2,1891 1940.9,1890.9 1941.6,1891.1 1942.3,1891.3 1943,1890.9 1943.7,1889.9 1944.4,1890.3 1945.1,1889.9 1945.8,1889.4 1946.5,1888.1 1947.2,1886.9 1947.9,1885 1948.6,1882.7 1949.3,1880.5 1950,1877.3 1950.7,1875.5 1951.4,1874.4 1951.7,1874.9 1952.1,1874.5 1952.8,1874.7 1953.5,1875.4 1954.2,1878.2 1954.9,1881 1955.6,1882 1956.3,1883.1 1957,1883.3 1957.7,1882.4 1958.4,1881.5 1959.1,1882.5 1959.8,1884.8 1960.5,1887.3 1961.2,1887.3 1961.9,1885.9 1962.6,1885.2 1963.3,1884.6 1964,1883.8 1964.7,1882.6 1965.4,1881.6 1966.1,1880.5 1966.8,1880.6 1967.5,1880.1 1968.2,1880.3 1968.9,1879.9 1969.6,1880.3 1970.3,1879.5 1971,1879.6 1971.7,1879.9 1972.4,1881 1973.1,1881.5 1973.8,1882.7 1974.5,1883.4 1975.2,1884.6 1975.9,1884.6 1976.6,1885.7 1977.3,1886.2 1978,1885.5 1978.7,1886.6 1979.4,1886.6 1980.1,1887 1980.8,1886.8 1981.5,1887 1982.2,1887 1982.9,1887.3 1983.6,1887.7 1984.3,1887.9 1985,1888.3 1985.7,1887.8 1986.4,1888.6 1987.1,1888.5 1987.8,1889.4 1988.5,1890.1 1989.2,1890.6 1989.9,1890.9 1990.6,1891.4 1991.3,1892 1992,1891.7 1992.7,1891.9 1993.4,1891.8 1994.1,1892.4 1994.8,1892.9 1995.5,1893.2 1996.2,1893.3 1996.9,1893.2 1997.6,1893.2 1998.3,1893.6 1999,1893.9 1999.7,1894.4 2000.4,1894.4 2001.1,1894.1 2001.8,1894.3 2002.5,1894.3 2003.2,1894.3 2003.9,1892.9 2004.6,1893.2 2005.3,1893.4 2006,1894 2006.7,1893.8 2007.4,1893.4 2008.1,1893.2 2008.8,1892.5 2009.5,1892.2 2010.2,1892 2010.9,1891.7 2011.6,1891.6 2012.3,1891.3 2013,1890.6 2013.7,1890 2014.4,1890.1 2015.1,1890.5 2015.8,1890.4 2016.5,1890.4 2017.2,1890.4 2017.9,1890 2018.6,1890 2019.3,1889.9 2020,1890.4 2020.7,1890.4 2021.4,1890.9 2022.1,1890.9 2022.8,1891.4 2023.5,1891.5 2024.2,1892 2024.9,1892.2 2025.6,1892.6 2026.3,1893 2027,1893.4 2027.7,1893.5 2028.4,1893.4 2029.1,1892.1 2029.8,1891 2030.5,1891.4 2031.2,1892.4 2031.9,1894.4 2032.6,1895 2033.3,1894.7 2034,1895.2 2034.7,1895.3 2035.4,1895.1 2036.1,1895.3 2036.8,1895.5 2037.5,1895.4 2038.2,1895.4 2038.9,1895.1 2039.6,1895.2 2040.3,1895.1 2041,1895.6 2041.7,1895.3 2042.4,1894.3 2043.1,1894.4 2043.8,1895 2044.5,1895.6 2045.2,1895.3 2045.9,1895.7 2046.6,1895.6 2047.3,1895.5 2048,1895.1 2048.7,1895.5 2049.4,1895 2050.1,1893.8 2050.8,1894.1 2051.5,1894.2 2052.3,1894.9 2053,1895.2 2053.7,1895.5 2054.4,1894.6 2055.1,1894.8 2055.8,1894.4 2056.5,1895.2 2057.2,1895.3 2057.9,1895.2 2058.6,1895.3 2059.3,1895.3 2060,1895.3 2060.7,1895.5 2061.4,1895 2062.1,1895.2 2062.8,1895.1 2063.5,1895.1 2064.2,1895.4 2064.9,1894.9 2065.6,1895.3 2066.3,1895.1 2067,1895.6 2067.7,1895.4 2068.4,1895.6 2069.1,1895.6 2069.8,1895.7 2070.5,1895.4 2071.2,1895.2 2071.9,1895.1 2072.6,1895 2073.3,1894.5 2074,1894.7 2074.7,1894.7 2075.4,1895.3 2076.1,1895.3 2076.8,1895.4 2077.5,1895.7 2078.2,1895.5 2078.9,1895.5 2079.6,1894.8 2080.3,1894.7 2081,1895.2 2081.7,1895.6 2082.4,1895 2083.1,1895.5 2083.8,1895.3 2084.5,1895.1 2085.2,1894.8 2085.9,1894.7 2086.6,1894.4 2087.3,1894.7 2088,1895.2 2088.7,1895.1 2089.4,1895.4 2090.1,1895.1 2090.8,1895.3 2091.5,1895.1 2092.2,1894.1 2092.9,1894.5 2093.6,1894.4 2094.3,1895 2095,1894.3 2095.7,1894.5 2096.4,1895 2097.1,1895.4 2097.8,1895.3 2098.5,1895.4 2099.2,1895.2 2099.9,1894.5 2100.6,1894.9 2101.3,1895.3 2102,1895.1 2102.7,1893.2 2103.4,1891.8 2104.1,1892.5 2104.8,1893.2 2105.5,1895 2106.2,1894.7 2106.9,1895 2107.6,1894.5 2108.3,1894.8 2109,1894.6 2109.7,1894.4 2110.4,1894.8 2111.1,1894.4 2111.8,1894.6 2112.5,1894.2 2113.2,1894.3 2113.9,1894.3 2114.6,1894 2115.3,1893.8 2116,1893.1 2116.7,1893.3 2117.4,1893.3 2118.1,1891.8 2118.8,1892 2119.5,1891.4 2120.2,1891 2120.9,1890 2121.6,1889.4 2122.3,1887.3 2123,1885.3 2123.7,1882.4 2124.4,1878.1 2125.1,1873 2125.8,1866.7 2126.5,1860 2127.1,1853.5 2127.8,1850.3 2128.5,1849.8 2129.2,1850.4 2129.9,1852.3 2130.7,1858.3 2131.4,1864.6 2132.1,1869.2 2132.8,1872.3 2133.5,1872.7 2134.2,1873 2134.9,1873.3 2135.6,1874.5 2136.3,1877.5 2137,1881.8 2137.7,1885.1 2138.4,1887.5 2139.2,1888.5 2139.9,1889.5 2140.6,1890.4 2141.3,1891.4 2142,1892.5 2142.7,1892.9 2143.4,1893.2 2144.1,1893.1 2144.8,1893.7 2145.5,1893.5 2146.2,1894 2146.9,1893.9 2147.6,1893.7 2148.4,1894.2 2149.1,1894.2 2149.8,1894.4 2150.5,1894.6 2151.2,1893.7 2151.9,1894 2152.6,1893.6 2153.3,1894 2154,1894.4 2154.7,1894.4 2155.4,1894.8 2156.1,1894.4 2156.8,1894.3 2157.5,1894.3 2158.2,1894.9 2159,1895 2159.7,1894.8 2160.4,1894.8 2161.1,1894.6 2161.8,1895.2 2162.5,1895.3 2163.2,1895.2 2163.9,1894.8 2164.6,1894.6 2165.3,1894.9 2166,1895.1 2166.7,1894.8 2167.4,1894.8 2168.1,1895.1 2168.8,1893.1 2169.6,1892.4 2170.3,1892.6 2171,1893.5 2171.7,1894.9 2172.4,1894.7 2173.1,1894.3 2173.8,1894.6 2174.5,1895.2 2175.2,1894.8 2175.9,1895 2176.6,1894.8 2177.3,1894.3 2178,1894.5 2178.7,1895 2179.5,1894.5 2180.2,1895.1 2180.9,1894.8 2181.6,1894.1 2182.3,1895 2183,1895 2183.7,1894.8 2184.4,1895.1 2185.1,1895 2185.8,1894.9 2186.5,1894.5 2187.2,1894.5 2187.9,1894.5 2188.6,1895 2189.3,1895 2190.1,1894.9 2190.8,1895 2191.5,1894.5 2192.2,1894.8 2192.9,1894.8 2193.6,1894.7 2194.3,1894 2195,1894.2 2195.7,1894.4 2196.4,1893.9 2197.1,1893.4 2197.8,1893.2 2198.5,1893.3 2199.2,1893.3 2199.9,1892.3 2200.7,1892 2201.4,1891.5 2202.1,1891.2 2202.8,1890.8 2203.5,1889.6 2204.2,1889 2204.9,1888 2205.6,1887.6 2206.3,1886.4 2207,1885.9 2207.7,1885 2208.4,1884.1 2209.1,1883.2 2209.8,1881.6 2210.5,1881.1 2211.2,1880.4 2211.9,1880.6 2212.7,1879.8 2213.4,1879.7 2214.1,1879.6 2214.8,1879.8 2215.5,1879.6 2216.2,1880.1 2216.9,1879.3 2217.6,1878.6 2218.3,1879.6 2219,1880.9 2219.7,1882.6 2220.4,1882.8 2221.1,1883.3 2221.8,1884.5 2222.6,1885.4 2223.3,1886.2 2224,1887.1 2224.7,1888 2225.4,1888.2 2226.1,1889 2226.8,1890.4 2227.5,1890.7 2228.2,1891.4 2228.9,1891.3 2229.6,1891.6 2230.3,1892.2 2231,1892.3 2231.8,1892.8 2232.5,1893.2 2233.2,1893.7 2233.9,1894.1 2234.6,1893.5 2235.3,1893.1 2236,1893.7 2236.7,1894.4 2237.4,1894 2238.1,1894.5 2238.8,1894.8 2239.5,1893.8 2240.2,1893.2 2240.9,1892.7 2241.6,1894.1 2242.4,1894 2243.1,1894.8 2243.8,1894.4 2244.5,1894.8 2245.2,1894.1 2245.9,1893.7 2246.6,1893.8 2247.3,1895.1 2248,1894 2248.7,1894.2 2249.4,1895.3 2250.1,1894.4 2250.8,1894.5 2251.5,1895.2 2252.3,1895.1 2253,1894.9 2253.7,1894.7 2254.4,1895.3 2255.1,1895.1 2255.8,1895 2256.5,1894.9 2257.2,1894.5 2257.9,1894.7 2258.6,1894.4 2259.3,1893.4 2260,1893.1 2260.7,1893.6 2261.4,1894 2262.1,1893.4 2262.9,1893.1 2263.6,1893.1 2264.3,1892.8 2265,1891.9 2265.7,1891.1 2266.4,1890.3 2267.1,1891.1 2267.8,1890.2 2268.5,1889.7 2269.2,1888.8 2269.9,1887.1 2270.6,1886.3 2271.3,1886.8 2272,1886.9 2272.7,1887 2273.4,1886.9 2274.2,1887.3 2274.9,1887.6 2275.6,1887.6 2276.3,1887.8 2277,1888 2277.7,1888 2278.4,1888.4 2279.1,1888.8 2279.8,1888.4 2280.5,1888.2 2281.2,1889.1 2281.9,1890.1 2282.6,1890.3 2283.3,1891.1 2284.1,1891.3 2284.8,1891.6 2285.5,1892 2286.2,1892.9 2286.9,1893.1 2287.6,1893.3 2288.3,1893.5 2289,1894.1 2289.7,1894.4 2290.4,1894.5 2291.1,1894.7 2291.8,1894.6 2292.5,1894.3 2293.2,1894.8 2294,1894.9 2294.7,1895.1 2295.4,1895.2 2296.1,1895.2 2296.8,1895.4 2297.5,1895.2 2298.2,1894.4 2298.9,1894.7 2299.6,1895.6 2300.3,1895.1 2301,1895.7 2301.7,1895.1 2302.4,1895.4 2303.1,1895.2 2303.8,1895.2 2304.6,1894.9 2305.3,1894.7 2306,1895.5 2306.7,1895.5 2307.4,1894.7 2308.1,1894.3 2308.8,1894.8 2308.8,1897.7 2308.1,1897.9 2307.4,1897.7 2306.7,1897.9 2306,1897.8 2305.3,1898.1 2304.6,1898.1 2303.9,1898.7 2303.1,1898.2 2302.4,1897.9 2301.7,1898.1 2301,1898 2300.3,1898 2299.6,1898.1 2298.9,1898.4 2298.2,1898.1 2297.5,1897.7 2296.8,1898.2 2296.1,1897.9 2295.4,1898.1 2294.7,1897.6 2294,1897.6 2293.3,1898 2292.5,1897.9 2291.8,1897.4 2291.1,1897.2 2290.4,1897.8 2289.7,1897.5 2289,1897 2288.3,1896.8 2287.6,1896.8 2286.9,1896.4 2286.2,1896 2285.5,1896 2284.8,1895.4 2284.1,1894.8 2283.4,1894.3 2282.6,1894.2 2281.9,1893.8 2281.2,1893.5 2280.5,1892.9 2279.8,1892.5 2279.1,1891.7 2278.4,1891.6 2277.7,1891 2277,1890.6 2276.3,1890.7 2275.6,1890.9 2274.9,1890.9 2274.2,1890.1 2273.5,1890.2 2272.7,1890.8 2272,1891.7 2271.3,1891.6 2270.6,1891.7 2269.9,1892.5 2269.2,1893.7 2268.5,1894.3 2267.8,1894.8 2267.1,1894.8 2266.4,1894.8 2265.7,1895.1 2265,1895.6 2264.3,1895.9 2263.6,1896.3 2262.9,1896.3 2262.2,1896.6 2261.4,1897.4 2260.7,1897.4 2260,1897.3 2259.3,1897.1 2258.6,1897.2 2257.9,1897.5 2257.2,1897.7 2256.5,1897.9 2255.8,1898 2255.1,1897.6 2254.4,1897.4 2253.7,1897.7 2253,1897.6 2252.3,1897.6 2251.5,1897.8 2250.8,1897.9 2250.1,1898.2 2249.4,1898 2248.7,1898.4 2248,1898.2 2247.3,1897.7 2246.6,1897.9 2245.9,1898 2245.2,1897.9 2244.5,1897.7 2243.8,1897.7 2243.1,1898 2242.4,1897.3 2241.7,1897.4 2240.9,1897.5 2240.2,1897.7 2239.5,1897.6 2238.8,1897.7 2238.1,1897 2237.4,1897 2236.7,1897.5 2236,1896.8 2235.3,1896.8 2234.6,1897.4 2233.9,1896.7 2233.2,1897.1 2232.5,1896.4 2231.8,1896.4 2231.1,1895.9 2230.3,1896.1 2229.6,1895.9 2228.9,1895.9 2228.2,1895.5 2227.5,1895 2226.8,1894.1 2226.1,1893.2 2225.4,1892.5 2224.7,1892.1 2224,1891.3 2223.3,1891.1 2222.6,1889.5 2221.9,1888.7 2221.1,1888 2220.4,1887.5 2219.7,1886.9 2219,1885.8 2218.3,1885 2217.6,1885.2 2216.9,1884.1 2216.2,1883.2 2215.5,1883.6 2214.8,1882.7 2214.1,1882.3 2213.4,1882.9 2212.7,1885 2212,1884.7 2211.2,1884.7 2210.5,1886.6 2209.8,1887.3 2209.1,1887.8 2208.4,1888.3 2207.7,1889.1 2207,1890.2 2206.3,1891 2205.6,1891.6 2204.9,1892.3 2204.2,1893.1 2203.5,1893.9 2202.8,1894.4 2202.1,1894.9 2201.4,1895.7 2200.7,1896.3 2200,1896.5 2199.2,1896.6 2198.5,1896.5 2197.8,1896.8 2197.1,1897.3 2196.4,1897.2 2195.7,1896.9 2195,1897 2194.3,1897.4 2193.6,1897.4 2192.9,1897.8 2192.2,1898.2 2191.5,1897.8 2190.8,1897.4 2190.1,1897.8 2189.4,1897.8 2188.6,1898 2187.9,1897.8 2187.2,1897.4 2186.5,1897.5 2185.8,1897.8 2185.1,1897.6 2184.4,1897.4 2183.7,1897.3 2183,1897.2 2182.3,1897.4 2181.6,1897.3 2180.9,1897.7 2180.2,1897.6 2179.5,1897.8 2178.7,1897.3 2178,1897.4 2177.3,1898 2176.6,1898.1 2175.9,1898.3 2175.2,1897.5 2174.5,1898 2173.8,1898 2173.1,1897.9 2172.4,1897.6 2171.7,1898 2171,1898.4 2170.3,1898.1 2169.6,1897.6 2168.9,1898.1 2168.1,1897.6 2167.4,1897.9 2166.7,1897.7 2166,1898.3 2165.3,1897.8 2164.6,1897.9 2163.9,1897.8 2163.2,1897.7 2162.5,1897.6 2161.8,1897.6 2161.1,1898 2160.4,1898.1 2159.7,1897.5 2159,1897.8 2158.3,1897.8 2157.5,1897.7 2156.8,1897.4 2156.1,1897.5 2155.4,1897.5 2154.7,1897.3 2154,1897.3 2153.3,1897.3 2152.6,1897 2151.9,1896.9 2151.2,1897.1 2150.5,1897.2 2149.8,1896.9 2149.1,1896.8 2148.4,1897 2147.6,1897 2146.9,1896.7 2146.2,1896.5 2145.5,1896.3 2144.8,1896.2 2144.1,1896.2 2143.4,1896.1 2142.7,1896 2142,1895.5 2141.3,1895.1 2140.6,1894.7 2139.9,1894.7 2139.2,1894.4 2138.5,1893.2 2137.7,1891.9 2137,1889.9 2136.3,1887.6 2135.6,1884.5 2134.9,1881.2 2134.2,1878.3 2133.5,1875.9 2132.8,1875.6 2132.1,1876 2131.4,1875.3 2130.7,1872.2 2130,1867.5 2129.3,1861 2128.5,1856.4 2127.9,1863.5 2127.2,1870.9 2126.5,1877.6 2125.8,1882.4 2125.1,1886.3 2124.4,1888.7 2123.7,1890.4 2123,1891.8 2122.3,1892.7 2121.6,1893.8 2120.9,1894.9 2120.2,1895.5 2119.5,1895.6 2118.8,1895.4 2118.1,1895.8 2117.4,1896.1 2116.7,1896.5 2116,1896.4 2115.3,1896.6 2114.6,1897.1 2113.9,1896.8 2113.2,1897.5 2112.5,1898.1 2111.8,1897.6 2111.1,1897 2110.4,1897.1 2109.7,1897.7 2109,1897.5 2108.3,1897.4 2107.6,1897.9 2106.9,1897.7 2106.2,1897.8 2105.5,1898.1 2104.8,1898.2 2104.1,1897.7 2103.4,1898.1 2102.7,1898 2102,1897.7 2101.3,1897.6 2100.6,1897.5 2099.9,1898 2099.2,1897.8 2098.5,1898 2097.8,1898.4 2097.1,1899 2096.4,1898.8 2095.7,1897.6 2095,1897.6 2094.3,1898 2093.6,1897.9 2092.9,1897.6 2092.2,1897.6 2091.5,1897.7 2090.8,1897.8 2090.1,1897.6 2089.4,1898.4 2088.7,1897.9 2088,1897.7 2087.3,1898.8 2086.6,1898.7 2085.9,1898.4 2085.2,1898 2084.5,1898.1 2083.8,1899 2083.1,1898.9 2082.4,1898.6 2081.7,1897.9 2081,1897.9 2080.3,1898.2 2079.6,1898.1 2078.9,1898.7 2078.2,1899.2 2077.5,1899 2076.8,1898.2 2076.1,1898 2075.4,1897.9 2074.7,1898 2074,1898.2 2073.3,1898 2072.6,1898.3 2071.9,1898.3 2071.2,1898.3 2070.5,1898.2 2069.8,1898.4 2069.1,1898.5 2068.4,1898.8 2067.7,1898.5 2067,1897.9 2066.3,1898.5 2065.6,1899.3 2064.9,1898.9 2064.2,1898.2 2063.5,1898.2 2062.8,1898.4 2062.1,1898 2061.4,1898 2060.7,1898.5 2060,1898 2059.3,1898.1 2058.6,1898 2057.9,1898.2 2057.2,1897.8 2056.5,1898.2 2055.8,1897.6 2055.1,1897.6 2054.4,1898.5 2053.7,1898.4 2053,1898.3 2052.3,1898.3 2051.6,1899 2050.9,1899.3 2050.2,1899.1 2049.5,1899 2048.8,1898.9 2048.1,1899.2 2047.4,1899.2 2046.7,1898.7 2046,1897.9 2045.3,1898.6 2044.6,1898.6 2043.8,1897.9 2043.1,1898.1 2042.4,1898 2041.7,1898.3 2041,1897.9 2040.3,1898.1 2039.6,1898.1 2038.9,1898.1 2038.2,1898.4 2037.5,1898.9 2036.8,1898.4 2036.1,1898.1 2035.4,1898.3 2034.7,1898.4 2034,1897.8 2033.3,1897.8 2032.6,1897.9 2031.9,1897.6 2031.2,1898.4 2030.5,1898.3 2029.8,1897.9 2029.1,1897.1 2028.4,1897 2027.7,1896.6 2027,1896.5 2026.3,1896.5 2025.6,1896.3 2024.9,1895.3 2024.2,1894.9 2023.5,1894.7 2022.8,1894.2 2022.1,1894.6 2021.4,1894.6 2020.7,1894.1 2020,1893.5 2019.3,1893.7 2018.6,1893.3 2017.9,1892.9 2017.2,1893.2 2016.5,1893.4 2015.8,1893.3 2015.1,1893.5 2014.4,1893.9 2013.7,1894.4 2013,1895.3 2012.3,1894.9 2011.6,1894.9 2010.9,1895.3 2010.2,1895.5 2009.5,1895.6 2008.8,1896 2008.1,1896.4 2007.4,1896.9 2006.7,1896.9 2006,1896.6 2005.3,1896.7 2004.6,1897 2003.9,1896.7 2003.2,1897.1 2002.5,1897 2001.8,1896.8 2001.1,1897.3 2000.4,1897.2 1999.7,1898.1 1999,1897.7 1998.3,1897.1 1997.6,1896.6 1996.9,1896.7 1996.2,1896.9 1995.5,1897.4 1994.8,1896.8 1994.1,1896.7 1993.4,1896.3 1992.7,1895.5 1992,1895.3 1991.3,1895 1990.6,1894.5 1989.9,1894.1 1989.2,1894.3 1988.5,1893.4 1987.8,1892.9 1987.1,1892.4 1986.4,1892.1 1985.7,1891.6 1985,1891.8 1984.3,1890.7 1983.6,1890.5 1982.9,1890.5 1982.2,1890 1981.5,1889.8 1980.8,1889.7 1980.1,1889.8 1979.4,1889.9 1978.7,1889.4 1978,1889.4 1977.3,1889.3 1976.6,1889.3 1975.9,1889.2 1975.2,1888.9 1974.5,1887.6 1973.8,1887.6 1973.1,1887 1972.4,1886.2 1971.7,1885.7 1971,1885 1970.3,1884.1 1969.6,1883.5 1968.9,1883.3 1968.2,1883.1 1967.5,1883.9 1966.8,1884.4 1966.1,1885.1 1965.4,1886.2 1964.7,1887.3 1964,1888.4 1963.3,1889 1962.6,1889.6 1961.9,1890.8 1961.2,1890.8 1960.5,1890.1 1959.8,1890.4 1959.1,1890.1 1958.4,1889.4 1957.7,1888 1957,1887.5 1956.3,1887 1955.6,1886.4 1954.9,1885.5 1954.2,1884.8 1953.5,1883.4 1952.8,1881.8 1952.1,1879.9 1951.7,1878.4 1951.4,1881 1950.7,1882.8 1950,1885.5 1949.3,1887.9 1948.6,1890 1947.9,1891.3 1947.2,1892.5 1946.5,1892.2 1945.8,1893.1 1945.1,1894 1944.4,1893.5 1943.7,1893.5 1943,1893.8 1942.3,1894.5 1941.6,1894.7 1940.9,1894.5 1940.2,1893.9 1939.5,1894 1938.8,1893.9 1938.1,1894.8 1937.4,1894.5 1936.7,1893.8 1936,1894.3 1935.3,1894.3 1934.6,1894.6 1933.9,1894.4 1933.2,1895 1932.5,1895.8 1931.8,1895.7 1931.1,1895.7 1930.4,1895.8 1929.7,1896 1929,1895.8 1928.3,1895.6 1927.6,1896.1 1926.9,1896.9 1926.2,1896.4 1925.5,1896.7 1924.8,1897.2 1924.1,1897.2 1923.4,1897.4 1922.7,1897.2 1922,1897.1 1921.3,1896.9 1920.6,1897.3 1919.9,1897.4 1919.2,1897.2 1918.5,1897.4 1917.8,1897.8 1917.1,1898.5 1916.4,1897.9 1915.7,1897.3 1915,1898 1914.3,1897.5 1913.6,1897.6 1912.9,1898.1 1912.2,1898.5 1911.5,1898.4 1910.8,1898.5 1910.1,1897.8 1909.4,1898.2 1908.7,1898.3 1908,1897.8 1907.3,1897.9 1906.6,1897.8 1905.9,1897.9 1905.2,1897.8 1904.5,1898.1 1903.8,1898.1 1903.1,1898.4 1902.4,1898.2 1901.7,1898 1901,1898.1 1900.3,1898.1 1899.6,1897.9 1898.9,1897.8 1898.2,1898.4 1897.5,1898.1 1896.8,1898.2 1896.1,1897.9 1895.4,1898 1894.7,1897.8 1894,1897.9 1893.3,1898 1892.6,1898 1891.9,1897.9 1891.2,1897.8 1890.5,1897.8 1889.8,1898 1889.1,1898.5 1888.4,1898 1887.7,1898.1 1887,1898.1 1886.3,1898.2 1885.6,1898.5 1884.9,1898.3 1884.2,1898.5 1883.5,1898.2 1882.8,1898.4 1882.1,1898.2 1881.4,1898.6 1880.7,1898.8 1880,1898.4 1879.3,1898.2 1878.6,1898.6 1877.9,1898.4 1877.2,1898.8 1876.5,1898.8 1875.8,1899.2 1875.1,1898.9 1874.4,1898.8 1873.7,1898.9 1873,1899 1872.3,1898.5 1871.6,1898.3 1870.9,1898.2 1870.2,1898.4 1869.5,1898.2 1868.8,1897.9 1868.1,1897.9 1867.4,1898.2 1866.7,1898.1 1866,1898.5 1865.3,1897.9 1864.6,1898.3 1863.9,1898.2 1863.2,1898 1862.5,1898.2 1861.8,1898 1861.1,1898.2 1860.4,1898.7 1859.7,1898.9 1859,1898.4 1858.3,1898.6 1857.6,1898.3 1856.9,1898.6 1856.2,1898.4 1855.5,1898.9 1854.8,1898.3 1854.1,1898.4 1853.4,1898.9 1852.7,1898.4 1852,1898.2 1851.3,1898.5 1850.6,1899 1849.9,1898.8 1849.2,1898.6 1848.5,1898.5 1847.8,1898.2 1847.1,1898.4 1846.4,1898.5 1845.7,1898.4 1845,1898.4 1844.3,1898.1 1843.6,1898.3 1842.9,1898.3 1842.2,1898.9 1841.5,1898.1 1840.8,1898 1840.1,1898.6 1839.4,1898.5 1838.7,1898.5 1838,1898.6 1837.3,1898.3 1836.6,1898.3 1835.9,1898 1835.2,1898.4 1834.5,1898.6 1833.8,1898.1 1833.1,1898 1832.4,1898 1831.7,1898.4 1831,1898.6 1830.3,1897.9 1829.6,1898 1828.9,1897.9 1828.2,1898.5 1827.5,1897.7 1826.8,1897.6 1826.1,1897.6 1825.4,1897.8 1824.7,1897.5 1824,1897.4 1823.3,1896.9 1822.6,1896.6 1821.9,1896.4 1821.2,1895.5 1820.5,1895.7 1819.8,1895.9 1819.1,1895.5 1818.4,1894.7 1817.7,1893.8 1817,1893.5 1816.3,1894.2 1815.6,1895 1814.9,1895.5 1814.2,1896.8 1813.5,1896.8 1812.8,1896.9 1812.1,1896.6 1811.4,1897.3 1810.7,1897.2 1810,1897.7 1809.3,1896.8 1808.6,1897.3 1807.9,1897.1 1807.2,1896.9 1806.5,1897 1805.8,1897.4 1805.1,1896.5 1804.4,1897 1803.7,1897.1 1803,1896.7 1802.3,1896.4 1801.6,1896.1 1800.9,1896.3 1800.2,1895.9 1799.5,1895.9 1798.8,1895.9 1798.1,1895.6 1797.4,1894.6 1796.7,1894.1 1796,1893.9 1795.3,1893.3 1794.6,1891.9 1793.9,1891 1793.2,1888.9 1792.5,1885.9 1791.8,1882.5 1791.1,1877.2 1790.4,1871.4 1789.7,1866.2 1789,1863.8 1788.3,1863 1787.6,1860.9 1786.8,1855.7 1786.1,1846.6 1785.4,1838.7 1784.7,1851.2 1784.1,1863.9 1783.4,1873.4 1782.7,1879.7 1782,1884.1 1781.3,1887.7 1780.6,1889.9 1779.9,1891.1 1779.2,1892.4 1778.5,1893.4 1777.8,1894.1 1777.1,1894.9 1776.3,1895.3 1775.6,1895.6 1774.9,1896 1774.2,1896.2 1773.5,1896.9 1772.8,1897.1 1772.1,1897.1 1771.4,1897.4 1770.7,1897 1770,1897.8 1769.3,1898.1 1768.6,1898.3 1767.9,1898.6 1767.2,1898.2 1766.5,1897.4 1765.8,1898.6 1765,1898.9 1764.3,1898.1 1763.6,1897.8 1762.9,1897.8 1762.2,1897.9 1761.5,1898.4 1760.8,1898.7 1760.1,1898.7 1759.4,1898.1 1758.7,1898.6 1758,1898.5 1757.3,1898 1756.6,1897.9 1755.9,1898 1755.2,1898.1 1754.5,1898 1753.7,1897.7 1753,1898.2 1752.3,1897.8 1751.6,1898.5 1750.9,1897.8 1750.2,1898.3 1749.5,1898.2 1748.8,1897.9 1748.1,1898.1 1747.4,1897.7 1746.7,1898.6 1746,1898.3 1745.3,1898.1 1744.6,1898.6 1743.9,1898.2 1743.1,1898.1 1742.4,1897.8 1741.7,1898 1741,1897.8 1740.3,1898.2 1739.6,1897.8 1738.9,1898.4 1738.2,1898.2 1737.5,1898.9 1736.8,1898 1736.1,1898.2 1735.4,1898.9 1734.7,1898.7 1734,1898.7 1733.3,1898.9 1732.6,1898.9 1731.8,1898.2 1731.1,1898.2 1730.4,1898.1 1729.7,1898.2 1729,1898.9 1728.3,1898.3 1727.6,1898 1726.9,1898.1 1726.2,1898.1 1725.5,1898 1724.8,1897.9 1724.1,1898 1723.4,1898.1 1722.7,1897.9 1722,1897.9 1721.2,1898.1 1720.5,1898.1 1719.8,1898.5 1719.1,1898.8 1718.4,1898.9 1717.7,1898.5 1717,1898.1 1716.3,1899.1 1715.6,1899.2 1714.9,1899.1 1714.2,1898.1 1713.5,1898.3 1712.8,1898.6 1712.1,1898.4 1711.4,1898.3 1710.7,1898.4 1709.9,1898.2 1709.2,1898.3 1708.5,1898.7 1707.8,1898.8 1707.1,1898.6 1706.4,1898.2 1705.7,1898.6 1705,1898.5 1704.3,1898.5 1703.6,1898.3 1702.9,1898.8 1702.2,1899.1 1701.5,1899.5 1700.8,1898.7 1700.1,1898.4 1699.4,1898.5 1698.6,1898.3 1697.9,1898.7 1697.2,1899.2 1696.5,1899.4 1695.8,1899.2 1695.1,1898.5 1694.4,1898.3 1693.7,1898.7 1693,1898.1 1692.3,1898.1 1691.6,1899 1690.9,1899 1690.2,1899.2 1689.5,1899.2 1688.8,1898.6 1688,1898.4 1687.3,1898.5 1686.6,1898.4 1685.9,1898.3 1685.2,1898.2 1684.5,1898.1 1683.8,1899.2 1683.1,1899.5 1682.4,1899.2 1681.7,1898.4 1681,1898 1680.3,1898.2 1679.6,1898.7 1678.9,1898.4 1678.2,1897.9 1677.5,1898.4 1676.7,1898.9 1676,1899.4 1675.3,1898.3 1674.6,1898.3 1673.9,1898.4 1673.2,1898.3 1672.5,1898.2 1671.8,1898.2 1671.1,1898.5 1670.4,1898.2 1669.7,1898.5 1669,1898.4 1668.3,1898.5 1667.6,1897.9 1666.9,1897.9 1666.2,1897.7 1665.4,1898.8 1664.7,1898.1 1664,1898.3 1663.3,1898.3 1662.6,1898.1 1661.9,1898.8 1661.2,1898.8 1660.5,1898.5 1659.8,1898.1 1659.1,1898 1658.4,1898 1657.7,1898.3 1657,1899 1656.3,1898.4 1655.6,1897.7 1654.8,1898.5 1654.1,1898.2 1653.4,1898.6 1652.7,1898.5 1652,1898.6 1651.3,1898.3 1650.6,1898.3 1649.9,1898.4 1649.2,1897.6 1648.5,1897.5 1647.8,1897.4 1647.1,1897.5 1646.4,1897.7 1645.7,1896.8 1645,1896.3 1644.3,1896.6 1643.5,1896.1 1642.8,1895.4 1642.1,1894.8 1641.4,1894.5 1640.7,1893 1640,1891.9 1639.3,1890.6 1638.6,1888.5 1637.9,1886.9 1637.2,1885.3 1636.5,1884.3 1635.8,1882.7 1635,1880.8 1634.3,1879 1633.6,1878.6 1632.9,1880.9 1632.2,1883.6 1631.5,1885.8 1630.8,1888.4 1630.1,1889.3 1629.4,1890.1 1628.7,1890.4 1628,1890.9 1627.3,1891 1626.6,1891 1625.9,1891.2 1625.2,1891.3 1624.5,1891.6 1623.8,1891.9 1623.1,1892 1622.3,1892 1621.6,1891.7 1620.9,1891.3 1620.2,1891 1619.5,1891.6 1618.8,1892.5 1618.1,1892.7 1617.4,1893.4 1616.7,1893.2 1616,1893.5 1615.3,1893.9 1614.6,1894.6 1613.9,1895.6 1613.2,1895.8 1612.5,1895.9 1611.8,1895.8 1611,1896.8 1610.3,1897 1609.6,1897.7 1608.9,1897.2 1608.2,1897.5 1607.5,1897.3 1606.8,1898 1606.1,1897.8 1605.4,1897.7 1604.7,1897.8 1604,1897.8 1603.3,1897.9 1602.6,1898.2 1601.9,1897.9 1601.2,1898.2 1600.5,1898.8 1599.8,1899.2 1599.1,1899.1 1598.4,1899 1597.7,1898.4 1597,1898 1596.3,1898.2 1595.6,1898.3 1594.9,1898.5 1594.2,1898.1 1593.5,1898.2 1592.8,1898.2 1592.1,1898.2 1591.4,1898.1 1590.7,1898 1590,1898.1 1589.3,1898.3 1588.6,1898.4 1587.9,1898.2 1587.2,1898.4 1586.5,1898.1 1585.8,1898.7 1585.1,1898.2 1584.4,1898.1 1583.7,1898.5 1583,1898.2 1582.3,1898.3 1581.6,1898.4 1580.9,1898.3 1580.2,1898.3 1579.5,1898.5 1578.8,1898.5 1578.1,1898.6 1577.4,1898.8 1576.7,1898.8 1576,1899.2 1575.3,1898.4 1574.6,1898.5 1573.9,1898.9 1573.2,1899.5 1572.5,1899.5 1571.8,1899.5 1571.1,1898.9 1570.4,1898.9 1569.7,1898.7 1569,1898.7 1568.3,1898.3 1567.6,1898.8 1566.9,1898.9 1566.2,1898.3 1565.5,1899.3 1564.8,1898.3 1564.1,1898.5 1563.4,1899.7 1562.7,1899.4 1562,1899.2 1561.2,1898.3 1560.5,1898.3 1559.8,1898.2 1559.1,1898.1 1558.4,1898.6 1557.7,1899.6 1557,1899.4 1556.3,1898.7 1555.6,1898.2 1554.9,1898.4 1554.2,1898.1 1553.5,1898.2 1552.8,1898.2 1552.1,1898.4 1551.4,1898.1 1550.7,1898.5 1550,1898.5 1549.3,1898.6 1548.6,1899.6 1547.9,1899.6 1547.2,1898.8 1546.5,1898.5 1545.8,1898.3 1545.1,1898.8 1544.4,1898.8 1543.7,1898.4 1543,1898.6 1542.3,1898.3 1541.6,1898.2 1540.9,1898.7 1540.2,1898.6 1539.5,1898.6 1538.8,1898.2 1538.1,1898.2 1537.4,1898.3 1536.7,1898.3 1536,1898.1 1535.3,1898.3 1534.6,1898 1533.9,1898.4 1533.2,1898.4 1532.5,1897.9 1531.8,1898.6 1531.1,1898.7 1530.4,1897.5 1529.7,1898.1 1529,1898.1 1528.3,1897.4 1527.6,1897.3 1526.9,1897 1526.2,1897.5 1525.5,1896.5 1524.8,1896.7 1524.1,1896.3 1523.4,1895.4 1522.7,1895.1 1522,1893.6 1521.3,1891.4 1520.6,1888.8 1519.9,1886.2 1519.2,1883.6 1518.5,1882.6 1517.8,1881.2 1517.1,1878.9 1516.4,1874.6 1516,1871.7 1515.7,1876.5 1515,1882.5 1514.3,1886.4 1513.6,1889.9 1512.9,1892.7 1512.2,1893.7 1511.5,1895 1510.8,1895.5 1510.1,1895.9 1509.4,1896.5 1508.7,1896.8 1508,1896.8 1507.3,1897.3 1506.6,1897.7 1505.9,1897.5 1505.2,1897.9 1504.5,1897.4 1503.8,1898.2 1503.1,1898.6 1502.4,1898.1 1501.7,1897.7 1501,1897.7 1500.3,1898 1499.6,1897.8 1498.9,1898.3 1498.2,1898.1 1497.5,1897.9 1496.8,1897.8 1496.1,1898.1 1495.4,1898.1 1494.7,1898.1 1494,1898.1 1493.3,1898.1 1492.6,1898.5 1491.9,1898 1491.2,1898.3 1490.5,1898.6 1489.8,1898.1 1489.1,1898.7 1488.4,1898.7 1487.7,1898.3 1487,1898.7 1486.3,1898.2 1485.6,1898.2 1484.9,1898.4 1484.2,1898.2 1483.5,1898.5 1482.8,1898.3 1482.1,1898.2 1481.4,1898.5 1480.7,1898.4 1480,1898.3 1479.3,1898.4 1478.6,1898.5 1477.9,1898.6 1477.2,1898.6 1476.5,1899.2 1475.8,1899.5 1475.1,1899.5 1474.4,1898.6 1473.6,1898.4 1472.9,1898.8 1472.2,1898.7 1471.5,1899.8 1470.8,1899.5 1470.1,1899.2 1469.4,1898.4 1468.7,1898.6 1468,1898.8 1467.3,1898.8 1466.6,1898.7 1465.9,1898.4 1465.2,1898.4 1464.5,1898.5 1463.8,1898.3 1463.1,1898.1 1462.4,1898.1 1461.7,1898.3 1461,1898.6 1460.3,1898.3 1459.6,1898.7 1458.9,1898 1458.2,1897.8 1457.5,1897.6 1456.8,1897.5 1456.1,1898.7 1455.4,1898.7 1454.7,1897.8 1454,1897.2 1453.3,1897.3 1452.6,1896.8 1451.9,1896.8 1451.2,1896.9 1450.5,1897.1 1449.8,1896.6 1449.1,1895.7 1448.4,1895.3 1447.7,1894.7 1447,1894.6 1446.3,1893.8 1445.6,1893.3 1444.9,1891.5 1444.2,1889.9 1443.5,1887.5 1442.8,1886.5 1442.1,1885.8 1441.4,1884.4 1440.7,1883.9 1440,1885.7 1439.3,1887.6 1438.6,1890.8 1437.9,1892.7 1437.2,1893.6 1436.5,1894.4 1435.8,1895.1 1435.1,1895.4 1434.4,1895.7 1433.7,1896.5 1433,1896.3 1432.3,1897 1431.6,1897.9 1430.9,1897.2 1430.2,1897 1429.5,1896.7 1428.8,1896.8 1428.1,1897 1427.4,1897.3 1426.7,1896.7 1426,1896.8 1425.3,1896.8 1424.6,1896.9 1423.9,1897.1 1423.2,1896.3 1422.5,1896.2 1421.8,1895.8 1421.1,1895.9 1420.4,1895.4 1419.7,1894.9 1419,1894.6 1418.3,1893.7 1417.6,1893 1416.9,1891.4 1416.2,1888.5 1415.5,1885.1 1414.8,1881.1 1414.1,1876.6 1413.4,1873.7 1412.7,1872 1412,1867.7 1411.3,1861.3 1410.9,1855.7 1410.6,1862.3 1409.9,1869.5 1409.2,1874.6 1408.5,1877.3 1407.8,1878.7 1407.1,1879.6 1406.4,1879.4 1405.7,1879.4 1405,1879 1404.3,1879.1 1403.6,1879.5 1402.9,1880 1402.2,1880 1401.5,1881.1 1400.8,1882.2 1400.2,1883.7 1399.5,1885.5 1398.8,1887 1398.1,1888.1 1397.4,1888.7 1396.7,1890.3 1396,1890.3 1395.3,1891.3 1394.6,1892 1393.9,1891.5 1393.2,1890.7 1392.5,1890.9 1391.8,1890.3 1391.1,1889.4 1390.4,1888.5 1389.7,1887.5 1389,1886.8 1388.3,1885.4 1387.6,1884.4 1386.9,1883.4 1386.2,1882.5 1385.5,1882.1 1384.8,1881.6 1384.1,1881.8 1383.4,1882.2 1382.7,1882.5 1382,1882.6 1381.3,1882.3 1380.6,1882.4 1379.9,1882.1 1379.2,1881.6 1378.5,1880.7 1377.8,1880 1377.1,1879.1 1376.4,1878.5 1375.7,1877.4 1375,1878.5 1374.3,1881.2 1373.6,1883.9 1372.9,1886.9 1372.2,1889 1371.5,1890.8 1370.8,1892 1370.1,1893 1369.4,1894 1368.7,1894.8 1368,1895.1 1367.3,1895.6 1366.6,1896.3 1365.9,1896.2 1365.2,1896 1364.5,1896.2 1363.9,1896.8 1363.2,1896.5 1362.5,1896.8 1361.8,1896.7 1361.1,1896.7 1360.4,1896.3 1359.7,1896.6 1359,1896.6 1358.3,1896.5 1357.6,1896.2 1356.9,1896.2 1356.2,1896.1 1355.5,1895.2 1354.8,1894.4 1354.1,1894.6 1353.4,1893.6 1352.7,1892.2 1352,1892.1 1351.3,1890.6 1350.6,1890 1349.9,1890.3 1349.2,1890.9 1348.5,1892.1 1347.8,1893.8 1347.1,1895.1 1346.4,1896 1345.7,1896.6 1345,1896.7 1344.3,1895.7 1343.6,1895.9 1342.9,1896.4 1342.2,1895.9 1341.5,1896 1340.8,1895.8 1340.1,1896.4 1339.4,1896.6 1338.7,1896 1338,1896.1 1337.3,1895.6 1336.6,1895.6 1335.9,1895.2 1335.2,1895 1334.5,1894.4 1333.8,1894.3 1333.1,1894.6 1332.4,1894.2 1331.7,1895.1 1331,1895.8 1330.3,1896.3 1329.6,1896 1328.9,1896.1 1328.2,1895.9 1327.5,1896.5 1326.8,1896.8 1326.1,1897 1325.4,1896.8 1324.7,1897.4 1324,1897 1323.3,1896.8 1322.6,1897.4 1321.9,1896.8 1321.2,1896.6 1320.5,1896.5 1319.9,1896.6 1319.2,1896.5 1318.5,1896.3 1317.8,1896.5 1317.1,1895.8 1316.4,1894.7 1315.7,1893.9 1315,1892.6 1314.3,1889.6 1313.6,1886.3 1312.8,1881.3 1312.1,1877.7 1311.4,1876.9 1310.7,1873.8 1310,1868 1309.7,1861.6 1309.3,1870.9 1308.7,1879.2 1308,1885.4 1307.3,1889.5 1306.6,1891.6 1305.9,1893 1305.2,1893.9 1304.5,1894.6 1303.8,1895.1 1303.1,1895.2 1302.4,1895.4 1301.7,1895.2 1301,1895.4 1300.3,1895.2 1299.6,1895.6 1298.9,1895.3 1298.2,1894.6 1297.5,1894.1 1296.8,1893.9 1296.1,1891.5 1295.4,1889.6 1294.7,1888.1 1294,1886.8 1293.3,1885.2 1292.6,1883.2 1292.2,1882 1291.9,1882.7 1291.2,1884.3 1290.5,1884.7 1289.8,1884.4 1289.1,1884.8 1288.4,1884 1287.7,1884 1287,1882.7 1286.3,1882.2 1285.6,1880.5 1285.3,1879.5 1284.9,1883.1 1284.2,1887 1283.5,1889.4 1282.8,1891.7 1282.1,1893 1281.4,1893.9 1280.7,1894.4 1280,1895.3 1279.3,1895.5 1278.6,1895.3 1277.9,1894.8 1277.2,1895 1276.5,1894.6 1275.8,1894.6 1275.1,1893.7 1274.4,1892.1 1273.7,1891.4 1273.1,1890.7 1272.4,1890.3 1271.7,1890.1 1271.3,1889.8 1271,1890.7 1270.3,1891.5 1269.6,1893.6 1268.9,1894.5 1268.2,1894.4 1267.5,1895 1266.8,1895.1 1266.1,1895.1 1265.4,1895.5 1264.7,1895.6 1264,1896 1263.3,1895.6 1262.6,1895.9 1261.9,1894.9 1261.2,1893.7 1260.5,1892.6 1259.8,1891.6 1259.1,1890.5 1258.4,1888 1257.7,1886.2 1257,1885.3 1256.3,1883.4 1255.6,1883 1254.9,1885.6 1254.2,1888.5 1253.5,1891 1252.8,1893.2 1252.1,1895 1251.4,1896.5 1250.7,1896.3 1250,1896.3 1249.3,1896.1 1248.6,1897.1 1247.9,1897.1 1247.2,1897.3 1246.5,1896.8 1245.8,1897.1 1245.2,1897.7 1244.5,1897.8 1243.8,1897.5 1243.1,1897.4 1242.4,1897.3 1241.7,1898 1241,1898.2 1240.3,1897.7 1239.6,1897.9 1238.9,1897.8 1238.2,1897.9 1237.5,1898 1236.8,1897.9 1236.1,1897.4 1235.4,1897.4 1234.7,1897.4 1234,1897.8 1233.3,1897.5 1232.6,1897.6 1231.9,1897.7 1231.2,1898.1 1230.5,1897.8 1229.8,1897.5 1229.1,1897.6 1228.4,1897.9 1227.7,1898.4 1227,1898.5 1226.4,1898.1 1225.7,1897.6 1225,1898.1 1224.3,1898.1 1223.6,1898.4 1222.9,1897.9 1222.2,1898.1 1221.5,1898.2 1220.8,1897.8 1220.1,1898 1219.4,1898.6 1218.7,1898.2 1218,1897.7 1217.3,1897.7 1216.6,1897.9 1215.9,1898.1 1215.2,1898.2 1214.5,1898 1213.8,1898 1213.1,1897.9 1212.4,1897.8 1211.7,1898.4 1211,1897.9 1210.3,1897.7 1209.6,1898.4 1208.9,1897.8 1208.2,1897.8 1207.5,1898.6 1206.9,1898.5 1206.2,1898.9 1205.5,1898.7 1204.8,1898.1 1204.1,1897.8 1203.4,1897.8 1202.7,1897.7 1202,1897.7 1201.3,1898 1200.6,1898.7 1199.9,1899.3 1199.2,1898.8 1198.5,1898.1 1197.8,1897.6 1197.1,1897.6 1196.4,1897.9 1195.7,1897.4 1195,1897.8 1194.3,1897.5 1193.6,1897.9 1192.9,1898.1 1192.2,1897.7 1191.5,1897.3 1190.8,1897.8 1190.1,1897.4 1189.4,1897.6 1188.7,1897.8 1188,1897.5 1187.4,1897.4 1186.7,1897.7 1186,1897.9 1185.3,1897.3 1184.6,1897.7 1183.9,1898.1 1183.2,1897.8 1182.5,1897.6 1181.8,1897.8 1181.1,1898.3 1180.4,1898 1179.7,1897.7 1179,1897.8 1178.3,1898.5 1177.6,1898.5 1176.9,1897.4 1176.2,1897.8 1175.5,1898.1 1174.8,1897.6 1174.1,1897.7 1173.4,1897.7 1172.7,1897.6 1172,1898.7 1171.3,1898.2 1170.6,1898 1169.9,1898.2 1169.2,1897.5 1168.5,1897.3 1167.9,1897.4 1167.2,1897.8 1166.5,1897.9 1165.8,1897.5 1165.1,1897.3 1164.4,1897.3 1163.7,1897.8 1163,1897.7 1162.3,1897.9 1161.6,1897.7 1160.9,1897.6 1160.2,1897.9 1159.5,1897.5 1158.8,1898 1158.1,1898.1 1157.4,1897.3 1156.7,1897.5 1156,1898 1155.3,1897.2 1154.6,1898.3 1153.9,1897.6 1153.2,1897.6 1152.5,1897.4 1151.8,1898 1151.1,1897.7 1150.4,1897.5 1149.7,1897.3 1149,1897.8 1148.4,1897.4 1147.7,1897.3 1147,1897.4 1146.3,1897.9 1145.6,1897.7 1144.9,1898.2 1144.2,1898.5 1143.5,1897.8 1142.8,1897.3 1142.1,1897.9 1141.4,1897.5 1140.7,1897.8 1140,1897.7 1139.3,1897.6 1138.6,1897.3 1137.9,1897.9 1137.2,1897.6 1136.5,1897.8 1135.8,1897.3 1135.1,1897.3 1134.4,1897.3 1133.7,1897.7 1133,1897.7 1132.3,1898 1131.6,1897.6 1130.9,1897.6 1130.2,1897.4 1129.6,1897.5 1128.9,1897.9 1128.2,1897.3 1127.5,1897.1 1126.8,1897.4 1126.1,1897.2 1125.4,1897.2 1124.7,1897.5 1124,1897.5 1123.3,1897.8 1122.6,1897.9 1121.9,1897.8 1121.2,1897.6 1120.5,1897.3 1119.8,1897.1 1119.1,1897.7 1118.4,1897.7 1117.7,1897.9 1117,1897.4 1116.3,1897.3 1115.6,1897.3 1114.9,1897.5 1114.2,1897.2 1113.5,1897.2 1112.8,1897.2 1112.1,1897.1 1111.4,1897.1 1110.7,1897.5 1110.1,1897.5 1109.4,1897.6 1108.7,1897.3 1108,1897.1 1107.3,1897.3 1106.6,1897 1105.9,1896.9 1105.2,1897.7 1104.5,1897.3 1103.8,1897.7 1103.1,1897.1 1102.4,1897.2 1101.7,1896.9 1101,1897.4 1100.3,1897.5 1099.6,1897.7 1098.9,1896.8 1098.2,1897.4 1097.5,1897.3 1096.8,1896.9 1096.1,1897.5 1095.4,1897.8 1094.7,1897.3 1094,1896.6 1093.3,1897.4 1092.6,1897.4 1091.9,1897.1 1091.2,1896.7 1090.6,1896.6 1089.9,1896.5 1089.2,1896.4 1088.5,1896.5 1087.8,1896.2 1087.1,1896 1086.4,1895.8 1085.7,1895.5 1085,1895.4 1084.3,1895.7 1083.6,1895.8 1082.9,1896.4 1082.2,1896.3 1081.5,1896.2 1080.8,1896.3 1080.1,1896 1079.4,1896.2 1078.7,1896 1078,1896.2 1077.3,1896 1076.6,1896.2 1075.8,1896.3 1075.1,1896.1 1074.4,1896.3 1073.7,1896.4 1073,1896.3 1072.3,1896.7 1071.6,1896.2 1070.9,1895.9 1070.2,1896.6 1069.5,1896.1 1068.8,1896 1068.1,1896.4 1067.4,1895.9 1066.7,1895.9 1066,1896.2 1065.2,1896.1 1064.5,1896.5 1063.8,1896 1063.1,1896.5 1062.4,1896.2 1061.7,1896 1061,1896 1060.3,1896 1059.6,1895.9 1058.9,1896 1058.2,1896.1 1057.5,1895.8 1056.8,1896.1 1056.1,1895.7 1055.4,1895.7 1054.7,1895.8 1053.9,1895.8 1053.2,1895.5 1052.5,1895.4 1051.8,1895.4 1051.1,1895.2 1050.4,1894.8 1049.7,1894.7 1049,1892.8 1048.3,1889.4 1047.9,1876.5 1047.6,1888.9 1046.9,1892.9 1046.2,1894.2 1045.5,1896.3 1044.8,1895.8 1044.1,1896.3 1043.4,1895.3 1042.6,1895.3 1041.9,1895.9 1041.2,1896.4 1040.5,1895.8 1039.8,1896 1039.1,1896.9 1038.4,1895.7 1037.7,1896.1 1037,1895.6 1036.3,1896 1035.6,1895.7 1034.9,1895.6 1034.2,1895.8 1033.5,1895.5 1032.8,1895.4 1032,1895.9 1031.3,1895.7 1030.6,1895.8 1029.9,1895.7 1029.2,1896 1028.5,1896.2 1027.8,1895.7 1027.1,1895.5 1026.4,1895.4 1025.7,1895.7 1025,1895.6 1024.3,1896.3 1023.6,1896.9 1022.9,1896 1022.2,1895.3 1021.5,1896 1020.7,1895.7 1020,1895.4 1019.3,1896 1018.6,1896 1017.9,1895.7 1017.2,1895.3 1016.5,1895.7 1015.8,1895.5 1015.1,1895.5 1014.4,1895.2 1013.7,1895.2 1013,1895.3 1012.3,1895.1 1011.6,1895.3 1010.9,1895.1 1010.1,1895 1009.4,1894.9 1008.7,1895.2 1008,1895.1 1007.3,1895.1 1006.6,1895.3 1005.9,1895.4 1005.2,1895.2 1004.5,1894.8 1003.8,1895.6 1003.1,1895.7 1002.4,1896 1001.7,1895.5 1001,1895.1 1000.3,1895.2 999.6,1895.2 998.8,1895.2 998.1,1895.4 997.4,1895.1 996.7,1895.8 996,1895.1 995.3,1894.6 994.6,1895.4 993.9,1895 993.2,1894.9 992.5,1894.9 991.8,1894.4 991.1,1895.5 990.4,1894.9 989.7,1894.8 989,1894.1 988.2,1894.3 987.5,1893.7 986.8,1893.8 986.1,1893.9 985.4,1893.8 984.7,1894 984,1893.6 983.3,1893 982.6,1892.8 981.9,1892.7 981.2,1892.5 980.5,1892.5 979.8,1892.4 979.1,1891.7 978.4,1891.1 977.7,1891.5 976.9,1891.2 976.2,1891 975.5,1889.5 974.8,1888.7 974.1,1887.9 973.4,1886.8 972.7,1886 972,1884.3 971.3,1882.7 970.6,1881.3 969.9,1877.8 969.2,1873.8 968.4,1867.9 967.7,1859.7 967,1846.1 966.3,1821.9 965.5,1773.4 964.7,1674.1 963.8,1546.9 963.1,1532.5 962.3,1453.5 961.7,1233 961.7,1531 961.2,1709.5 960.6,1788.4 959.9,1825.9 959.2,1846.9 958.5,1859.9 957.8,1868 957.1,1873.7 956.4,1878 955.7,1881 955,1883 954.3,1884.2 953.6,1886 952.9,1886.8 952.2,1888 951.5,1889 950.8,1889.6 950.1,1890 949.4,1890.6 948.7,1890.9 948,1890.8 947.3,1891.6 946.6,1891.9 945.9,1892 945.2,1892.1 944.5,1892.5 943.7,1892.1 943,1892 942.3,1892 941.6,1891.7 940.9,1891 940.2,1889.2 939.5,1892.5 938.8,1892.7 938.1,1892.9 937.4,1892.8 936.7,1892.8 936,1893 935.3,1893.1 934.6,1893.8 933.9,1894.2 933.1,1893.9 932.4,1893.3 931.7,1893.8 931,1893.5 930.3,1893.7 929.6,1894.1 928.9,1893.5 928.2,1893.5 927.5,1893.3 926.8,1893.7 926.1,1894.1 925.4,1893.3 924.7,1893.4 924,1894.7 923.3,1894 922.6,1893.6 921.8,1893.4 921.1,1893 920.4,1893.2 919.7,1893.1 919,1893.2 918.3,1894.2 917.6,1894 917.3,1893.5 916.9,1892.5 916.2,1892.7 915.5,1892.8 914.8,1892.5 914.1,1892.4 913.4,1892.1 912.7,1892.2 912,1891.9 911.2,1891.7 910.5,1891.2 909.8,1890.3 909.1,1889.9 908.4,1889.2 907.7,1888.1 907,1886.8 906.3,1884.6 905.6,1881.5 904.9,1875.9 904.2,1869 903.5,1858.7 902.7,1845.7 902,1832.5 901.3,1820.5 900.6,1817.8 899.9,1837.7 899.3,1855 898.6,1866.9 897.9,1874.9 897.2,1879.9 896.5,1883.5 895.8,1886.1 895.1,1887.9 894.4,1889 893.7,1889.6 893,1890.6 892.3,1890.9 891.6,1891.7 890.9,1892 890.2,1892.4 889.5,1892.4 888.8,1892.9 888.2,1893.3 887.5,1893.6 886.8,1893.1 886.1,1893.9 885.4,1894.3 884.7,1894.5 884,1893.7 883.3,1893.7 882.6,1894 881.9,1894 881.2,1894.3 880.5,1894.3 879.8,1894.2 879.1,1894 878.4,1894.2 877.7,1894.6 877,1894.4 876.3,1894 875.6,1894.1 874.9,1894 874.2,1894.3 873.5,1894.1 872.8,1893.9 872.1,1894.5 871.4,1894 870.7,1894.2 870,1894.5 869.3,1894.1 868.6,1893.8 867.9,1894.3 867.2,1894.3 866.5,1894.8 865.8,1894.7 865.1,1894.5 864.4,1893.6 863.7,1893 863,1890.7 862.3,1893.5 861.6,1894 860.9,1893.8 860.2,1893.9 859.5,1893.8 858.9,1894 858.2,1894 857.5,1893.8 856.8,1894 856.1,1894.3 855.4,1894.4 854.7,1894.9 854,1894.9 853.3,1894.6 852.6,1894 851.9,1894.4 851.2,1894.7 850.5,1894.8 849.8,1894 849.1,1894.2 848.4,1894.4 847.7,1894.2 847,1894 846.3,1894.5 845.6,1894 844.9,1894.1 844.2,1894.7 843.5,1894.9 842.8,1894.9 842.1,1894.7 841.4,1894.2 840.7,1894.4 840,1894.3 839.3,1893.9 838.6,1893.8 837.9,1893.9 837.2,1894 836.5,1894.2 835.8,1894.5 835.1,1894.3 834.4,1894.4 833.7,1894.3 833,1894.4 832.3,1894.1 831.6,1894 830.9,1894.2 830.3,1894.3 829.6,1894.3 828.9,1894.4 828.2,1894.7 827.5,1894.9 826.8,1894.5 826.1,1894.5 825.4,1894.8 824.7,1894.5 824,1893.9 823.3,1893.9 822.6,1894.2 821.9,1893.8 821.2,1894 820.5,1893.9 819.8,1893.8 819.1,1894.1 818.4,1894.4 817.7,1894 817,1894 816.3,1894.2 815.6,1893.6 814.9,1893.8 814.2,1893.4 813.5,1894.2 812.8,1893.5 812.1,1893.1 811.4,1893.6 810.7,1892.7 810,1892.6 809.3,1892.7 808.6,1892.8 807.9,1892.2 807.2,1892.3 806.5,1892.2 805.8,1892 805.1,1891.7 804.4,1891.6 803.7,1891.6 803,1891.1 802.3,1891 801.6,1890.8 800.9,1890.7 800.2,1889.8 799.6,1889.6 798.9,1889.4 798.2,1889.6 797.5,1889 796.8,1889.2 796.1,1889 795.4,1888.8 794.7,1888.9 794,1888.9 793.3,1889.5 792.6,1889.3 791.9,1888.9 791.2,1888.5 790.5,1888.6 789.8,1888.4 789.1,1887.5 788.4,1886.6 787.7,1885.5 787,1884.3 786.3,1882.4 785.6,1880.9 784.9,1879.1 784.2,1878 783.5,1877.3 782.8,1877.6 782.1,1878.4 781.4,1879.3 780.7,1880.5 780,1881.5 779.3,1882.8 778.6,1882.2 777.9,1882.8 777.2,1883 776.5,1882.1 775.8,1881 775.1,1879.8 774.4,1878.5 774.1,1878.8 773.7,1881.8 773,1884.6 772.3,1886.7 771.6,1888.6 770.9,1890 770.3,1890.3 769.6,1890.5 768.9,1891 768.2,1891.4 767.5,1890.9 766.8,1891.7 766.1,1890.4 765.4,1890.2 764.7,1888.8 764,1887.4 763.3,1885.3 762.6,1881.6 761.9,1872.6 761.1,1851.3 760.4,1794.2 759.7,1849.6 759.1,1868.9 758.4,1876.1 757.7,1879.1 757,1880.6 756.3,1880.8 755.6,1880.7 754.9,1880.4 754.2,1880.4 753.5,1879.4 752.8,1879 752.1,1879 751.4,1880 750.7,1880.7 750,1881.5 749.3,1882.3 748.6,1883.2 747.9,1883.9 747.2,1884.5 746.5,1885.1 745.8,1885.3 745.1,1884.6 744.4,1881.9 743.7,1879.4 743,1877.7 742.7,1874.3 742.3,1880.1 741.6,1883.3 740.9,1884.2 740.2,1884 739.6,1884.4 738.9,1884.2 738.2,1884.2 737.5,1882.3 736.8,1881 736.1,1879.9 735.4,1879 734.7,1878.9 734,1878.4 733.3,1879.9 732.6,1880.1 731.9,1880.5 731.2,1880.8 730.5,1881.2 729.8,1881 729.1,1881.7 728.4,1879.6 727.7,1876.8 727,1873.6 726.3,1875.6 725.6,1882.6 724.9,1886.9 724.2,1889.6 723.5,1891.1 722.8,1892.4 722.1,1893 721.4,1893.5 720.7,1893.9 720,1894.5 719.3,1894.7 718.6,1895.8 717.9,1895.2 717.2,1894.9 716.5,1894.8 715.8,1894.9 715.1,1894.8 714.4,1895 713.7,1894.9 713,1894.9 712.3,1895 711.6,1895.3 710.9,1895.2 710.2,1895 709.5,1895.9 708.8,1895.2 708.1,1894.7 707.4,1895.4 706.7,1894.5 706,1891.3 705.3,1894.3 704.6,1894.8 703.9,1895.3 703.2,1895.9 702.5,1895.2 701.8,1895.5 701.1,1895.6 700.4,1895.8 699.7,1896 699,1895.7 698.3,1896.1 697.6,1896.8 696.9,1896.1 696.2,1896 695.5,1896.5 694.8,1896.1 694.1,1896 693.4,1895.9 692.7,1896.2 692,1896 691.3,1896.4 690.6,1897 689.9,1896.9 689.2,1896.9 688.5,1897.1 687.8,1897.7 687.1,1897.4 686.4,1897.7 685.7,1897.3 685,1896.5 684.3,1896.7 683.6,1896.9 682.9,1896.3 682.2,1896.9 681.5,1896.2 680.8,1896.8 680.1,1896.6 679.4,1896.4 678.7,1897.6 678,1897.7 677.3,1897 676.6,1896.3 675.9,1896.8 675.2,1896.1 674.5,1896.7 673.8,1896.9 673.1,1896.3 672.4,1896.1 671.7,1895.9 671,1896.2 670.3,1896.6 669.6,1896.1 668.9,1896.1 668.2,1896.1 667.5,1896.3 666.8,1897 666.1,1896.5 665.4,1896.1 664.7,1896.7 664,1896.2 663.3,1896.4 662.6,1896.1 661.9,1895.9 661.2,1896 660.5,1896.1 659.8,1896.3 659.1,1896.1 658.4,1896.1 657.7,1896 657,1896.7 656.3,1896.4 655.6,1896.4 654.9,1896.2 654.2,1896.6 653.5,1896.6 652.8,1897.1 652.1,1897.1 651.4,1896.4 650.7,1896.8 650,1896.4 649.3,1896.5 648.6,1897 647.9,1897.7 647.2,1897.3 646.5,1897.2 645.8,1896.7 645.1,1896.9 644.4,1897 643.7,1897.2 643,1896.9 642.3,1896.7 641.6,1897.3 640.9,1897.1 640.2,1896.7 639.5,1897.4 638.8,1897.5 638.1,1897.1 637.4,1896.8 636.7,1896.5 636,1896.4 635.3,1896.4 634.6,1896.5 633.9,1897.1 633.2,1897.3 632.5,1896.8 631.8,1896.7 631.1,1897 630.4,1897 629.7,1896.5 629,1896.7 628.3,1896.3 627.6,1897 626.9,1896.8 626.2,1896.2 625.5,1896.1 624.8,1896.1 624.1,1896.3 623.4,1897.4 622.7,1897 622,1897.1 621.3,1896.7 620.6,1897 619.9,1896.1 619.2,1896.4 618.5,1896.2 617.8,1896.5 617.1,1896.8 616.4,1896.8 615.7,1896.7 615,1896.7 614.3,1896.5 613.6,1897.2 612.9,1897 612.2,1896.3 611.5,1896.3 610.8,1896.5 610.1,1897.2 609.4,1896.4 608.7,1896.6 608,1896.7 607.3,1896.3 606.6,1896.8 605.9,1896.4 605.2,1896.7 604.5,1896.3 603.8,1896.5 603.1,1896.7 602.4,1896.7 601.7,1896.8 601,1896.8 600.3,1897.1 599.6,1896.9 598.9,1896.9 598.2,1896.9 597.5,1897.1 596.8,1897.6 596.1,1897.6 595.4,1897.6 594.7,1896.6 594,1896.9 593.3,1897.4 592.6,1897.2 591.9,1896.8 591.2,1896.7 590.5,1896.7 589.8,1896.8 589.1,1897.1 588.4,1896.8 587.7,1897.3 587,1897.3 586.3,1897.3 585.6,1897.4 584.9,1897.6 584.2,1897.7 583.5,1897.9 582.8,1897.6 582.1,1897.1 581.4,1896.8 580.7,1897 580,1896.7 579.3,1896.7 578.6,1896.8 577.9,1896.7 577.2,1896.4 576.5,1896.6 575.8,1896.6 575.1,1896.3 574.4,1896.2 573.7,1896.2 573,1896.3 572.3,1896.5 571.6,1897 570.9,1896.4 570.2,1896.4 569.5,1897.1 568.8,1896.9 568.1,1897.7 567.4,1897.7 566.7,1897.7 566,1896.6 565.3,1896.4 564.6,1898 563.9,1897.6 563.2,1897.1 562.5,1896.5 561.8,1897.4 561.1,1898.5 560.4,1897.7 559.7,1896.7 559,1897.1 558.3,1897 557.6,1896.9 556.9,1896.5 556.2,1896.3 555.5,1896.5 554.8,1896.4 554.1,1896.3 553.4,1896.8 552.7,1896.2 552,1896.5 551.3,1896.4 550.6,1896.2 549.9,1897 549.2,1896.9 548.5,1896.9 547.8,1896.1 547.1,1896.7 546.4,1896.5 545.7,1896.1 545,1896.7 544.3,1897 543.6,1897.3 542.9,1897.6 542.2,1897.3 541.5,1896.2 540.8,1897.1 540.1,1896.9 539.4,1896.3 538.7,1896 538,1896.2 537.3,1896.4 536.6,1896.5 535.9,1896.2 535.2,1896.3 534.5,1896.1 533.8,1896.4 533.1,1896.3 532.4,1897.1 531.7,1896.3 531,1896.7 530.3,1896.1 529.6,1896.6 528.9,1896.3 528.2,1896.1 527.5,1896.8 526.8,1896.4 526.1,1896 525.4,1896.5 524.7,1896.6 524,1896.2 523.3,1896.5 522.6,1897.1 521.9,1896.9 521.2,1896.2 520.5,1896.6 519.8,1896.7 519.1,1896.3 518.4,1896.5 517.7,1896.4 517,1896.6 516.3,1896.6 515.6,1896.4 514.8,1896.9 514.1,1896.5 513.4,1896.8 512.7,1896.5 512,1896.6 511.3,1896.8 510.6,1896.4 509.9,1896.4 509.2,1896.5 508.5,1896.5 507.8,1896.4 507.1,1896.4 506.4,1896.4 505.7,1896.8 505,1897.1 504.3,1896.8 503.6,1896.7 502.9,1896.6 502.2,1897 501.5,1896.5 500.8,1896.6 500.1,1896.2 499.4,1896.4 498.7,1896.1 498,1896.5 497.3,1896.5 496.6,1895.9 495.9,1896.5 495.2,1896.8 494.5,1896.2 493.8,1896.6 493.1,1896 492.4,1895.9 491.7,1896.2 491,1896.5 490.3,1896.7 489.6,1896.1 488.9,1896.2 488.2,1896.2 487.5,1896.2 486.8,1896.1 486.1,1896.1 485.4,1896.1 484.7,1896.1 484,1896.2 483.3,1896.7 482.6,1896.2 481.9,1895.7 481.2,1896.3 480.5,1896.2 479.8,1896 479.1,1896.6 478.4,1896.8 477.7,1896.5 477,1896.7 476.3,1896.9 475.6,1896.9 474.9,1895.6 474.2,1895.7 473.5,1896 472.8,1895.3 472.1,1894.8 471.4,1895.2 470.7,1895.5 470,1894.7 469.3,1894.4 468.6,1893 467.9,1892.1 467.2,1892.1 466.5,1889.9 465.8,1886.9 465.1,1883.3 464.4,1875.9 463.6,1860.9 462.9,1825.9 462.1,1769.5 461.7,1738.9 461.5,1817.9 460.8,1858.1 460.2,1874.7 459.5,1882.2 458.8,1886.3 458.1,1889 457.4,1890.3 456.7,1891.5 456,1892 455.3,1892.8 454.6,1893 453.9,1894.1 453.2,1893.9 452.5,1894.1 451.8,1894 451.1,1894.6 450.4,1895.3 449.7,1894.8 449,1894.6 448.3,1894.6 447.6,1895.2 446.9,1895.1 446.2,1894.8 445.5,1894.8 444.8,1895.1 444.1,1895.2 443.4,1895 442.7,1895.1 442,1895.6 441.3,1895 440.6,1895.8 439.9,1895 439.2,1894.9 438.5,1895.2 437.8,1895 437.1,1895 436.4,1895.5 435.7,1895.4 435,1895.4 434.3,1895.1 433.6,1895.1 432.9,1894.8 432.2,1895.3 431.5,1895.1 430.8,1895.5 430.1,1895.2 429.3,1895.1 428.6,1895.5 427.9,1896.1 427.2,1895.3 426.5,1895.7 425.8,1895.3 425.1,1895.1 424.4,1895.5 423.7,1895.5 423,1896.1 422.3,1896.3 421.6,1896.1 420.9,1895.3 420.2,1895.3 419.5,1895.2 418.8,1895.2 418.1,1895.5 417.4,1895.3 416.7,1895.8 416,1896.3 415.3,1896.1 414.6,1895.9 413.9,1895.2 413.2,1895.2 412.5,1895.3 411.8,1895.2 411.1,1895.2 410.4,1895.1 409.7,1895.2 409,1895.8 408.3,1896.1 407.6,1896.5 406.9,1895.8 406.2,1895.6 405.5,1895.3 404.8,1895.6 404.1,1895.2 403.4,1895.4 402.7,1895.5 402,1895 401.3,1895.7 400.6,1895.2 399.9,1894.8 399.2,1895.2 398.5,1895.9 397.8,1896.3 397.1,1895.7 396.4,1895 395.7,1895.1 395,1894.5 394.3,1894.5 393.6,1894.5 392.9,1894.7 392.2,1894.9 391.5,1895.1 390.8,1894.7 390.1,1894.4 389.4,1894.1 388.7,1894.6 388,1894.1 387.3,1893.9 386.6,1894.8 385.9,1894.3 385.2,1894.6 384.5,1893.9 383.8,1894.2 383.1,1894.1 382.4,1894.3 381.7,1894.2 381,1894 380.3,1894.3 379.6,1894.1 378.9,1894 378.2,1894.1 377.5,1894.3 376.8,1894.4 376.1,1893.9 375.4,1894 374.7,1894.5 374,1893.8 373.3,1893.7 372.6,1893.6 371.9,1894.3 371.2,1894 370.5,1892.7 369.8,1892.8 369.1,1891.1 368.3,1886 368,1875.5 367.6,1886.6 367,1890.3 366.3,1892.1 365.6,1893.7 364.8,1894.4 364.1,1894.1 363.4,1893.6 362.7,1894.3 362,1893.7 361.3,1893.6 360.6,1893.6 359.9,1893.6 359.2,1893.9 358.5,1893.9 357.8,1893.9 357.1,1894 356.4,1894 355.7,1894.2 355,1893.8 354.3,1893.6 353.6,1893.6 352.9,1894.1 352.2,1893.7 351.5,1893.5 350.8,1893.5 350.1,1893.7 349.4,1893.8 348.7,1894 348,1893.9 347.3,1893.1 346.6,1893.8 345.9,1894.6 345.2,1894.6 344.5,1893.9 343.8,1893.7 343.1,1893.6 342.4,1893.7 341.7,1893.8 341,1893.8 340.3,1893.5 339.6,1893.2 338.9,1893.3 338.2,1893 337.5,1893.6 336.8,1892.8 336.1,1893.5 335.4,1892.8 334.7,1892.7 334,1892.7 333.3,1892.8 332.6,1892.7 331.9,1892.6 331.2,1893.1 330.4,1892.8 329.7,1892.8 329,1893.7 328.3,1893.8 327.6,1893.4 326.9,1892.9 326.2,1893.1 325.5,1893.1 324.8,1893.5 324.1,1893.5 323.4,1893.1 322.7,1892.8 322,1893.4 321.3,1892.9 320.6,1892.6 319.9,1893.3 319.2,1893.9 318.5,1893 317.8,1892.9 317.1,1892.8 316.4,1893.3 315.7,1894.2 315,1893.7 314.3,1892.8 313.6,1892.5 312.9,1892.5 312.2,1892.5 311.5,1892.2 310.8,1892.3 310.1,1892.1 309.4,1892.1 308.7,1892.5 308,1892.1 307.3,1892.8 306.6,1892.4 305.9,1893.1 305.2,1892.7 304.5,1892.1 303.8,1892 303.1,1891.9 302.4,1892.3 301.7,1892.6 301,1892.4 300.3,1891.6 299.6,1891.6 298.9,1891.4 298.2,1891.6 297.5,1892.3 296.8,1892 296,1891.2 295.3,1890.8 294.6,1891.7 293.9,1891.3 293.2,1891.7 292.5,1891.4 291.8,1891.3 291.1,1891.2 290.4,1891 289.7,1891.3 289,1891.4 288.3,1891.2 287.6,1890.9 286.9,1891.1 286.2,1891.7 285.5,1891.1 284.8,1891.3 284.1,1890.6 283.4,1891.3 282.7,1890.5 282,1890.8 281.3,1890.9 280.6,1890.3 279.9,1891.7 279.2,1891.2 278.5,1890.7 277.8,1890.3 277.1,1891 276.4,1891.7 275.7,1891.5 275,1890.9 274.3,1890 273.6,1889.8 272.9,1890.5 272.2,1890.3 271.5,1889.6 270.8,1889.9 270.1,1890.1 269.4,1890 268.7,1890.3 268,1890.5 267.3,1890.3 266.6,1889.8 265.9,1890.4 265.2,1891 264.5,1890.1 263.8,1889.2 263.1,1889.4 262.4,1889.6 261.6,1889.6 260.9,1890.2 260.2,1889.9 259.5,1889.6 258.8,1889.6 258.1,1889.3 257.4,1889.4 256.7,1889.2 256,1889 255.3,1889.3 254.6,1889.3 253.9,1889.5 253.2,1888.9 252.5,1889.7 251.8,1888.9 251.1,1888.9 250.4,1889.4 249.7,1888.9 249,1888.6 248.3,1888.7 247.6,1890 246.9,1889.5 246.2,1889.5 245.5,1888.7 244.8,1888.6 244.1,1888.7 243.4,1888.6 242.7,1889.1 242,1888.5 241.3,1888.5 240.6,1888.9 239.9,1888.4 239.2,1888.5 238.5,1888.4 237.8,1888.4 237.1,1888.4 236.4,1888.5 235.7,1888.8 235,1888.5 234.3,1888.6 233.6,1890 232.9,1889.5 232.2,1888.9 231.5,1888.1 230.8,1888.4 230.1,1888.2 229.4,1888.4 228.7,1887.8 228,1887.5 227.2,1887.6 226.5,1887.6 225.8,1887.8 225.1,1887.3 224.4,1887.5 223.7,1888.6 223,1888.2 222.3,1888 221.6,1887.8 220.9,1887.2 220.2,1887.2 219.5,1886.9 218.8,1887.4 218.1,1887.5 217.4,1887.6 216.7,1887.5 216,1887.5 215.3,1887.6 214.6,1887.1 213.9,1887.6 213.2,1888.2 212.5,1888.7 211.8,1888.8 211.1,1888.3 210.4,1887.5 209.7,1887.1 209,1886.6 208.3,1887.1 207.6,1886.7 206.9,1887.1 206.2,1886.6 205.5,1886.4 204.8,1886.9 204.1,1886.4 203.4,1886.9 202.7,1886.4 201.9,1887.2 201.2,1886.4 200.5,1886.4 199.8,1886 199.1,1886.5 198.4,1886.6 197.7,1887 197,1886.6 196.3,1887 195.6,1886.5 194.8,1886.1 194.1,1886 193.4,1885.4 192.7,1885.3 192,1885.6 191.3,1885.2 190.6,1884.9 189.9,1885.4 189.2,1885.1 188.5,1885.3 187.7,1885.2 187,1884.6 186.3,1885.2 185.6,1884.6 184.9,1884.5 184.2,1885 183.5,1884.8 182.8,1884.3 182.1,1883.9 181.4,1884 180.6,1883.6 179.9,1884.4 179.2,1883.5 178.5,1883.8 177.8,1884.3 177.1,1883 176.4,1883.1 175.7,1883.7 175,1883.8 174.3,1884.2 173.5,1884.4 172.8,1883.2 172.1,1882.9 171.4,1882.6 170.7,1882.4 170,1882.6 169.3,1882.4 168.6,1883 167.9,1882.3 167.1,1882.4 166.4,1882 165.7,1882 165,1882 164.3,1881.9 163.6,1881.7 162.9,1882.1 162.2,1881.6 161.5,1882.9 160.8,1882.7 160,1882.5 159.3,1881.2 158.6,1881.1 157.9,1880.9 157.2,1880.4 156.5,1880.4 155.8,1880.1 155.1,1879.8 154.4,1879.5 153.7,1880.4 152.9,1879.5 152.2,1879.5 151.5,1879.9 150.8,1879.4 150.1,1878.9 149.4,1878.3 148.7,1878 148,1878.7 147.3,1879.3 146.6,1878.8 145.8,1878.4 145.1,1877.3 144.4,1877.1 143.7,1877.1 143,1878.5 142.3,1877.5 141.6,1877.1 140.9,1876.5 140.2,1876.3 139.5,1876.1 138.7,1876.3 138,1876.5 137.3,1875.5 136.6,1875.5 135.9,1874.9 135.2,1874.9 134.5,1875 133.8,1874.7" fill="#0a0a0a" stroke="#0a0a0a" stroke-width="1.5" stroke-linejoin="round"/>
</g>
<g class="sans">
<text class="yl" x="115" y="924.6" text-anchor="end">0</text>
<text class="yl" x="113.9" y="763.7" text-anchor="end">1000</text>
<text class="yl" x="112.8" y="602.9" text-anchor="end">2000</text>
<text class="yl" x="111.8" y="442" text-anchor="end">3000</text>
<text class="yl" x="110.7" y="281.2" text-anchor="end">4000</text>
<text class="yl" x="109.6" y="120.3" text-anchor="end">5000</text>
<text class="yl" x="114" y="1913.4" text-anchor="end">0</text>
<text class="yl" x="113.9" y="1798.6" text-anchor="end">1000</text>
<text class="yl" x="113.7" y="1683.9" text-anchor="end">2000</text>
<text class="yl" x="113.6" y="1569.1" text-anchor="end">3000</text>
<text class="yl" x="113.4" y="1454.4" text-anchor="end">4000</text>
<text class="yl" x="113.3" y="1339.6" text-anchor="end">5000</text>
<text class="yl" x="113.2" y="1224.8" text-anchor="end">6000</text>
<text class="yl" x="113" y="1110.1" text-anchor="end">7000</text>
<text class="xl" x="378.5" y="963.6" text-anchor="middle">10</text>
<text class="xl" x="730.1" y="962.5" text-anchor="middle">20</text>
<text class="xl" x="1081.8" y="961.6" text-anchor="middle">30</text>
<text class="xl" x="1432.4" y="960" text-anchor="middle">40</text>
<text class="xl" x="1785.3" y="959.9" text-anchor="middle">50</text>
<text class="xl" x="2135.5" y="959.8" text-anchor="middle">60</text>
<text class="xl" x="380.8" y="1953.1" text-anchor="middle">10</text>
<text class="xl" x="731" y="1952.2" text-anchor="middle">20</text>
<text class="xl" x="1082" y="1951.5" text-anchor="middle">30</text>
<text class="xl" x="1430.7" y="1951" text-anchor="middle">40</text>
<text class="xl" x="1782.5" y="1950.7" text-anchor="middle">50</text>
<text class="xl" x="2132.6" y="1950.4" text-anchor="middle">60</text>
<text x="24.5" y="57.8">counts</text>
<text x="27.5" y="1048">counts</text>
<g clip-path="url(#clipA)"><text class="th" x="2225" y="1001">°2Thet</text></g>
<g clip-path="url(#clipB)"><text class="th" x="2226" y="1990.3">°2Thet</text></g>
</g>
<g class="serifb">
<text x="177.9" y="180.3"><tspan class="par" dy="-1.9">(</tspan><tspan dy="1.9" textLength="40.3" lengthAdjust="spacingAndGlyphs">a</tspan><tspan class="par" dy="-1.9">)</tspan></text>
<text x="177.2" y="1162.4"><tspan class="par" dy="-2.4">(</tspan><tspan dy="2.4" textLength="46.5" lengthAdjust="spacingAndGlyphs">b</tspan><tspan class="par" dy="-2.4">)</tspan></text>
</g>
<g class="serif">
<text transform="translate(469.3 733) rotate(-90)">Dck/kln</text>
<text transform="translate(580 830) rotate(-90)">K-, Na-Alu</text>
<text transform="translate(672.7 783.8) rotate(-90)">K-, Na-Alu</text>
<text transform="translate(765 715.7) rotate(-90)">Qz</text>
<text transform="translate(887 804) rotate(-90)">Dck/kln</text>
<text transform="translate(934.8 798.3) rotate(-90)">K-, Na-Alu</text>
<text transform="translate(966 160) rotate(-90)">Qz</text>
<text transform="translate(1090.2 728.8) rotate(-90)">K-, Na-Alu</text>
<text transform="translate(1310 828.7) rotate(-90)">Qz</text>
<text transform="translate(1418.5 820) rotate(-90)">Na-Alu/Qz</text>
<text transform="translate(1709 820) rotate(-90)">K-, Na-Alu</text>
<text transform="translate(1798.5 796.8) rotate(-90)">Qz</text>
<text transform="translate(1879 822.9) rotate(-90)">K-, Na-Alu</text>
<text transform="translate(2139 833) rotate(-90)">Qz</text>
<text transform="translate(470 1683) rotate(-90)">Dck/kln</text>
<text transform="translate(713.2 1860.5) rotate(-90)">Prl</text>
<text transform="translate(735 1791.2) rotate(-90)">Dck/kln</text>
<text transform="translate(768 1627.4) rotate(-90)">Qz</text>
<text transform="translate(801.7 1775) rotate(-90)">Dck/kln</text>
<text transform="translate(861 1798) rotate(-90)">Dck/kln</text>
<text transform="translate(916 1774.3) rotate(-90)">Dck/kln</text>
<text transform="translate(967 1149.7) rotate(-90)">Qz</text>
<text transform="translate(1062.9 1843.6) rotate(-90)">Prl</text>
<text transform="translate(1321 1828) rotate(-90)">Qz</text>
<text transform="translate(1391.6 1806.4) rotate(-90)">Dck/kln</text>
<text transform="translate(1798 1809.3) rotate(-90)">Qz</text>
<text transform="translate(2139.5 1813.6) rotate(-90)">Qz</text>
</g>
</svg>
</body>
</html>
